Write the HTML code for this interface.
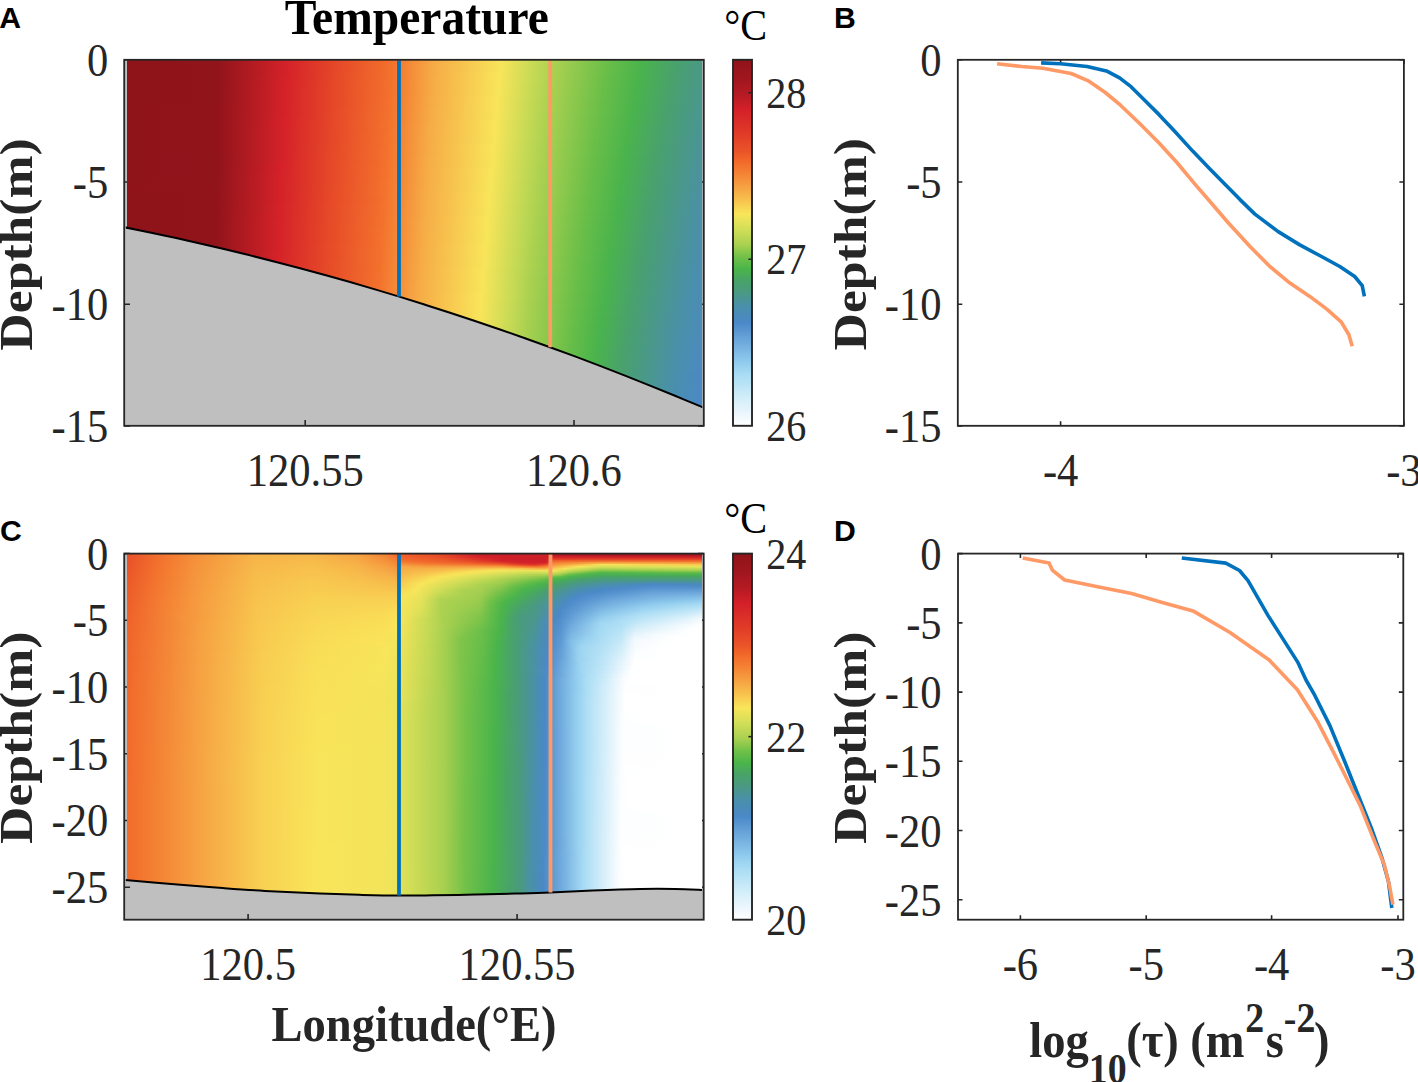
<!DOCTYPE html>
<html><head><meta charset="utf-8"><title>Temperature</title>
<style>html,body{margin:0;padding:0;background:#fff;}body{width:1418px;height:1082px;overflow:hidden;}svg{display:block;}</style>
</head><body>
<svg width="1418" height="1082" viewBox="0 0 1418 1082">
<defs><clipPath id="clipA"><path d="M124.20,227.22 C128.50,228.10 141.53,230.72 150.00,232.49 C158.47,234.26 166.67,236.02 175.00,237.84 C183.33,239.66 191.67,241.53 200.00,243.43 C208.33,245.34 216.67,247.28 225.00,249.27 C233.33,251.25 241.67,253.28 250.00,255.35 C258.33,257.41 266.67,259.52 275.00,261.67 C283.33,263.81 291.67,266.00 300.00,268.23 C308.33,270.46 316.67,272.73 325.00,275.03 C333.33,277.34 341.67,279.69 350.00,282.08 C358.33,284.47 366.67,286.90 375.00,289.37 C383.33,291.84 391.67,294.35 400.00,296.90 C408.33,299.45 416.67,302.05 425.00,304.68 C433.33,307.31 441.67,309.98 450.00,312.69 C458.33,315.41 466.67,318.16 475.00,320.95 C483.33,323.75 491.67,326.58 500.00,329.46 C508.33,332.33 516.67,335.24 525.00,338.20 C533.33,341.15 541.67,344.15 550.00,347.19 C558.33,350.22 566.67,353.30 575.00,356.41 C583.33,359.53 591.67,362.69 600.00,365.89 C608.33,369.08 616.67,372.32 625.00,375.60 C633.33,378.88 641.67,382.20 650.00,385.56 C658.33,388.91 666.67,392.31 675.00,395.75 C683.33,399.19 695.20,404.19 700.00,406.19 C704.80,408.20 703.17,407.53 703.80,407.80 L703.8,59.8 L124.2,59.8 Z"/></clipPath>
<clipPath id="clipAR"><rect x="127.0" y="59.8" width="575.3" height="400"/></clipPath>
<linearGradient id="g1" gradientUnits="userSpaceOnUse" x1="127.00" x2="702.30" y1="0" y2="0"><stop offset="0.0000" stop-color="#8f141a"/><stop offset="0.1564" stop-color="#90141a"/><stop offset="0.2781" stop-color="#d52229"/><stop offset="0.3685" stop-color="#e64a28"/><stop offset="0.4589" stop-color="#f3702c"/><stop offset="0.5354" stop-color="#f6ac46"/><stop offset="0.6501" stop-color="#f8e55a"/><stop offset="0.7161" stop-color="#bfd854"/><stop offset="0.7440" stop-color="#aad150"/><stop offset="0.8378" stop-color="#68be48"/><stop offset="0.8934" stop-color="#4ab44b"/><stop offset="0.9560" stop-color="#49a16d"/><stop offset="1.0000" stop-color="#4a9985"/></linearGradient>
<linearGradient id="g2" gradientUnits="userSpaceOnUse" x1="127.00" x2="702.30" y1="0" y2="0"><stop offset="0.0000" stop-color="#8f141a"/><stop offset="0.1564" stop-color="#90141a"/><stop offset="0.2781" stop-color="#d52229"/><stop offset="0.3685" stop-color="#e64a28"/><stop offset="0.4589" stop-color="#f3712d"/><stop offset="0.5319" stop-color="#f6ab46"/><stop offset="0.6501" stop-color="#f7e55a"/><stop offset="0.7161" stop-color="#bed754"/><stop offset="0.7405" stop-color="#abd151"/><stop offset="0.8378" stop-color="#67be48"/><stop offset="0.8934" stop-color="#4ab44c"/><stop offset="0.9560" stop-color="#49a06e"/><stop offset="1.0000" stop-color="#4a9986"/></linearGradient>
<linearGradient id="g3" gradientUnits="userSpaceOnUse" x1="127.00" x2="702.30" y1="0" y2="0"><stop offset="0.0000" stop-color="#8f141a"/><stop offset="0.1564" stop-color="#90141a"/><stop offset="0.2781" stop-color="#d52229"/><stop offset="0.3685" stop-color="#e64a28"/><stop offset="0.4589" stop-color="#f3712d"/><stop offset="0.5319" stop-color="#f6ab46"/><stop offset="0.6501" stop-color="#f7e55a"/><stop offset="0.7161" stop-color="#bdd754"/><stop offset="0.7405" stop-color="#abd151"/><stop offset="0.8343" stop-color="#69be48"/><stop offset="0.8934" stop-color="#4ab34d"/><stop offset="0.9525" stop-color="#49a16d"/><stop offset="1.0000" stop-color="#4a9887"/></linearGradient>
<linearGradient id="g4" gradientUnits="userSpaceOnUse" x1="127.00" x2="702.30" y1="0" y2="0"><stop offset="0.0000" stop-color="#8f141a"/><stop offset="0.1564" stop-color="#90141a"/><stop offset="0.2781" stop-color="#d52229"/><stop offset="0.3685" stop-color="#e64b28"/><stop offset="0.4589" stop-color="#f3712d"/><stop offset="0.5319" stop-color="#f6ab46"/><stop offset="0.6466" stop-color="#f9e55a"/><stop offset="0.7127" stop-color="#c0d854"/><stop offset="0.7405" stop-color="#aad150"/><stop offset="0.8343" stop-color="#68be48"/><stop offset="0.8900" stop-color="#4ab44c"/><stop offset="0.9525" stop-color="#49a16e"/><stop offset="1.0000" stop-color="#4a9888"/></linearGradient>
<linearGradient id="g5" gradientUnits="userSpaceOnUse" x1="127.00" x2="702.30" y1="0" y2="0"><stop offset="0.0000" stop-color="#8f141a"/><stop offset="0.1564" stop-color="#90141a"/><stop offset="0.2781" stop-color="#d52329"/><stop offset="0.3685" stop-color="#e64b28"/><stop offset="0.4589" stop-color="#f3712d"/><stop offset="0.5319" stop-color="#f6ac46"/><stop offset="0.6466" stop-color="#f9e55a"/><stop offset="0.7127" stop-color="#bfd854"/><stop offset="0.7405" stop-color="#aad150"/><stop offset="0.8309" stop-color="#69be48"/><stop offset="0.8900" stop-color="#4ab44c"/><stop offset="0.9525" stop-color="#49a06e"/><stop offset="1.0000" stop-color="#4a9889"/></linearGradient>
<linearGradient id="g6" gradientUnits="userSpaceOnUse" x1="127.00" x2="702.30" y1="0" y2="0"><stop offset="0.0000" stop-color="#8f141a"/><stop offset="0.1564" stop-color="#90141a"/><stop offset="0.2746" stop-color="#d52129"/><stop offset="0.3685" stop-color="#e74b28"/><stop offset="0.4589" stop-color="#f3722d"/><stop offset="0.5319" stop-color="#f6ac46"/><stop offset="0.6466" stop-color="#f8e55a"/><stop offset="0.7127" stop-color="#bfd854"/><stop offset="0.7370" stop-color="#abd151"/><stop offset="0.8309" stop-color="#69be48"/><stop offset="0.8865" stop-color="#4ab44b"/><stop offset="0.9491" stop-color="#49a16d"/><stop offset="1.0000" stop-color="#4a988a"/></linearGradient>
<linearGradient id="g7" gradientUnits="userSpaceOnUse" x1="127.00" x2="702.30" y1="0" y2="0"><stop offset="0.0000" stop-color="#8f141a"/><stop offset="0.1564" stop-color="#90141a"/><stop offset="0.2746" stop-color="#d52229"/><stop offset="0.3685" stop-color="#e74b28"/><stop offset="0.4589" stop-color="#f3722d"/><stop offset="0.5319" stop-color="#f6ac46"/><stop offset="0.6466" stop-color="#f8e55a"/><stop offset="0.7127" stop-color="#bed754"/><stop offset="0.7370" stop-color="#abd151"/><stop offset="0.8309" stop-color="#68be48"/><stop offset="0.8865" stop-color="#4ab44c"/><stop offset="0.9491" stop-color="#49a06e"/><stop offset="1.0000" stop-color="#4a978b"/></linearGradient>
<linearGradient id="g8" gradientUnits="userSpaceOnUse" x1="127.00" x2="702.30" y1="0" y2="0"><stop offset="0.0000" stop-color="#8f141a"/><stop offset="0.1564" stop-color="#90141a"/><stop offset="0.2746" stop-color="#d52229"/><stop offset="0.3650" stop-color="#e64a28"/><stop offset="0.4589" stop-color="#f3722d"/><stop offset="0.5319" stop-color="#f6ac46"/><stop offset="0.6466" stop-color="#f7e55a"/><stop offset="0.7127" stop-color="#bdd754"/><stop offset="0.7370" stop-color="#aad150"/><stop offset="0.8274" stop-color="#69be48"/><stop offset="0.8865" stop-color="#4ab34c"/><stop offset="0.9456" stop-color="#49a16d"/><stop offset="1.0000" stop-color="#4a978c"/></linearGradient>
<linearGradient id="g9" gradientUnits="userSpaceOnUse" x1="127.00" x2="702.30" y1="0" y2="0"><stop offset="0.0000" stop-color="#8f141a"/><stop offset="0.1564" stop-color="#90141a"/><stop offset="0.2746" stop-color="#d52229"/><stop offset="0.3650" stop-color="#e64a28"/><stop offset="0.4554" stop-color="#f2702c"/><stop offset="0.5319" stop-color="#f6ac46"/><stop offset="0.6466" stop-color="#f7e55a"/><stop offset="0.7092" stop-color="#c0d854"/><stop offset="0.7370" stop-color="#aad150"/><stop offset="0.8274" stop-color="#69be48"/><stop offset="0.8830" stop-color="#4ab44b"/><stop offset="0.9456" stop-color="#49a16e"/><stop offset="1.0000" stop-color="#4a978d"/></linearGradient>
<linearGradient id="g10" gradientUnits="userSpaceOnUse" x1="127.00" x2="702.30" y1="0" y2="0"><stop offset="0.0000" stop-color="#8f141a"/><stop offset="0.1564" stop-color="#90141a"/><stop offset="0.2746" stop-color="#d52229"/><stop offset="0.3650" stop-color="#e64a28"/><stop offset="0.4554" stop-color="#f3702c"/><stop offset="0.5284" stop-color="#f6ab46"/><stop offset="0.6431" stop-color="#f9e55a"/><stop offset="0.7092" stop-color="#bfd854"/><stop offset="0.7335" stop-color="#abd151"/><stop offset="0.8274" stop-color="#68be48"/><stop offset="0.8830" stop-color="#4ab44c"/><stop offset="0.9421" stop-color="#49a16d"/><stop offset="1.0000" stop-color="#4a978e"/></linearGradient>
<linearGradient id="g11" gradientUnits="userSpaceOnUse" x1="127.00" x2="702.30" y1="0" y2="0"><stop offset="0.0000" stop-color="#8f141a"/><stop offset="0.1564" stop-color="#90141a"/><stop offset="0.2746" stop-color="#d52229"/><stop offset="0.3650" stop-color="#e64a28"/><stop offset="0.4554" stop-color="#f3712d"/><stop offset="0.5284" stop-color="#f6ab46"/><stop offset="0.6431" stop-color="#f8e55a"/><stop offset="0.7092" stop-color="#bed754"/><stop offset="0.7335" stop-color="#abd151"/><stop offset="0.8239" stop-color="#69be48"/><stop offset="0.8830" stop-color="#4ab34d"/><stop offset="0.9421" stop-color="#49a16d"/><stop offset="1.0000" stop-color="#4a968f"/></linearGradient>
<linearGradient id="g12" gradientUnits="userSpaceOnUse" x1="127.00" x2="702.30" y1="0" y2="0"><stop offset="0.0000" stop-color="#8f141a"/><stop offset="0.1564" stop-color="#91141a"/><stop offset="0.2746" stop-color="#d52229"/><stop offset="0.3650" stop-color="#e64a28"/><stop offset="0.4554" stop-color="#f3712d"/><stop offset="0.5284" stop-color="#f6ab46"/><stop offset="0.6431" stop-color="#f8e55a"/><stop offset="0.7092" stop-color="#bed754"/><stop offset="0.7335" stop-color="#abd150"/><stop offset="0.8239" stop-color="#69be48"/><stop offset="0.8795" stop-color="#4ab44b"/><stop offset="0.9421" stop-color="#49a06e"/><stop offset="1.0000" stop-color="#4a9690"/></linearGradient>
<linearGradient id="g13" gradientUnits="userSpaceOnUse" x1="127.00" x2="702.30" y1="0" y2="0"><stop offset="0.0000" stop-color="#8f141a"/><stop offset="0.1564" stop-color="#91141a"/><stop offset="0.2746" stop-color="#d52229"/><stop offset="0.3650" stop-color="#e64b28"/><stop offset="0.4554" stop-color="#f3712d"/><stop offset="0.5284" stop-color="#f6ac46"/><stop offset="0.6431" stop-color="#f8e55a"/><stop offset="0.7092" stop-color="#bdd754"/><stop offset="0.7335" stop-color="#aad150"/><stop offset="0.8239" stop-color="#68be48"/><stop offset="0.8795" stop-color="#4ab44c"/><stop offset="0.9386" stop-color="#49a16d"/><stop offset="1.0000" stop-color="#4a9691"/></linearGradient>
<linearGradient id="g14" gradientUnits="userSpaceOnUse" x1="127.00" x2="702.30" y1="0" y2="0"><stop offset="0.0000" stop-color="#8f141a"/><stop offset="0.1564" stop-color="#91141a"/><stop offset="0.2746" stop-color="#d52229"/><stop offset="0.3650" stop-color="#e64b28"/><stop offset="0.4554" stop-color="#f3722d"/><stop offset="0.5284" stop-color="#f6ac46"/><stop offset="0.6431" stop-color="#f7e55a"/><stop offset="0.7057" stop-color="#bfd854"/><stop offset="0.7301" stop-color="#abd151"/><stop offset="0.8239" stop-color="#68be48"/><stop offset="0.8795" stop-color="#4ab34d"/><stop offset="0.9386" stop-color="#49a06e"/><stop offset="1.0000" stop-color="#4a9692"/></linearGradient>
<linearGradient id="g15" gradientUnits="userSpaceOnUse" x1="127.00" x2="702.30" y1="0" y2="0"><stop offset="0.0000" stop-color="#8f141a"/><stop offset="0.1564" stop-color="#91141a"/><stop offset="0.2746" stop-color="#d52329"/><stop offset="0.3650" stop-color="#e74b28"/><stop offset="0.4554" stop-color="#f3722d"/><stop offset="0.5284" stop-color="#f6ac46"/><stop offset="0.6431" stop-color="#f7e55a"/><stop offset="0.7057" stop-color="#bfd854"/><stop offset="0.7301" stop-color="#abd151"/><stop offset="0.8204" stop-color="#69be48"/><stop offset="0.8761" stop-color="#4ab44c"/><stop offset="0.9352" stop-color="#49a16d"/><stop offset="1.0000" stop-color="#4a9593"/></linearGradient>
<linearGradient id="g16" gradientUnits="userSpaceOnUse" x1="127.00" x2="702.30" y1="0" y2="0"><stop offset="0.0000" stop-color="#8f141a"/><stop offset="0.1564" stop-color="#91141a"/><stop offset="0.2712" stop-color="#d52129"/><stop offset="0.3650" stop-color="#e74b28"/><stop offset="0.4554" stop-color="#f3722d"/><stop offset="0.5284" stop-color="#f6ac46"/><stop offset="0.6397" stop-color="#f9e55a"/><stop offset="0.7022" stop-color="#c1d854"/><stop offset="0.7301" stop-color="#abd150"/><stop offset="0.8204" stop-color="#68be48"/><stop offset="0.8761" stop-color="#4ab44c"/><stop offset="0.9352" stop-color="#49a16d"/><stop offset="1.0000" stop-color="#4a9594"/></linearGradient>
<linearGradient id="g17" gradientUnits="userSpaceOnUse" x1="127.00" x2="702.30" y1="0" y2="0"><stop offset="0.0000" stop-color="#8f141a"/><stop offset="0.1564" stop-color="#91141a"/><stop offset="0.2712" stop-color="#d52129"/><stop offset="0.3650" stop-color="#e74b28"/><stop offset="0.4554" stop-color="#f3732d"/><stop offset="0.5249" stop-color="#f6ab46"/><stop offset="0.6397" stop-color="#f8e55a"/><stop offset="0.7057" stop-color="#bdd754"/><stop offset="0.7301" stop-color="#aad150"/><stop offset="0.8204" stop-color="#68be48"/><stop offset="0.8761" stop-color="#4ab34d"/><stop offset="0.9352" stop-color="#49a06e"/><stop offset="1.0000" stop-color="#4a9595"/></linearGradient>
<linearGradient id="g18" gradientUnits="userSpaceOnUse" x1="127.00" x2="702.30" y1="0" y2="0"><stop offset="0.0000" stop-color="#8f141a"/><stop offset="0.1564" stop-color="#91141a"/><stop offset="0.2712" stop-color="#d52229"/><stop offset="0.3616" stop-color="#e64a28"/><stop offset="0.4519" stop-color="#f3702c"/><stop offset="0.5249" stop-color="#f6ab46"/><stop offset="0.6397" stop-color="#f8e55a"/><stop offset="0.7022" stop-color="#c0d854"/><stop offset="0.7266" stop-color="#acd151"/><stop offset="0.8170" stop-color="#69be48"/><stop offset="0.8726" stop-color="#4ab44c"/><stop offset="0.9317" stop-color="#49a16d"/><stop offset="1.0000" stop-color="#4a9596"/></linearGradient>
<linearGradient id="g19" gradientUnits="userSpaceOnUse" x1="127.00" x2="702.30" y1="0" y2="0"><stop offset="0.0000" stop-color="#8f141a"/><stop offset="0.1564" stop-color="#91141a"/><stop offset="0.2712" stop-color="#d52229"/><stop offset="0.3616" stop-color="#e64a28"/><stop offset="0.4519" stop-color="#f3712d"/><stop offset="0.5249" stop-color="#f6ab46"/><stop offset="0.6397" stop-color="#f8e55a"/><stop offset="0.7022" stop-color="#bfd854"/><stop offset="0.7266" stop-color="#abd151"/><stop offset="0.8170" stop-color="#69be48"/><stop offset="0.8726" stop-color="#4ab34c"/><stop offset="0.9317" stop-color="#49a16e"/><stop offset="1.0000" stop-color="#4a9497"/></linearGradient>
<linearGradient id="g20" gradientUnits="userSpaceOnUse" x1="127.00" x2="702.30" y1="0" y2="0"><stop offset="0.0000" stop-color="#8f141a"/><stop offset="0.1564" stop-color="#91141a"/><stop offset="0.2712" stop-color="#d52229"/><stop offset="0.3616" stop-color="#e64a28"/><stop offset="0.4519" stop-color="#f3712d"/><stop offset="0.5249" stop-color="#f6ac46"/><stop offset="0.6397" stop-color="#f7e55a"/><stop offset="0.7022" stop-color="#bfd854"/><stop offset="0.7266" stop-color="#abd151"/><stop offset="0.8170" stop-color="#68be48"/><stop offset="0.8691" stop-color="#4ab44b"/><stop offset="0.9282" stop-color="#49a16d"/><stop offset="1.0000" stop-color="#4a9498"/></linearGradient>
<linearGradient id="g21" gradientUnits="userSpaceOnUse" x1="127.00" x2="702.30" y1="0" y2="0"><stop offset="0.0000" stop-color="#8f141a"/><stop offset="0.1564" stop-color="#91141a"/><stop offset="0.2712" stop-color="#d52229"/><stop offset="0.3616" stop-color="#e64a28"/><stop offset="0.4519" stop-color="#f3712d"/><stop offset="0.5249" stop-color="#f6ac46"/><stop offset="0.6397" stop-color="#f7e55a"/><stop offset="0.7022" stop-color="#bed754"/><stop offset="0.7266" stop-color="#aad150"/><stop offset="0.8135" stop-color="#69be48"/><stop offset="0.8691" stop-color="#4ab44c"/><stop offset="0.9282" stop-color="#49a16d"/><stop offset="0.9977" stop-color="#4a9497"/><stop offset="1.0000" stop-color="#4a9499"/></linearGradient>
<linearGradient id="g22" gradientUnits="userSpaceOnUse" x1="127.00" x2="702.30" y1="0" y2="0"><stop offset="0.0000" stop-color="#8f141a"/><stop offset="0.1564" stop-color="#91141a"/><stop offset="0.2712" stop-color="#d52229"/><stop offset="0.3616" stop-color="#e64b28"/><stop offset="0.4519" stop-color="#f3712d"/><stop offset="0.5249" stop-color="#f6ac46"/><stop offset="0.6362" stop-color="#f9e55a"/><stop offset="0.6988" stop-color="#c1d854"/><stop offset="0.7266" stop-color="#aad150"/><stop offset="0.8135" stop-color="#69be48"/><stop offset="0.8691" stop-color="#4ab34c"/><stop offset="0.9282" stop-color="#49a06e"/><stop offset="0.9977" stop-color="#4a9498"/><stop offset="1.0000" stop-color="#4a949a"/></linearGradient>
<linearGradient id="g23" gradientUnits="userSpaceOnUse" x1="127.00" x2="702.30" y1="0" y2="0"><stop offset="0.0000" stop-color="#8f141a"/><stop offset="0.1564" stop-color="#91141a"/><stop offset="0.2712" stop-color="#d52229"/><stop offset="0.3616" stop-color="#e64b28"/><stop offset="0.4519" stop-color="#f3722d"/><stop offset="0.5249" stop-color="#f6ac46"/><stop offset="0.6362" stop-color="#f9e55a"/><stop offset="0.6988" stop-color="#c0d854"/><stop offset="0.7231" stop-color="#abd151"/><stop offset="0.8135" stop-color="#68be48"/><stop offset="0.8656" stop-color="#4ab44b"/><stop offset="0.9247" stop-color="#49a16d"/><stop offset="0.9943" stop-color="#4a9497"/><stop offset="1.0000" stop-color="#4a939b"/></linearGradient>
<linearGradient id="g24" gradientUnits="userSpaceOnUse" x1="127.00" x2="702.30" y1="0" y2="0"><stop offset="0.0000" stop-color="#8f141a"/><stop offset="0.1564" stop-color="#91141b"/><stop offset="0.2712" stop-color="#d52229"/><stop offset="0.3616" stop-color="#e74b28"/><stop offset="0.4519" stop-color="#f3722d"/><stop offset="0.5249" stop-color="#f6ac46"/><stop offset="0.6362" stop-color="#f8e55a"/><stop offset="0.6988" stop-color="#bfd854"/><stop offset="0.7231" stop-color="#abd151"/><stop offset="0.8135" stop-color="#68be48"/><stop offset="0.8656" stop-color="#4ab44c"/><stop offset="0.9247" stop-color="#49a16e"/><stop offset="0.9908" stop-color="#4a9595"/><stop offset="1.0000" stop-color="#4a939c"/></linearGradient>
<linearGradient id="g25" gradientUnits="userSpaceOnUse" x1="127.00" x2="702.30" y1="0" y2="0"><stop offset="0.0000" stop-color="#8f141a"/><stop offset="0.1564" stop-color="#91141b"/><stop offset="0.2712" stop-color="#d52229"/><stop offset="0.3616" stop-color="#e74b28"/><stop offset="0.4519" stop-color="#f3722d"/><stop offset="0.5215" stop-color="#f6ab46"/><stop offset="0.6362" stop-color="#f8e55a"/><stop offset="0.6988" stop-color="#bfd854"/><stop offset="0.7231" stop-color="#abd150"/><stop offset="0.8100" stop-color="#69be48"/><stop offset="0.8656" stop-color="#4ab34c"/><stop offset="0.9247" stop-color="#49a06e"/><stop offset="0.9943" stop-color="#4a9499"/><stop offset="1.0000" stop-color="#4a939d"/></linearGradient>
<linearGradient id="g26" gradientUnits="userSpaceOnUse" x1="127.00" x2="702.30" y1="0" y2="0"><stop offset="0.0000" stop-color="#8f141a"/><stop offset="0.1564" stop-color="#91141b"/><stop offset="0.2712" stop-color="#d52329"/><stop offset="0.3616" stop-color="#e74b28"/><stop offset="0.4485" stop-color="#f2702c"/><stop offset="0.5215" stop-color="#f6ab46"/><stop offset="0.6362" stop-color="#f7e55a"/><stop offset="0.6953" stop-color="#c1d854"/><stop offset="0.7231" stop-color="#aad150"/><stop offset="0.8100" stop-color="#69be48"/><stop offset="0.8622" stop-color="#4ab44b"/><stop offset="0.9213" stop-color="#49a16d"/><stop offset="0.9873" stop-color="#4a9595"/><stop offset="1.0000" stop-color="#4a939e"/></linearGradient>
<linearGradient id="g27" gradientUnits="userSpaceOnUse" x1="127.00" x2="702.30" y1="0" y2="0"><stop offset="0.0000" stop-color="#8f141a"/><stop offset="0.1564" stop-color="#91141b"/><stop offset="0.2677" stop-color="#d52129"/><stop offset="0.3616" stop-color="#e74c28"/><stop offset="0.4485" stop-color="#f3702c"/><stop offset="0.5215" stop-color="#f6ab46"/><stop offset="0.6362" stop-color="#f7e55a"/><stop offset="0.6953" stop-color="#c1d854"/><stop offset="0.7196" stop-color="#acd151"/><stop offset="0.8100" stop-color="#68be48"/><stop offset="0.8622" stop-color="#4ab44c"/><stop offset="0.9213" stop-color="#49a06e"/><stop offset="0.9908" stop-color="#4a9498"/><stop offset="1.0000" stop-color="#4a929f"/></linearGradient>
<linearGradient id="g28" gradientUnits="userSpaceOnUse" x1="127.00" x2="702.30" y1="0" y2="0"><stop offset="0.0000" stop-color="#8f141a"/><stop offset="0.1564" stop-color="#91141b"/><stop offset="0.2677" stop-color="#d52129"/><stop offset="0.3616" stop-color="#e74c28"/><stop offset="0.4485" stop-color="#f3712d"/><stop offset="0.5215" stop-color="#f6ac46"/><stop offset="0.6327" stop-color="#f9e55a"/><stop offset="0.6953" stop-color="#c0d854"/><stop offset="0.7196" stop-color="#abd151"/><stop offset="0.8065" stop-color="#69be48"/><stop offset="0.8622" stop-color="#4ab34c"/><stop offset="0.9178" stop-color="#49a16d"/><stop offset="0.9873" stop-color="#4a9497"/><stop offset="1.0000" stop-color="#4a92a0"/></linearGradient>
<linearGradient id="g29" gradientUnits="userSpaceOnUse" x1="127.00" x2="702.30" y1="0" y2="0"><stop offset="0.0000" stop-color="#8f141a"/><stop offset="0.1564" stop-color="#91141b"/><stop offset="0.2677" stop-color="#d52229"/><stop offset="0.3581" stop-color="#e64a28"/><stop offset="0.4485" stop-color="#f3712d"/><stop offset="0.5215" stop-color="#f6ac46"/><stop offset="0.6327" stop-color="#f9e55a"/><stop offset="0.6953" stop-color="#bfd854"/><stop offset="0.7196" stop-color="#abd151"/><stop offset="0.8065" stop-color="#69be48"/><stop offset="0.8587" stop-color="#4ab44b"/><stop offset="0.9178" stop-color="#49a16d"/><stop offset="0.9838" stop-color="#4a9596"/><stop offset="1.0000" stop-color="#4a92a1"/></linearGradient>
<linearGradient id="g30" gradientUnits="userSpaceOnUse" x1="127.00" x2="702.30" y1="0" y2="0"><stop offset="0.0000" stop-color="#8f141a"/><stop offset="0.1564" stop-color="#91141b"/><stop offset="0.2677" stop-color="#d52229"/><stop offset="0.3581" stop-color="#e64a28"/><stop offset="0.4485" stop-color="#f3712d"/><stop offset="0.5215" stop-color="#f6ac46"/><stop offset="0.6327" stop-color="#f8e55a"/><stop offset="0.6953" stop-color="#bfd854"/><stop offset="0.7196" stop-color="#abd150"/><stop offset="0.8065" stop-color="#68be48"/><stop offset="0.8587" stop-color="#4ab44c"/><stop offset="0.9178" stop-color="#49a06e"/><stop offset="0.9873" stop-color="#4a9499"/><stop offset="1.0000" stop-color="#4a92a2"/></linearGradient>
<linearGradient id="g31" gradientUnits="userSpaceOnUse" x1="127.00" x2="702.30" y1="0" y2="0"><stop offset="0.0000" stop-color="#8f141a"/><stop offset="0.1564" stop-color="#92141b"/><stop offset="0.2677" stop-color="#d52229"/><stop offset="0.3581" stop-color="#e64a28"/><stop offset="0.4485" stop-color="#f3722d"/><stop offset="0.5215" stop-color="#f6ac46"/><stop offset="0.6327" stop-color="#f8e55a"/><stop offset="0.6918" stop-color="#c1d854"/><stop offset="0.7196" stop-color="#aad150"/><stop offset="0.8031" stop-color="#6abe48"/><stop offset="0.8587" stop-color="#4ab34c"/><stop offset="0.9143" stop-color="#49a16d"/><stop offset="0.9804" stop-color="#4a9595"/><stop offset="1.0000" stop-color="#4a91a3"/></linearGradient>
<linearGradient id="g32" gradientUnits="userSpaceOnUse" x1="127.00" x2="702.30" y1="0" y2="0"><stop offset="0.0000" stop-color="#8f141a"/><stop offset="0.1564" stop-color="#92141b"/><stop offset="0.2677" stop-color="#d52229"/><stop offset="0.3581" stop-color="#e64b28"/><stop offset="0.4485" stop-color="#f3722d"/><stop offset="0.5215" stop-color="#f6ad46"/><stop offset="0.6327" stop-color="#f7e55a"/><stop offset="0.6918" stop-color="#c1d854"/><stop offset="0.7161" stop-color="#abd151"/><stop offset="0.8031" stop-color="#69be48"/><stop offset="0.8587" stop-color="#4ab34d"/><stop offset="0.9143" stop-color="#49a16e"/><stop offset="0.9804" stop-color="#4a9496"/><stop offset="1.0000" stop-color="#4a91a4"/></linearGradient>
<linearGradient id="g33" gradientUnits="userSpaceOnUse" x1="127.00" x2="702.30" y1="0" y2="0"><stop offset="0.0000" stop-color="#8f141a"/><stop offset="0.1564" stop-color="#92141b"/><stop offset="0.2677" stop-color="#d52229"/><stop offset="0.3581" stop-color="#e64b28"/><stop offset="0.4485" stop-color="#f3722d"/><stop offset="0.5180" stop-color="#f6ab46"/><stop offset="0.6327" stop-color="#f7e55a"/><stop offset="0.6918" stop-color="#c0d854"/><stop offset="0.7161" stop-color="#abd151"/><stop offset="0.8031" stop-color="#69be48"/><stop offset="0.8552" stop-color="#4ab44c"/><stop offset="0.9108" stop-color="#49a16c"/><stop offset="0.9804" stop-color="#4a9497"/><stop offset="1.0000" stop-color="#4a91a5"/></linearGradient>
<linearGradient id="g34" gradientUnits="userSpaceOnUse" x1="127.00" x2="702.30" y1="0" y2="0"><stop offset="0.0000" stop-color="#8f141a"/><stop offset="0.1530" stop-color="#90141a"/><stop offset="0.2677" stop-color="#d52229"/><stop offset="0.3581" stop-color="#e74b28"/><stop offset="0.4485" stop-color="#f3732d"/><stop offset="0.5180" stop-color="#f6ab46"/><stop offset="0.6292" stop-color="#f9e55a"/><stop offset="0.6918" stop-color="#bfd854"/><stop offset="0.7161" stop-color="#abd150"/><stop offset="0.8031" stop-color="#68be48"/><stop offset="0.8552" stop-color="#4ab44c"/><stop offset="0.9108" stop-color="#49a16d"/><stop offset="0.9769" stop-color="#4a9596"/><stop offset="1.0000" stop-color="#4a91a6"/></linearGradient>
<linearGradient id="g35" gradientUnits="userSpaceOnUse" x1="127.00" x2="702.30" y1="0" y2="0"><stop offset="0.0000" stop-color="#8f141a"/><stop offset="0.1530" stop-color="#90141a"/><stop offset="0.2677" stop-color="#d52229"/><stop offset="0.3616" stop-color="#e74d28"/><stop offset="0.4450" stop-color="#f2702c"/><stop offset="0.5180" stop-color="#f6ab46"/><stop offset="0.6292" stop-color="#f9e55a"/><stop offset="0.6918" stop-color="#bfd854"/><stop offset="0.7161" stop-color="#aad150"/><stop offset="0.7996" stop-color="#69be48"/><stop offset="0.8552" stop-color="#4ab34d"/><stop offset="0.9108" stop-color="#49a06e"/><stop offset="0.9804" stop-color="#4a9499"/><stop offset="1.0000" stop-color="#4a90a7"/></linearGradient>
<linearGradient id="g36" gradientUnits="userSpaceOnUse" x1="127.00" x2="702.30" y1="0" y2="0"><stop offset="0.0000" stop-color="#8f141a"/><stop offset="0.1530" stop-color="#90141a"/><stop offset="0.2677" stop-color="#d52229"/><stop offset="0.3581" stop-color="#e74b28"/><stop offset="0.4450" stop-color="#f3702c"/><stop offset="0.5180" stop-color="#f6ac46"/><stop offset="0.6292" stop-color="#f8e55a"/><stop offset="0.6883" stop-color="#c2d955"/><stop offset="0.7161" stop-color="#aad150"/><stop offset="0.7996" stop-color="#69be48"/><stop offset="0.8517" stop-color="#4ab44b"/><stop offset="0.9074" stop-color="#49a16d"/><stop offset="0.9734" stop-color="#4a9595"/><stop offset="1.0000" stop-color="#4a90a8"/></linearGradient>
<linearGradient id="g37" gradientUnits="userSpaceOnUse" x1="127.00" x2="702.30" y1="0" y2="0"><stop offset="0.0000" stop-color="#8f141a"/><stop offset="0.1530" stop-color="#90141a"/><stop offset="0.2677" stop-color="#d52329"/><stop offset="0.3581" stop-color="#e74c28"/><stop offset="0.4450" stop-color="#f3712d"/><stop offset="0.5180" stop-color="#f6ac46"/><stop offset="0.6292" stop-color="#f8e55a"/><stop offset="0.6883" stop-color="#c1d854"/><stop offset="0.7127" stop-color="#abd151"/><stop offset="0.7996" stop-color="#68be48"/><stop offset="0.8517" stop-color="#4ab44c"/><stop offset="0.9074" stop-color="#49a16d"/><stop offset="0.9734" stop-color="#4a9496"/><stop offset="1.0000" stop-color="#4a90a8"/></linearGradient>
<linearGradient id="g38" gradientUnits="userSpaceOnUse" x1="127.00" x2="702.30" y1="0" y2="0"><stop offset="0.0000" stop-color="#8f141a"/><stop offset="0.1530" stop-color="#90141a"/><stop offset="0.2677" stop-color="#d52329"/><stop offset="0.3581" stop-color="#e74c28"/><stop offset="0.4450" stop-color="#f3712d"/><stop offset="0.5180" stop-color="#f6ac46"/><stop offset="0.6292" stop-color="#f7e55a"/><stop offset="0.6883" stop-color="#c0d854"/><stop offset="0.7127" stop-color="#abd151"/><stop offset="0.7996" stop-color="#68be48"/><stop offset="0.8517" stop-color="#4ab34d"/><stop offset="0.9074" stop-color="#49a06e"/><stop offset="0.9769" stop-color="#4a949a"/><stop offset="1.0000" stop-color="#4a90a9"/></linearGradient>
<linearGradient id="g39" gradientUnits="userSpaceOnUse" x1="127.00" x2="702.30" y1="0" y2="0"><stop offset="0.0000" stop-color="#8f141a"/><stop offset="0.1530" stop-color="#90141a"/><stop offset="0.2642" stop-color="#d52129"/><stop offset="0.3581" stop-color="#e74c28"/><stop offset="0.4450" stop-color="#f3712d"/><stop offset="0.5180" stop-color="#f6ac46"/><stop offset="0.6292" stop-color="#f7e55a"/><stop offset="0.6883" stop-color="#c0d854"/><stop offset="0.7127" stop-color="#abd150"/><stop offset="0.7961" stop-color="#69be48"/><stop offset="0.8483" stop-color="#4ab44b"/><stop offset="0.9039" stop-color="#49a16d"/><stop offset="0.9699" stop-color="#4a9596"/><stop offset="1.0000" stop-color="#4a90aa"/></linearGradient>
<linearGradient id="g40" gradientUnits="userSpaceOnUse" x1="127.00" x2="702.30" y1="0" y2="0"><stop offset="0.0000" stop-color="#8f141a"/><stop offset="0.1530" stop-color="#90141a"/><stop offset="0.2642" stop-color="#d52129"/><stop offset="0.3581" stop-color="#e74c28"/><stop offset="0.4450" stop-color="#f3722d"/><stop offset="0.5180" stop-color="#f6ad46"/><stop offset="0.6258" stop-color="#f9e55a"/><stop offset="0.6849" stop-color="#c2d955"/><stop offset="0.7092" stop-color="#acd151"/><stop offset="0.7787" stop-color="#75c249"/><stop offset="0.8483" stop-color="#4ab44c"/><stop offset="0.9039" stop-color="#49a16d"/><stop offset="0.9699" stop-color="#4a9497"/><stop offset="1.0000" stop-color="#4a8faa"/></linearGradient>
<linearGradient id="g41" gradientUnits="userSpaceOnUse" x1="127.00" x2="702.30" y1="0" y2="0"><stop offset="0.0000" stop-color="#8f141a"/><stop offset="0.1530" stop-color="#90141a"/><stop offset="0.2642" stop-color="#d52229"/><stop offset="0.3546" stop-color="#e64b28"/><stop offset="0.4450" stop-color="#f3722d"/><stop offset="0.5145" stop-color="#f6ab46"/><stop offset="0.6258" stop-color="#f9e55a"/><stop offset="0.6849" stop-color="#c2d955"/><stop offset="0.7092" stop-color="#acd151"/><stop offset="0.7961" stop-color="#68be48"/><stop offset="0.8483" stop-color="#4ab34d"/><stop offset="0.9039" stop-color="#49a06e"/><stop offset="0.9699" stop-color="#4a9498"/><stop offset="1.0000" stop-color="#4a8fab"/></linearGradient>
<linearGradient id="g42" gradientUnits="userSpaceOnUse" x1="127.00" x2="702.30" y1="0" y2="0"><stop offset="0.0000" stop-color="#8f141a"/><stop offset="0.1530" stop-color="#90141a"/><stop offset="0.2642" stop-color="#d52229"/><stop offset="0.3581" stop-color="#e74d28"/><stop offset="0.4450" stop-color="#f3722d"/><stop offset="0.5145" stop-color="#f6ab46"/><stop offset="0.6258" stop-color="#f8e55a"/><stop offset="0.6849" stop-color="#c1d854"/><stop offset="0.7092" stop-color="#abd151"/><stop offset="0.7961" stop-color="#68be48"/><stop offset="0.8448" stop-color="#4ab44b"/><stop offset="0.9004" stop-color="#49a16d"/><stop offset="0.9665" stop-color="#4a9496"/><stop offset="1.0000" stop-color="#4a8fab"/></linearGradient>
<linearGradient id="g43" gradientUnits="userSpaceOnUse" x1="127.00" x2="702.30" y1="0" y2="0"><stop offset="0.0000" stop-color="#8f141a"/><stop offset="0.1530" stop-color="#90141a"/><stop offset="0.2642" stop-color="#d52229"/><stop offset="0.3581" stop-color="#e74d28"/><stop offset="0.4450" stop-color="#f3732d"/><stop offset="0.5145" stop-color="#f6ab46"/><stop offset="0.6258" stop-color="#f8e55a"/><stop offset="0.6849" stop-color="#c1d854"/><stop offset="0.7092" stop-color="#abd151"/><stop offset="0.7926" stop-color="#69be48"/><stop offset="0.8448" stop-color="#4ab44c"/><stop offset="0.9004" stop-color="#49a16e"/><stop offset="0.9665" stop-color="#4a9497"/><stop offset="1.0000" stop-color="#4a8fac"/></linearGradient>
<linearGradient id="g44" gradientUnits="userSpaceOnUse" x1="127.00" x2="702.30" y1="0" y2="0"><stop offset="0.0000" stop-color="#8f141a"/><stop offset="0.1530" stop-color="#90141a"/><stop offset="0.2642" stop-color="#d52229"/><stop offset="0.3581" stop-color="#e74d28"/><stop offset="0.4415" stop-color="#f3702c"/><stop offset="0.5145" stop-color="#f6ac46"/><stop offset="0.6258" stop-color="#f7e55a"/><stop offset="0.6849" stop-color="#c0d854"/><stop offset="0.7092" stop-color="#abd150"/><stop offset="0.7926" stop-color="#69be48"/><stop offset="0.8448" stop-color="#4ab34c"/><stop offset="0.9004" stop-color="#49a06e"/><stop offset="0.9665" stop-color="#4a9498"/><stop offset="1.0000" stop-color="#4a8fad"/></linearGradient>
<linearGradient id="g45" gradientUnits="userSpaceOnUse" x1="127.00" x2="702.30" y1="0" y2="0"><stop offset="0.0000" stop-color="#8f141a"/><stop offset="0.1530" stop-color="#90141a"/><stop offset="0.2642" stop-color="#d52229"/><stop offset="0.3581" stop-color="#e74d28"/><stop offset="0.4415" stop-color="#f3712d"/><stop offset="0.5145" stop-color="#f6ac46"/><stop offset="0.6258" stop-color="#f7e55a"/><stop offset="0.6849" stop-color="#bfd854"/><stop offset="0.7057" stop-color="#acd151"/><stop offset="0.7752" stop-color="#74c149"/><stop offset="0.8413" stop-color="#4ab44b"/><stop offset="0.8969" stop-color="#49a16d"/><stop offset="0.9630" stop-color="#4a9496"/><stop offset="1.0000" stop-color="#4a8fad"/></linearGradient>
<linearGradient id="g46" gradientUnits="userSpaceOnUse" x1="127.00" x2="702.30" y1="0" y2="0"><stop offset="0.0000" stop-color="#8f141a"/><stop offset="0.1530" stop-color="#90141a"/><stop offset="0.2642" stop-color="#d52229"/><stop offset="0.3581" stop-color="#e74d28"/><stop offset="0.4415" stop-color="#f3712d"/><stop offset="0.5145" stop-color="#f6ac46"/><stop offset="0.6258" stop-color="#f7e55a"/><stop offset="0.6849" stop-color="#bfd854"/><stop offset="0.7092" stop-color="#aad150"/><stop offset="0.7892" stop-color="#6abe48"/><stop offset="0.8413" stop-color="#4ab44c"/><stop offset="0.8969" stop-color="#49a16e"/><stop offset="0.9630" stop-color="#4a9497"/><stop offset="1.0000" stop-color="#4a8fae"/></linearGradient>
<linearGradient id="g47" gradientUnits="userSpaceOnUse" x1="127.00" x2="702.30" y1="0" y2="0"><stop offset="0.0000" stop-color="#8f141a"/><stop offset="0.1530" stop-color="#90141a"/><stop offset="0.2642" stop-color="#d52229"/><stop offset="0.3581" stop-color="#e84e28"/><stop offset="0.4415" stop-color="#f3712d"/><stop offset="0.5145" stop-color="#f6ac46"/><stop offset="0.6223" stop-color="#f9e55a"/><stop offset="0.6814" stop-color="#c2d955"/><stop offset="0.7057" stop-color="#abd151"/><stop offset="0.7892" stop-color="#69be48"/><stop offset="0.8413" stop-color="#4ab44c"/><stop offset="0.8969" stop-color="#49a06e"/><stop offset="0.9630" stop-color="#4a9498"/><stop offset="1.0000" stop-color="#4a8eaf"/></linearGradient>
<linearGradient id="g48" gradientUnits="userSpaceOnUse" x1="127.00" x2="702.30" y1="0" y2="0"><stop offset="0.0000" stop-color="#8f141a"/><stop offset="0.1530" stop-color="#90141a"/><stop offset="0.2642" stop-color="#d52229"/><stop offset="0.3581" stop-color="#e84e28"/><stop offset="0.4415" stop-color="#f3722d"/><stop offset="0.5145" stop-color="#f6ad46"/><stop offset="0.6223" stop-color="#f9e55a"/><stop offset="0.6814" stop-color="#c1d854"/><stop offset="0.7057" stop-color="#abd151"/><stop offset="0.7892" stop-color="#69be48"/><stop offset="0.8413" stop-color="#4ab34d"/><stop offset="0.8934" stop-color="#49a16d"/><stop offset="0.9595" stop-color="#4a9497"/><stop offset="0.9977" stop-color="#4a8eae"/><stop offset="1.0000" stop-color="#4a8eaf"/></linearGradient>
<linearGradient id="g49" gradientUnits="userSpaceOnUse" x1="127.00" x2="702.30" y1="0" y2="0"><stop offset="0.0000" stop-color="#8f141a"/><stop offset="0.1530" stop-color="#90141a"/><stop offset="0.2642" stop-color="#d52329"/><stop offset="0.3546" stop-color="#e74c28"/><stop offset="0.4415" stop-color="#f3722d"/><stop offset="0.5110" stop-color="#f6ab46"/><stop offset="0.6223" stop-color="#f8e55a"/><stop offset="0.6814" stop-color="#c0d854"/><stop offset="0.7057" stop-color="#abd150"/><stop offset="0.7892" stop-color="#68be48"/><stop offset="0.8378" stop-color="#4ab44b"/><stop offset="0.8934" stop-color="#49a16e"/><stop offset="0.9595" stop-color="#4a9498"/><stop offset="1.0000" stop-color="#4a8eb0"/></linearGradient>
<linearGradient id="g50" gradientUnits="userSpaceOnUse" x1="127.00" x2="702.30" y1="0" y2="0"><stop offset="0.0000" stop-color="#8f141a"/><stop offset="0.1530" stop-color="#90141a"/><stop offset="0.2642" stop-color="#d52329"/><stop offset="0.3546" stop-color="#e74c28"/><stop offset="0.4415" stop-color="#f3722d"/><stop offset="0.5110" stop-color="#f6ab46"/><stop offset="0.6223" stop-color="#f8e55a"/><stop offset="0.6779" stop-color="#c3d955"/><stop offset="0.7022" stop-color="#acd151"/><stop offset="0.7648" stop-color="#79c349"/><stop offset="0.8378" stop-color="#4ab44c"/><stop offset="0.8934" stop-color="#49a06e"/><stop offset="0.9560" stop-color="#4a9496"/><stop offset="0.9943" stop-color="#4a8fae"/><stop offset="1.0000" stop-color="#4a8eb0"/></linearGradient>
<linearGradient id="g51" gradientUnits="userSpaceOnUse" x1="127.00" x2="702.30" y1="0" y2="0"><stop offset="0.0000" stop-color="#8f141a"/><stop offset="0.1530" stop-color="#90141a"/><stop offset="0.2607" stop-color="#d52129"/><stop offset="0.3546" stop-color="#e74d28"/><stop offset="0.4415" stop-color="#f3722d"/><stop offset="0.5110" stop-color="#f6ab46"/><stop offset="0.6223" stop-color="#f7e55a"/><stop offset="0.6779" stop-color="#c3d955"/><stop offset="0.7022" stop-color="#acd151"/><stop offset="0.7857" stop-color="#69be48"/><stop offset="0.8378" stop-color="#4ab34d"/><stop offset="0.8900" stop-color="#49a16d"/><stop offset="0.9560" stop-color="#4a9497"/><stop offset="0.9943" stop-color="#4a8eae"/><stop offset="1.0000" stop-color="#4a8eb1"/></linearGradient>
<linearGradient id="g52" gradientUnits="userSpaceOnUse" x1="127.00" x2="702.30" y1="0" y2="0"><stop offset="0.0000" stop-color="#8f141a"/><stop offset="0.1530" stop-color="#90141a"/><stop offset="0.2607" stop-color="#d52129"/><stop offset="0.3546" stop-color="#e74d28"/><stop offset="0.4380" stop-color="#f2702c"/><stop offset="0.5110" stop-color="#f6ac46"/><stop offset="0.6223" stop-color="#f7e55a"/><stop offset="0.6814" stop-color="#bfd854"/><stop offset="0.7057" stop-color="#aad150"/><stop offset="0.7857" stop-color="#69be48"/><stop offset="0.8343" stop-color="#4ab44b"/><stop offset="0.8900" stop-color="#49a06e"/><stop offset="0.9560" stop-color="#4a9498"/><stop offset="0.9943" stop-color="#4a8eaf"/><stop offset="1.0000" stop-color="#4a8eb2"/></linearGradient>
<linearGradient id="g53" gradientUnits="userSpaceOnUse" x1="127.00" x2="702.30" y1="0" y2="0"><stop offset="0.0000" stop-color="#8f141a"/><stop offset="0.1530" stop-color="#90141a"/><stop offset="0.2607" stop-color="#d52229"/><stop offset="0.3546" stop-color="#e74d28"/><stop offset="0.4380" stop-color="#f3702c"/><stop offset="0.5110" stop-color="#f6ac46"/><stop offset="0.6188" stop-color="#f9e55a"/><stop offset="0.6779" stop-color="#c1d855"/><stop offset="0.7022" stop-color="#abd151"/><stop offset="0.7857" stop-color="#68be48"/><stop offset="0.8343" stop-color="#4ab44c"/><stop offset="0.8900" stop-color="#49a06e"/><stop offset="0.9560" stop-color="#4a9499"/><stop offset="0.9908" stop-color="#4a8eae"/><stop offset="1.0000" stop-color="#4a8db2"/></linearGradient>
<linearGradient id="g54" gradientUnits="userSpaceOnUse" x1="127.00" x2="702.30" y1="0" y2="0"><stop offset="0.0000" stop-color="#8f141a"/><stop offset="0.1530" stop-color="#90141a"/><stop offset="0.2607" stop-color="#d52229"/><stop offset="0.3546" stop-color="#e74d28"/><stop offset="0.4380" stop-color="#f3712d"/><stop offset="0.5110" stop-color="#f6ac46"/><stop offset="0.6188" stop-color="#f9e55a"/><stop offset="0.6779" stop-color="#c1d854"/><stop offset="0.7022" stop-color="#abd151"/><stop offset="0.7857" stop-color="#68be48"/><stop offset="0.8343" stop-color="#4ab44c"/><stop offset="0.8865" stop-color="#49a16d"/><stop offset="0.9560" stop-color="#4a939a"/><stop offset="0.9943" stop-color="#4a8eb0"/><stop offset="1.0000" stop-color="#4a8db3"/></linearGradient>
<linearGradient id="g55" gradientUnits="userSpaceOnUse" x1="127.00" x2="702.30" y1="0" y2="0"><stop offset="0.0000" stop-color="#8f141a"/><stop offset="0.1530" stop-color="#90141a"/><stop offset="0.2607" stop-color="#d52229"/><stop offset="0.3581" stop-color="#e84f28"/><stop offset="0.4380" stop-color="#f3712d"/><stop offset="0.5110" stop-color="#f6ac46"/><stop offset="0.6188" stop-color="#f8e55a"/><stop offset="0.6744" stop-color="#c4d955"/><stop offset="0.6988" stop-color="#acd151"/><stop offset="0.7509" stop-color="#82c54b"/><stop offset="0.7892" stop-color="#65bd49"/><stop offset="0.8343" stop-color="#4ab34d"/><stop offset="0.8865" stop-color="#49a16e"/><stop offset="0.9525" stop-color="#4a9498"/><stop offset="0.9873" stop-color="#4a8fae"/><stop offset="1.0000" stop-color="#4a8db3"/></linearGradient>
<linearGradient id="g56" gradientUnits="userSpaceOnUse" x1="127.00" x2="702.30" y1="0" y2="0"><stop offset="0.0000" stop-color="#8f141a"/><stop offset="0.1530" stop-color="#91141a"/><stop offset="0.2607" stop-color="#d52229"/><stop offset="0.3581" stop-color="#e84f28"/><stop offset="0.4380" stop-color="#f3712d"/><stop offset="0.5110" stop-color="#f6ad46"/><stop offset="0.6188" stop-color="#f8e55a"/><stop offset="0.6744" stop-color="#c3d955"/><stop offset="0.6988" stop-color="#acd151"/><stop offset="0.7822" stop-color="#69be48"/><stop offset="0.8309" stop-color="#4ab44b"/><stop offset="0.8830" stop-color="#49a16c"/><stop offset="0.9491" stop-color="#4a9497"/><stop offset="0.9873" stop-color="#4a8eae"/><stop offset="1.0000" stop-color="#4a8db4"/></linearGradient>
<linearGradient id="g57" gradientUnits="userSpaceOnUse" x1="127.00" x2="702.30" y1="0" y2="0"><stop offset="0.0000" stop-color="#8f141a"/><stop offset="0.1530" stop-color="#91141a"/><stop offset="0.2607" stop-color="#d52229"/><stop offset="0.3546" stop-color="#e84e28"/><stop offset="0.4380" stop-color="#f3722d"/><stop offset="0.5076" stop-color="#f6ab46"/><stop offset="0.6188" stop-color="#f7e55a"/><stop offset="0.6744" stop-color="#c3d955"/><stop offset="0.6988" stop-color="#acd151"/><stop offset="0.7822" stop-color="#68be48"/><stop offset="0.8309" stop-color="#4ab44c"/><stop offset="0.8865" stop-color="#49a06f"/><stop offset="0.9560" stop-color="#4a939d"/><stop offset="0.9977" stop-color="#4a8db4"/><stop offset="1.0000" stop-color="#4a8db5"/></linearGradient>
<linearGradient id="g58" gradientUnits="userSpaceOnUse" x1="127.00" x2="702.30" y1="0" y2="0"><stop offset="0.0000" stop-color="#8f141a"/><stop offset="0.1530" stop-color="#91141a"/><stop offset="0.2607" stop-color="#d52229"/><stop offset="0.3546" stop-color="#e84e28"/><stop offset="0.4380" stop-color="#f3722d"/><stop offset="0.5076" stop-color="#f6ab46"/><stop offset="0.6188" stop-color="#f7e55a"/><stop offset="0.6744" stop-color="#c2d955"/><stop offset="0.6988" stop-color="#abd151"/><stop offset="0.7822" stop-color="#68be48"/><stop offset="0.8309" stop-color="#4ab34d"/><stop offset="0.8830" stop-color="#49a16e"/><stop offset="0.9491" stop-color="#4a9499"/><stop offset="0.9838" stop-color="#4a8eae"/><stop offset="1.0000" stop-color="#4a8db5"/></linearGradient>
<linearGradient id="g59" gradientUnits="userSpaceOnUse" x1="127.00" x2="702.30" y1="0" y2="0"><stop offset="0.0000" stop-color="#8f141a"/><stop offset="0.1530" stop-color="#91141a"/><stop offset="0.2607" stop-color="#d52229"/><stop offset="0.3546" stop-color="#e84e28"/><stop offset="0.4380" stop-color="#f3722d"/><stop offset="0.5076" stop-color="#f6ab46"/><stop offset="0.6153" stop-color="#f9e55a"/><stop offset="0.6710" stop-color="#c5da55"/><stop offset="0.6988" stop-color="#abd151"/><stop offset="0.7787" stop-color="#69be48"/><stop offset="0.8274" stop-color="#4ab44b"/><stop offset="0.8795" stop-color="#49a16c"/><stop offset="0.9491" stop-color="#4a949a"/><stop offset="0.9873" stop-color="#4a8eb0"/><stop offset="1.0000" stop-color="#4a8db6"/></linearGradient>
<linearGradient id="g60" gradientUnits="userSpaceOnUse" x1="127.00" x2="702.30" y1="0" y2="0"><stop offset="0.0000" stop-color="#8f141a"/><stop offset="0.1530" stop-color="#91141a"/><stop offset="0.2607" stop-color="#d52229"/><stop offset="0.3546" stop-color="#e84e28"/><stop offset="0.4380" stop-color="#f3732d"/><stop offset="0.5076" stop-color="#f6ac46"/><stop offset="0.6153" stop-color="#f9e55a"/><stop offset="0.6710" stop-color="#c5da55"/><stop offset="0.6988" stop-color="#abd150"/><stop offset="0.7787" stop-color="#69be48"/><stop offset="0.8274" stop-color="#4ab44c"/><stop offset="0.8795" stop-color="#49a16d"/><stop offset="0.9525" stop-color="#4a939d"/><stop offset="0.9943" stop-color="#4a8db4"/><stop offset="1.0000" stop-color="#4a8cb7"/></linearGradient>
<linearGradient id="g61" gradientUnits="userSpaceOnUse" x1="127.00" x2="702.30" y1="0" y2="0"><stop offset="0.0000" stop-color="#8f141a"/><stop offset="0.1530" stop-color="#91141a"/><stop offset="0.2607" stop-color="#d52329"/><stop offset="0.3546" stop-color="#e84e28"/><stop offset="0.4380" stop-color="#f3732e"/><stop offset="0.5076" stop-color="#f6ac46"/><stop offset="0.6153" stop-color="#f9e55a"/><stop offset="0.6710" stop-color="#c4d955"/><stop offset="0.6953" stop-color="#acd151"/><stop offset="0.7579" stop-color="#78c249"/><stop offset="0.8274" stop-color="#4ab44c"/><stop offset="0.8795" stop-color="#49a16e"/><stop offset="0.9491" stop-color="#4a939c"/><stop offset="0.9838" stop-color="#4a8eb0"/><stop offset="1.0000" stop-color="#4a8cb7"/></linearGradient>
<linearGradient id="g62" gradientUnits="userSpaceOnUse" x1="127.00" x2="702.30" y1="0" y2="0"><stop offset="0.0000" stop-color="#8f141a"/><stop offset="0.1530" stop-color="#91141a"/><stop offset="0.2607" stop-color="#d52329"/><stop offset="0.3546" stop-color="#e84f28"/><stop offset="0.4346" stop-color="#f3702c"/><stop offset="0.5076" stop-color="#f6ac46"/><stop offset="0.6153" stop-color="#f8e55a"/><stop offset="0.6710" stop-color="#c3d955"/><stop offset="0.6953" stop-color="#acd151"/><stop offset="0.7787" stop-color="#68be48"/><stop offset="0.8274" stop-color="#4ab34d"/><stop offset="0.8795" stop-color="#49a06e"/><stop offset="0.9491" stop-color="#4a939d"/><stop offset="0.9873" stop-color="#4a8db2"/><stop offset="1.0000" stop-color="#4a8cb8"/></linearGradient>
<linearGradient id="g63" gradientUnits="userSpaceOnUse" x1="127.00" x2="702.30" y1="0" y2="0"><stop offset="0.0000" stop-color="#8f141a"/><stop offset="0.1530" stop-color="#91141a"/><stop offset="0.2573" stop-color="#d52129"/><stop offset="0.3546" stop-color="#e84f28"/><stop offset="0.4346" stop-color="#f3712d"/><stop offset="0.5076" stop-color="#f6ac46"/><stop offset="0.6153" stop-color="#f8e55a"/><stop offset="0.6710" stop-color="#c3d955"/><stop offset="0.6953" stop-color="#acd151"/><stop offset="0.7752" stop-color="#69be48"/><stop offset="0.8239" stop-color="#4ab44b"/><stop offset="0.8761" stop-color="#49a16d"/><stop offset="0.9491" stop-color="#4a939d"/><stop offset="0.9873" stop-color="#4a8db3"/><stop offset="1.0000" stop-color="#4a8cb8"/></linearGradient>
<linearGradient id="g64" gradientUnits="userSpaceOnUse" x1="127.00" x2="702.30" y1="0" y2="0"><stop offset="0.0000" stop-color="#8f141a"/><stop offset="0.1530" stop-color="#91141a"/><stop offset="0.2573" stop-color="#d52129"/><stop offset="0.3546" stop-color="#e84f28"/><stop offset="0.4346" stop-color="#f3712d"/><stop offset="0.5076" stop-color="#f6ad46"/><stop offset="0.6153" stop-color="#f7e55a"/><stop offset="0.6710" stop-color="#c2d955"/><stop offset="0.6953" stop-color="#abd151"/><stop offset="0.7752" stop-color="#69be48"/><stop offset="0.8239" stop-color="#4ab44c"/><stop offset="0.8761" stop-color="#49a16d"/><stop offset="0.9456" stop-color="#4a939c"/><stop offset="0.9804" stop-color="#4a8eb0"/><stop offset="1.0000" stop-color="#4a8cb9"/></linearGradient>
<linearGradient id="g65" gradientUnits="userSpaceOnUse" x1="127.00" x2="702.30" y1="0" y2="0"><stop offset="0.0000" stop-color="#8f141a"/><stop offset="0.1530" stop-color="#91141a"/><stop offset="0.2573" stop-color="#d52129"/><stop offset="0.3546" stop-color="#e84f28"/><stop offset="0.4346" stop-color="#f3712d"/><stop offset="0.5076" stop-color="#f6ad46"/><stop offset="0.6153" stop-color="#f7e55a"/><stop offset="0.6710" stop-color="#c2d955"/><stop offset="0.6953" stop-color="#abd151"/><stop offset="0.7752" stop-color="#68be48"/><stop offset="0.8239" stop-color="#4ab34c"/><stop offset="0.8761" stop-color="#49a06e"/><stop offset="0.9491" stop-color="#4a929f"/><stop offset="1.0000" stop-color="#4a8cba"/></linearGradient>
<linearGradient id="g66" gradientUnits="userSpaceOnUse" x1="127.00" x2="702.30" y1="0" y2="0"><stop offset="0.0000" stop-color="#8f141a"/><stop offset="0.1530" stop-color="#91141a"/><stop offset="0.2573" stop-color="#d52229"/><stop offset="0.3546" stop-color="#e84f28"/><stop offset="0.4346" stop-color="#f3722d"/><stop offset="0.5041" stop-color="#f6ab46"/><stop offset="0.6119" stop-color="#f9e55a"/><stop offset="0.6675" stop-color="#c5da55"/><stop offset="0.6918" stop-color="#acd151"/><stop offset="0.7440" stop-color="#81c54a"/><stop offset="0.7822" stop-color="#63bd49"/><stop offset="0.8239" stop-color="#4ab34d"/><stop offset="0.8726" stop-color="#49a16d"/><stop offset="0.9491" stop-color="#4a92a0"/><stop offset="1.0000" stop-color="#4a8bba"/></linearGradient>
<linearGradient id="g67" gradientUnits="userSpaceOnUse" x1="127.00" x2="702.30" y1="0" y2="0"><stop offset="0.0000" stop-color="#8f141a"/><stop offset="0.1530" stop-color="#91141a"/><stop offset="0.2573" stop-color="#d52229"/><stop offset="0.3546" stop-color="#e85028"/><stop offset="0.4346" stop-color="#f3722d"/><stop offset="0.5041" stop-color="#f6ab46"/><stop offset="0.6119" stop-color="#f9e55a"/><stop offset="0.6675" stop-color="#c4d955"/><stop offset="0.6918" stop-color="#acd151"/><stop offset="0.7752" stop-color="#67be48"/><stop offset="0.8204" stop-color="#4ab44b"/><stop offset="0.8726" stop-color="#49a16d"/><stop offset="0.9456" stop-color="#4a929f"/><stop offset="0.9908" stop-color="#4a8cb7"/><stop offset="1.0000" stop-color="#4a8bbb"/></linearGradient>
<linearGradient id="g68" gradientUnits="userSpaceOnUse" x1="127.00" x2="702.30" y1="0" y2="0"><stop offset="0.0000" stop-color="#8f141a"/><stop offset="0.1530" stop-color="#91141a"/><stop offset="0.2573" stop-color="#d52229"/><stop offset="0.3546" stop-color="#e85028"/><stop offset="0.4346" stop-color="#f3722d"/><stop offset="0.5041" stop-color="#f6ac46"/><stop offset="0.6119" stop-color="#f8e55a"/><stop offset="0.6675" stop-color="#c4d955"/><stop offset="0.6918" stop-color="#acd151"/><stop offset="0.7718" stop-color="#69be48"/><stop offset="0.8204" stop-color="#4ab44c"/><stop offset="0.8726" stop-color="#49a06e"/><stop offset="0.9491" stop-color="#4a91a2"/><stop offset="1.0000" stop-color="#4a8bbb"/></linearGradient>
<linearGradient id="g69" gradientUnits="userSpaceOnUse" x1="127.00" x2="702.30" y1="0" y2="0"><stop offset="0.0000" stop-color="#8f141a"/><stop offset="0.1530" stop-color="#91141a"/><stop offset="0.2573" stop-color="#d52229"/><stop offset="0.3546" stop-color="#e85028"/><stop offset="0.4346" stop-color="#f3732d"/><stop offset="0.5041" stop-color="#f6ac46"/><stop offset="0.6119" stop-color="#f8e55a"/><stop offset="0.6675" stop-color="#c3d955"/><stop offset="0.6918" stop-color="#abd151"/><stop offset="0.7718" stop-color="#68be48"/><stop offset="0.8204" stop-color="#4ab34d"/><stop offset="0.8691" stop-color="#49a16c"/><stop offset="0.9491" stop-color="#4a91a3"/><stop offset="1.0000" stop-color="#4a8bbc"/></linearGradient>
<linearGradient id="g70" gradientUnits="userSpaceOnUse" x1="127.00" x2="702.30" y1="0" y2="0"><stop offset="0.0000" stop-color="#8f141a"/><stop offset="0.1530" stop-color="#91141b"/><stop offset="0.2573" stop-color="#d52229"/><stop offset="0.3546" stop-color="#e95028"/><stop offset="0.4346" stop-color="#f3732e"/><stop offset="0.5041" stop-color="#f6ac46"/><stop offset="0.6119" stop-color="#f8e55a"/><stop offset="0.6675" stop-color="#c2d955"/><stop offset="0.6918" stop-color="#abd151"/><stop offset="0.7718" stop-color="#68be48"/><stop offset="0.8170" stop-color="#4ab44b"/><stop offset="0.8691" stop-color="#49a16d"/><stop offset="0.9456" stop-color="#4a92a1"/><stop offset="1.0000" stop-color="#4a8bbd"/></linearGradient>
<linearGradient id="g71" gradientUnits="userSpaceOnUse" x1="127.00" x2="702.30" y1="0" y2="0"><stop offset="0.0000" stop-color="#8f141a"/><stop offset="0.1530" stop-color="#91141b"/><stop offset="0.2573" stop-color="#d52229"/><stop offset="0.3546" stop-color="#e95028"/><stop offset="0.4311" stop-color="#f3702c"/><stop offset="0.5041" stop-color="#f6ac46"/><stop offset="0.6119" stop-color="#f7e55a"/><stop offset="0.6675" stop-color="#c2d955"/><stop offset="0.6918" stop-color="#abd150"/><stop offset="0.7718" stop-color="#67be48"/><stop offset="0.8170" stop-color="#4ab44b"/><stop offset="0.8691" stop-color="#49a16e"/><stop offset="0.9630" stop-color="#4a8fac"/><stop offset="1.0000" stop-color="#4a8bbd"/></linearGradient>
<linearGradient id="g72" gradientUnits="userSpaceOnUse" x1="127.00" x2="702.30" y1="0" y2="0"><stop offset="0.0000" stop-color="#8f141a"/><stop offset="0.1530" stop-color="#91141b"/><stop offset="0.2573" stop-color="#d52229"/><stop offset="0.3546" stop-color="#e95128"/><stop offset="0.4311" stop-color="#f3712d"/><stop offset="0.5041" stop-color="#f6ad46"/><stop offset="0.6119" stop-color="#f7e55a"/><stop offset="0.6675" stop-color="#c1d854"/><stop offset="0.6918" stop-color="#aad150"/><stop offset="0.7683" stop-color="#69be48"/><stop offset="0.8170" stop-color="#4ab44c"/><stop offset="0.8691" stop-color="#49a06e"/><stop offset="0.9630" stop-color="#4a8fad"/><stop offset="1.0000" stop-color="#4a8bbe"/></linearGradient>
<linearGradient id="g73" gradientUnits="userSpaceOnUse" x1="127.00" x2="702.30" y1="0" y2="0"><stop offset="0.0000" stop-color="#8f141a"/><stop offset="0.1530" stop-color="#91141b"/><stop offset="0.2573" stop-color="#d52229"/><stop offset="0.3546" stop-color="#e95128"/><stop offset="0.4311" stop-color="#f3712d"/><stop offset="0.5041" stop-color="#f6ad46"/><stop offset="0.6084" stop-color="#f9e55a"/><stop offset="0.6640" stop-color="#c4d955"/><stop offset="0.6883" stop-color="#acd151"/><stop offset="0.7683" stop-color="#69be48"/><stop offset="0.8170" stop-color="#4ab34d"/><stop offset="0.8656" stop-color="#49a16d"/><stop offset="0.9456" stop-color="#4a91a4"/><stop offset="1.0000" stop-color="#4a8abf"/></linearGradient>
<linearGradient id="g74" gradientUnits="userSpaceOnUse" x1="127.00" x2="702.30" y1="0" y2="0"><stop offset="0.0000" stop-color="#8f141a"/><stop offset="0.1530" stop-color="#91141b"/><stop offset="0.2573" stop-color="#d52329"/><stop offset="0.4033" stop-color="#f06529"/><stop offset="0.4346" stop-color="#f3742e"/><stop offset="0.5006" stop-color="#f6ab46"/><stop offset="0.6084" stop-color="#f9e55a"/><stop offset="0.6640" stop-color="#c4d955"/><stop offset="0.6883" stop-color="#acd151"/><stop offset="0.7683" stop-color="#68be48"/><stop offset="0.8135" stop-color="#4ab44b"/><stop offset="0.8656" stop-color="#49a16d"/><stop offset="0.9595" stop-color="#4a8fad"/><stop offset="1.0000" stop-color="#4a8abf"/></linearGradient>
<linearGradient id="g75" gradientUnits="userSpaceOnUse" x1="127.00" x2="702.30" y1="0" y2="0"><stop offset="0.0000" stop-color="#8f141a"/><stop offset="0.1530" stop-color="#91141b"/><stop offset="0.2573" stop-color="#d52329"/><stop offset="0.3998" stop-color="#f06429"/><stop offset="0.4346" stop-color="#f3742e"/><stop offset="0.5006" stop-color="#f6ab46"/><stop offset="0.6084" stop-color="#f8e55a"/><stop offset="0.6640" stop-color="#c3d955"/><stop offset="0.6883" stop-color="#abd151"/><stop offset="0.7683" stop-color="#68be48"/><stop offset="0.8135" stop-color="#4ab44c"/><stop offset="0.8656" stop-color="#49a06e"/><stop offset="0.9595" stop-color="#4a8fad"/><stop offset="1.0000" stop-color="#4a8ac0"/></linearGradient>
<linearGradient id="g76" gradientUnits="userSpaceOnUse" x1="127.00" x2="702.30" y1="0" y2="0"><stop offset="0.0000" stop-color="#8f141a"/><stop offset="0.1530" stop-color="#91141b"/><stop offset="0.2538" stop-color="#d52129"/><stop offset="0.3998" stop-color="#f06429"/><stop offset="0.4346" stop-color="#f3752e"/><stop offset="0.5006" stop-color="#f6ac46"/><stop offset="0.6084" stop-color="#f8e55a"/><stop offset="0.6640" stop-color="#c3d955"/><stop offset="0.6883" stop-color="#abd151"/><stop offset="0.7648" stop-color="#69be48"/><stop offset="0.8135" stop-color="#4ab44c"/><stop offset="0.8622" stop-color="#49a16d"/><stop offset="0.9560" stop-color="#4a8fac"/><stop offset="1.0000" stop-color="#4a8ac0"/></linearGradient>
<linearGradient id="g77" gradientUnits="userSpaceOnUse" x1="127.00" x2="702.30" y1="0" y2="0"><stop offset="0.0000" stop-color="#8f141a"/><stop offset="0.1530" stop-color="#91141b"/><stop offset="0.2538" stop-color="#d52129"/><stop offset="0.3998" stop-color="#f06429"/><stop offset="0.4346" stop-color="#f3752f"/><stop offset="0.5006" stop-color="#f6ac46"/><stop offset="0.6084" stop-color="#f7e55a"/><stop offset="0.6640" stop-color="#c2d955"/><stop offset="0.6883" stop-color="#abd150"/><stop offset="0.7648" stop-color="#69be48"/><stop offset="0.8135" stop-color="#4ab34d"/><stop offset="0.8622" stop-color="#49a16d"/><stop offset="0.9560" stop-color="#4a8fad"/><stop offset="1.0000" stop-color="#4a8ac1"/></linearGradient>
<linearGradient id="g78" gradientUnits="userSpaceOnUse" x1="127.00" x2="702.30" y1="0" y2="0"><stop offset="0.0000" stop-color="#8f141a"/><stop offset="0.1530" stop-color="#92141b"/><stop offset="0.2538" stop-color="#d52129"/><stop offset="0.3998" stop-color="#f06429"/><stop offset="0.4346" stop-color="#f3752f"/><stop offset="0.5006" stop-color="#f6ac46"/><stop offset="0.6084" stop-color="#f7e55a"/><stop offset="0.6640" stop-color="#c2d955"/><stop offset="0.6883" stop-color="#aad150"/><stop offset="0.7648" stop-color="#68be48"/><stop offset="0.8100" stop-color="#4ab44b"/><stop offset="0.8622" stop-color="#49a06e"/><stop offset="0.9560" stop-color="#4a8fad"/><stop offset="1.0000" stop-color="#4a8ac2"/></linearGradient>
<linearGradient id="g79" gradientUnits="userSpaceOnUse" x1="127.00" x2="702.30" y1="0" y2="0"><stop offset="0.0000" stop-color="#8f141a"/><stop offset="0.1530" stop-color="#92141b"/><stop offset="0.2538" stop-color="#d52129"/><stop offset="0.3546" stop-color="#e95228"/><stop offset="0.4311" stop-color="#f3732e"/><stop offset="0.5006" stop-color="#f6ac46"/><stop offset="0.6084" stop-color="#f7e55a"/><stop offset="0.6640" stop-color="#c1d854"/><stop offset="0.6849" stop-color="#acd151"/><stop offset="0.7648" stop-color="#68be48"/><stop offset="0.8100" stop-color="#4ab44c"/><stop offset="0.8622" stop-color="#49a06e"/><stop offset="0.9525" stop-color="#4a8fac"/><stop offset="1.0000" stop-color="#4a89c2"/></linearGradient>
<linearGradient id="g80" gradientUnits="userSpaceOnUse" x1="127.00" x2="702.30" y1="0" y2="0"><stop offset="0.0000" stop-color="#8f141a"/><stop offset="0.1495" stop-color="#8f141a"/><stop offset="0.2538" stop-color="#d52229"/><stop offset="0.3546" stop-color="#e95228"/><stop offset="0.4276" stop-color="#f3702c"/><stop offset="0.5006" stop-color="#f6ac46"/><stop offset="0.6049" stop-color="#f9e55a"/><stop offset="0.6605" stop-color="#c4d955"/><stop offset="0.6849" stop-color="#acd151"/><stop offset="0.7648" stop-color="#67be48"/><stop offset="0.8100" stop-color="#4ab44c"/><stop offset="0.8587" stop-color="#49a16d"/><stop offset="0.9525" stop-color="#4a8fad"/><stop offset="1.0000" stop-color="#4a89c3"/></linearGradient>
<linearGradient id="g81" gradientUnits="userSpaceOnUse" x1="127.00" x2="702.30" y1="0" y2="0"><stop offset="0.0000" stop-color="#8f141a"/><stop offset="0.1495" stop-color="#8f141a"/><stop offset="0.2538" stop-color="#d52229"/><stop offset="0.3963" stop-color="#ef6329"/><stop offset="0.4311" stop-color="#f3742e"/><stop offset="0.5006" stop-color="#f6ad46"/><stop offset="0.6049" stop-color="#f9e55a"/><stop offset="0.6605" stop-color="#c4d955"/><stop offset="0.6849" stop-color="#abd151"/><stop offset="0.7613" stop-color="#69be48"/><stop offset="0.8100" stop-color="#4ab34d"/><stop offset="0.8587" stop-color="#49a16e"/><stop offset="0.9525" stop-color="#4a8fad"/><stop offset="1.0000" stop-color="#4a89c3"/></linearGradient>
<linearGradient id="g82" gradientUnits="userSpaceOnUse" x1="127.00" x2="702.30" y1="0" y2="0"><stop offset="0.0000" stop-color="#8f141a"/><stop offset="0.1495" stop-color="#8f141a"/><stop offset="0.2538" stop-color="#d52229"/><stop offset="0.3963" stop-color="#ef6429"/><stop offset="0.4311" stop-color="#f3742e"/><stop offset="0.5006" stop-color="#f6ad47"/><stop offset="0.6049" stop-color="#f8e55a"/><stop offset="0.6605" stop-color="#c3d955"/><stop offset="0.6849" stop-color="#abd151"/><stop offset="0.7613" stop-color="#69be48"/><stop offset="0.8065" stop-color="#4ab44b"/><stop offset="0.8587" stop-color="#49a06e"/><stop offset="0.9491" stop-color="#4a8fac"/><stop offset="1.0000" stop-color="#4a89c4"/></linearGradient>
<linearGradient id="g83" gradientUnits="userSpaceOnUse" x1="127.00" x2="702.30" y1="0" y2="0"><stop offset="0.0000" stop-color="#8f141a"/><stop offset="0.1495" stop-color="#8f141a"/><stop offset="0.2538" stop-color="#d52229"/><stop offset="0.3963" stop-color="#ef6429"/><stop offset="0.4311" stop-color="#f3742e"/><stop offset="0.4971" stop-color="#f6ab46"/><stop offset="0.6049" stop-color="#f8e55a"/><stop offset="0.6605" stop-color="#c3d955"/><stop offset="0.6849" stop-color="#abd150"/><stop offset="0.7613" stop-color="#68be48"/><stop offset="0.8065" stop-color="#4ab44c"/><stop offset="0.8552" stop-color="#49a16d"/><stop offset="0.9491" stop-color="#4a8fad"/><stop offset="1.0000" stop-color="#4a89c5"/></linearGradient>
<linearGradient id="g84" gradientUnits="userSpaceOnUse" x1="127.00" x2="702.30" y1="0" y2="0"><stop offset="0.0000" stop-color="#8f141a"/><stop offset="0.1495" stop-color="#8f141a"/><stop offset="0.2538" stop-color="#d52229"/><stop offset="0.3963" stop-color="#f06429"/><stop offset="0.4311" stop-color="#f3752e"/><stop offset="0.4971" stop-color="#f6ab46"/><stop offset="0.6049" stop-color="#f7e55a"/><stop offset="0.6605" stop-color="#c2d955"/><stop offset="0.6849" stop-color="#aad150"/><stop offset="0.7613" stop-color="#68be48"/><stop offset="0.8065" stop-color="#4ab44c"/><stop offset="0.8552" stop-color="#49a16d"/><stop offset="0.9491" stop-color="#4a8fae"/><stop offset="1.0000" stop-color="#4a89c5"/></linearGradient>
<linearGradient id="g85" gradientUnits="userSpaceOnUse" x1="127.00" x2="702.30" y1="0" y2="0"><stop offset="0.0000" stop-color="#8f141a"/><stop offset="0.1495" stop-color="#8f141a"/><stop offset="0.2538" stop-color="#d52229"/><stop offset="0.3963" stop-color="#f06429"/><stop offset="0.4311" stop-color="#f3752e"/><stop offset="0.4971" stop-color="#f6ac46"/><stop offset="0.6049" stop-color="#f7e55a"/><stop offset="0.6605" stop-color="#c1d855"/><stop offset="0.6814" stop-color="#acd151"/><stop offset="0.7613" stop-color="#67be48"/><stop offset="0.8065" stop-color="#4ab34d"/><stop offset="0.8552" stop-color="#49a16e"/><stop offset="0.9456" stop-color="#4a8fad"/><stop offset="1.0000" stop-color="#4a89c6"/></linearGradient>
<linearGradient id="g86" gradientUnits="userSpaceOnUse" x1="127.00" x2="702.30" y1="0" y2="0"><stop offset="0.0000" stop-color="#8f141a"/><stop offset="0.1495" stop-color="#90141a"/><stop offset="0.2538" stop-color="#d52229"/><stop offset="0.3928" stop-color="#ef6329"/><stop offset="0.4311" stop-color="#f3752f"/><stop offset="0.4971" stop-color="#f6ac46"/><stop offset="0.6014" stop-color="#f9e55a"/><stop offset="0.6570" stop-color="#c5da55"/><stop offset="0.6814" stop-color="#acd151"/><stop offset="0.7579" stop-color="#69be48"/><stop offset="0.8031" stop-color="#4ab44b"/><stop offset="0.8552" stop-color="#49a06e"/><stop offset="0.9456" stop-color="#4a8fad"/><stop offset="1.0000" stop-color="#4a88c7"/></linearGradient>
<linearGradient id="g87" gradientUnits="userSpaceOnUse" x1="127.00" x2="702.30" y1="0" y2="0"><stop offset="0.0000" stop-color="#8f141a"/><stop offset="0.1495" stop-color="#90141a"/><stop offset="0.2538" stop-color="#d52229"/><stop offset="0.3928" stop-color="#ef6329"/><stop offset="0.4311" stop-color="#f3752f"/><stop offset="0.4971" stop-color="#f6ac46"/><stop offset="0.6014" stop-color="#f9e55a"/><stop offset="0.6570" stop-color="#c4d955"/><stop offset="0.6814" stop-color="#abd151"/><stop offset="0.7579" stop-color="#68be48"/><stop offset="0.8031" stop-color="#4ab44b"/><stop offset="0.8517" stop-color="#49a16d"/><stop offset="0.9421" stop-color="#4a8fac"/><stop offset="1.0000" stop-color="#4a88c7"/></linearGradient>
<linearGradient id="g88" gradientUnits="userSpaceOnUse" x1="127.00" x2="702.30" y1="0" y2="0"><stop offset="0.0000" stop-color="#8f141a"/><stop offset="0.1495" stop-color="#90141a"/><stop offset="0.2538" stop-color="#d52329"/><stop offset="0.3928" stop-color="#ef6329"/><stop offset="0.4276" stop-color="#f3732e"/><stop offset="0.4971" stop-color="#f6ac46"/><stop offset="0.6014" stop-color="#f9e55a"/><stop offset="0.6570" stop-color="#c4d955"/><stop offset="0.6814" stop-color="#abd151"/><stop offset="0.7579" stop-color="#68be48"/><stop offset="0.8031" stop-color="#4ab44c"/><stop offset="0.8517" stop-color="#49a16d"/><stop offset="0.9421" stop-color="#4a8fac"/><stop offset="1.0000" stop-color="#4a88c8"/></linearGradient>
<clipPath id="clipAL"><rect x="125.8" y="0" width="576.5" height="500"/></clipPath>
<linearGradient id="cbg" x1="0" y1="0" x2="0" y2="1"><stop offset="0.0000" stop-color="#8f141a"/><stop offset="0.0500" stop-color="#a0161e"/><stop offset="0.1000" stop-color="#b81b24"/><stop offset="0.1350" stop-color="#d42029"/><stop offset="0.2000" stop-color="#e03a28"/><stop offset="0.2500" stop-color="#ea5428"/><stop offset="0.2800" stop-color="#f26b2a"/><stop offset="0.3200" stop-color="#f58a38"/><stop offset="0.3550" stop-color="#f6a845"/><stop offset="0.3900" stop-color="#f8c84f"/><stop offset="0.4210" stop-color="#f9e55a"/><stop offset="0.4600" stop-color="#d5df58"/><stop offset="0.5060" stop-color="#a8d050"/><stop offset="0.5400" stop-color="#6fc048"/><stop offset="0.5720" stop-color="#4ab54a"/><stop offset="0.6000" stop-color="#48a464"/><stop offset="0.6330" stop-color="#4a9a80"/><stop offset="0.6700" stop-color="#4a90a8"/><stop offset="0.7180" stop-color="#4a88c8"/><stop offset="0.7700" stop-color="#6ea8dc"/><stop offset="0.8200" stop-color="#8cc8ec"/><stop offset="0.8590" stop-color="#a8dcf4"/><stop offset="0.9300" stop-color="#d6effa"/><stop offset="0.9700" stop-color="#eef7fd"/><stop offset="1.0000" stop-color="#ffffff"/></linearGradient>
<clipPath id="clipC"><path d="M124.20,880.00 C133.57,880.80 163.98,883.45 180.40,884.80 C196.82,886.15 208.60,887.08 222.70,888.10 C236.80,889.12 248.78,890.00 265.00,890.90 C281.22,891.80 303.78,892.83 320.00,893.50 C336.22,894.17 349.13,894.55 362.30,894.90 C375.47,895.25 387.25,895.53 399.00,895.60 C410.75,895.67 420.12,895.47 432.80,895.30 C445.48,895.13 461.40,894.88 475.10,894.60 C488.80,894.32 502.53,893.95 515.00,893.60 C527.47,893.25 536.98,893.02 549.90,892.50 C562.82,891.98 577.38,891.08 592.50,890.50 C607.62,889.92 626.85,889.25 640.60,889.00 C654.35,888.75 664.48,888.82 675.00,889.00 C685.52,889.18 698.92,889.92 703.70,890.10 L703.7,553.6 L124.2,553.6 Z"/></clipPath>
<clipPath id="clipCR"><rect x="127.0" y="553.6" width="575.0" height="400"/></clipPath>
<linearGradient id="g89" gradientUnits="userSpaceOnUse" x1="127.00" x2="702.00" y1="0" y2="0"><stop offset="0.0000" stop-color="#e84f28"/><stop offset="0.0626" stop-color="#f3732e"/><stop offset="0.1148" stop-color="#f58e3a"/><stop offset="0.2191" stop-color="#f7b449"/><stop offset="0.3200" stop-color="#f7b74a"/><stop offset="0.4000" stop-color="#f6a343"/><stop offset="0.4487" stop-color="#f48335"/><stop offset="0.4696" stop-color="#f1682a"/><stop offset="0.4730" stop-color="#f26a2a"/><stop offset="0.4765" stop-color="#ed5d29"/><stop offset="0.5322" stop-color="#e74c28"/><stop offset="0.5496" stop-color="#e44428"/><stop offset="0.6052" stop-color="#d42029"/><stop offset="0.6157" stop-color="#ca1e27"/><stop offset="0.7026" stop-color="#ce1f28"/><stop offset="0.7270" stop-color="#d22029"/><stop offset="0.7304" stop-color="#ce1f28"/><stop offset="0.7409" stop-color="#b31a23"/><stop offset="0.8000" stop-color="#a81820"/><stop offset="0.9565" stop-color="#a4171f"/><stop offset="1.0000" stop-color="#9d161d"/></linearGradient>
<linearGradient id="g90" gradientUnits="userSpaceOnUse" x1="127.00" x2="702.00" y1="0" y2="0"><stop offset="0.0000" stop-color="#e85028"/><stop offset="0.0626" stop-color="#f3742e"/><stop offset="0.1183" stop-color="#f5903b"/><stop offset="0.2191" stop-color="#f7b449"/><stop offset="0.3200" stop-color="#f7b94a"/><stop offset="0.4000" stop-color="#f6a644"/><stop offset="0.4522" stop-color="#f48435"/><stop offset="0.4696" stop-color="#f2702c"/><stop offset="0.4730" stop-color="#f3722d"/><stop offset="0.4765" stop-color="#ef6229"/><stop offset="0.5391" stop-color="#e95028"/><stop offset="0.6122" stop-color="#d32029"/><stop offset="0.6609" stop-color="#cd1f28"/><stop offset="0.7235" stop-color="#cd1f28"/><stop offset="0.8417" stop-color="#c71e27"/><stop offset="1.0000" stop-color="#c41d26"/></linearGradient>
<linearGradient id="g91" gradientUnits="userSpaceOnUse" x1="127.00" x2="702.00" y1="0" y2="0"><stop offset="0.0000" stop-color="#e95128"/><stop offset="0.0591" stop-color="#f3732d"/><stop offset="0.1183" stop-color="#f5913b"/><stop offset="0.2191" stop-color="#f7b549"/><stop offset="0.3200" stop-color="#f7ba4b"/><stop offset="0.4000" stop-color="#f6a945"/><stop offset="0.4487" stop-color="#f58e3a"/><stop offset="0.4696" stop-color="#f37730"/><stop offset="0.4730" stop-color="#f37a31"/><stop offset="0.4765" stop-color="#f1672a"/><stop offset="0.5496" stop-color="#ea5328"/><stop offset="0.5843" stop-color="#e23f28"/><stop offset="0.6191" stop-color="#d82829"/><stop offset="0.6574" stop-color="#d01f28"/><stop offset="0.6991" stop-color="#cc1f28"/><stop offset="0.7270" stop-color="#c91e27"/><stop offset="0.7304" stop-color="#d01f28"/><stop offset="0.7409" stop-color="#de3528"/><stop offset="1.0000" stop-color="#de3628"/></linearGradient>
<linearGradient id="g92" gradientUnits="userSpaceOnUse" x1="127.00" x2="702.00" y1="0" y2="0"><stop offset="0.0000" stop-color="#e95128"/><stop offset="0.0591" stop-color="#f3732e"/><stop offset="0.1183" stop-color="#f5913b"/><stop offset="0.2226" stop-color="#f7b64a"/><stop offset="0.3235" stop-color="#f7bb4b"/><stop offset="0.4000" stop-color="#f6ac46"/><stop offset="0.4522" stop-color="#f58f3a"/><stop offset="0.4696" stop-color="#f47e33"/><stop offset="0.4730" stop-color="#f48134"/><stop offset="0.4765" stop-color="#f3702c"/><stop offset="0.5565" stop-color="#ec5a29"/><stop offset="0.6052" stop-color="#e24028"/><stop offset="0.6504" stop-color="#d32029"/><stop offset="0.7270" stop-color="#cd1f28"/><stop offset="0.7304" stop-color="#d62429"/><stop offset="0.7374" stop-color="#e44528"/><stop offset="0.7409" stop-color="#ec5b29"/><stop offset="0.8035" stop-color="#ee6029"/><stop offset="1.0000" stop-color="#ee6029"/></linearGradient>
<linearGradient id="g93" gradientUnits="userSpaceOnUse" x1="127.00" x2="702.00" y1="0" y2="0"><stop offset="0.0000" stop-color="#e95228"/><stop offset="0.0591" stop-color="#f3742e"/><stop offset="0.1183" stop-color="#f5923b"/><stop offset="0.2226" stop-color="#f7b74a"/><stop offset="0.3235" stop-color="#f7bd4b"/><stop offset="0.4000" stop-color="#f6ae47"/><stop offset="0.4522" stop-color="#f5953d"/><stop offset="0.4696" stop-color="#f48536"/><stop offset="0.4730" stop-color="#f58737"/><stop offset="0.4835" stop-color="#f47f33"/><stop offset="0.5217" stop-color="#f26e2c"/><stop offset="0.5878" stop-color="#ed5c29"/><stop offset="0.6330" stop-color="#e44428"/><stop offset="0.6852" stop-color="#d32029"/><stop offset="0.7270" stop-color="#d32029"/><stop offset="0.7304" stop-color="#d82929"/><stop offset="0.7339" stop-color="#e13d28"/><stop offset="0.7374" stop-color="#eb5628"/><stop offset="0.7409" stop-color="#f47b31"/><stop offset="0.8104" stop-color="#f5963d"/><stop offset="0.8313" stop-color="#f69c40"/><stop offset="1.0000" stop-color="#f5923b"/></linearGradient>
<linearGradient id="g94" gradientUnits="userSpaceOnUse" x1="127.00" x2="702.00" y1="0" y2="0"><stop offset="0.0000" stop-color="#e95328"/><stop offset="0.0557" stop-color="#f3732d"/><stop offset="0.1183" stop-color="#f5923c"/><stop offset="0.2226" stop-color="#f7b84a"/><stop offset="0.3235" stop-color="#f7be4c"/><stop offset="0.4000" stop-color="#f7b148"/><stop offset="0.4522" stop-color="#f69a3f"/><stop offset="0.4696" stop-color="#f58b38"/><stop offset="0.4765" stop-color="#f5953d"/><stop offset="0.5217" stop-color="#f48435"/><stop offset="0.6191" stop-color="#f2702c"/><stop offset="0.6504" stop-color="#ef6329"/><stop offset="0.6713" stop-color="#e64a28"/><stop offset="0.6957" stop-color="#df3728"/><stop offset="0.7096" stop-color="#dc3128"/><stop offset="0.7270" stop-color="#e54628"/><stop offset="0.7304" stop-color="#e95028"/><stop offset="0.7339" stop-color="#f06529"/><stop offset="0.7409" stop-color="#f5933c"/><stop offset="0.7652" stop-color="#f6a644"/><stop offset="0.7965" stop-color="#f8c24d"/><stop offset="0.8243" stop-color="#f9e159"/><stop offset="0.9043" stop-color="#f8d353"/><stop offset="1.0000" stop-color="#f8c84f"/></linearGradient>
<linearGradient id="g95" gradientUnits="userSpaceOnUse" x1="127.00" x2="702.00" y1="0" y2="0"><stop offset="0.0000" stop-color="#ea5328"/><stop offset="0.0591" stop-color="#f3752f"/><stop offset="0.1183" stop-color="#f5933c"/><stop offset="0.2226" stop-color="#f7b94a"/><stop offset="0.3235" stop-color="#f7bf4c"/><stop offset="0.4000" stop-color="#f7b449"/><stop offset="0.4522" stop-color="#f69f41"/><stop offset="0.4696" stop-color="#f5913b"/><stop offset="0.4730" stop-color="#f5943c"/><stop offset="0.4765" stop-color="#f6a845"/><stop offset="0.5217" stop-color="#f69d40"/><stop offset="0.6470" stop-color="#f69c40"/><stop offset="0.6922" stop-color="#f37830"/><stop offset="0.7096" stop-color="#f26e2b"/><stop offset="0.7270" stop-color="#f47f33"/><stop offset="0.7304" stop-color="#f58636"/><stop offset="0.7409" stop-color="#f6ad47"/><stop offset="0.7583" stop-color="#f8c04d"/><stop offset="0.7861" stop-color="#f9e55a"/><stop offset="0.8243" stop-color="#d9e058"/><stop offset="1.0000" stop-color="#e8e259"/></linearGradient>
<linearGradient id="g96" gradientUnits="userSpaceOnUse" x1="127.00" x2="702.00" y1="0" y2="0"><stop offset="0.0000" stop-color="#ea5428"/><stop offset="0.0557" stop-color="#f3742e"/><stop offset="0.1183" stop-color="#f5933c"/><stop offset="0.2226" stop-color="#f7b94a"/><stop offset="0.3235" stop-color="#f8c14d"/><stop offset="0.4000" stop-color="#f7b649"/><stop offset="0.4522" stop-color="#f6a343"/><stop offset="0.4696" stop-color="#f5973e"/><stop offset="0.4730" stop-color="#f69a3f"/><stop offset="0.4765" stop-color="#f6ac46"/><stop offset="0.5565" stop-color="#f7b248"/><stop offset="0.6539" stop-color="#f8c84f"/><stop offset="0.6887" stop-color="#f7be4c"/><stop offset="0.7130" stop-color="#f6ad47"/><stop offset="0.7270" stop-color="#f6ac46"/><stop offset="0.7339" stop-color="#f7b84a"/><stop offset="0.7409" stop-color="#f8c94f"/><stop offset="0.7617" stop-color="#f6e55a"/><stop offset="0.7757" stop-color="#e2e159"/><stop offset="0.8243" stop-color="#b6d553"/><stop offset="1.0000" stop-color="#c6da55"/></linearGradient>
<linearGradient id="g97" gradientUnits="userSpaceOnUse" x1="127.00" x2="702.00" y1="0" y2="0"><stop offset="0.0000" stop-color="#ea5428"/><stop offset="0.0557" stop-color="#f3752e"/><stop offset="0.1183" stop-color="#f5943c"/><stop offset="0.2226" stop-color="#f7ba4b"/><stop offset="0.3235" stop-color="#f8c24d"/><stop offset="0.4000" stop-color="#f7b84a"/><stop offset="0.4522" stop-color="#f6a745"/><stop offset="0.4696" stop-color="#f69c40"/><stop offset="0.4730" stop-color="#f6a041"/><stop offset="0.4765" stop-color="#f7b048"/><stop offset="0.5426" stop-color="#f7bc4b"/><stop offset="0.5983" stop-color="#f8d654"/><stop offset="0.6330" stop-color="#f9e55a"/><stop offset="0.6922" stop-color="#ebe359"/><stop offset="0.7304" stop-color="#f0e45a"/><stop offset="0.7409" stop-color="#f9e55a"/><stop offset="0.7722" stop-color="#c3d955"/><stop offset="0.8035" stop-color="#a2ce4f"/><stop offset="0.8209" stop-color="#86c74b"/><stop offset="0.8383" stop-color="#86c64b"/><stop offset="0.9530" stop-color="#9acc4e"/><stop offset="1.0000" stop-color="#9fcd4f"/></linearGradient>
<linearGradient id="g98" gradientUnits="userSpaceOnUse" x1="127.00" x2="702.00" y1="0" y2="0"><stop offset="0.0000" stop-color="#ea5528"/><stop offset="0.0557" stop-color="#f3752f"/><stop offset="0.1183" stop-color="#f5943d"/><stop offset="0.2226" stop-color="#f7bb4b"/><stop offset="0.3235" stop-color="#f8c34d"/><stop offset="0.4035" stop-color="#f7b94a"/><stop offset="0.4522" stop-color="#f6ab46"/><stop offset="0.4696" stop-color="#f6a242"/><stop offset="0.4730" stop-color="#f6a544"/><stop offset="0.4765" stop-color="#f7b449"/><stop offset="0.5287" stop-color="#f8c34d"/><stop offset="0.5948" stop-color="#f9e55a"/><stop offset="0.6922" stop-color="#d2de58"/><stop offset="0.7304" stop-color="#cfdd57"/><stop offset="0.7409" stop-color="#d5df58"/><stop offset="0.7583" stop-color="#bbd653"/><stop offset="0.7757" stop-color="#95cb4d"/><stop offset="0.8035" stop-color="#69be48"/><stop offset="0.8243" stop-color="#53b849"/><stop offset="0.9739" stop-color="#65bd49"/><stop offset="1.0000" stop-color="#66bd48"/></linearGradient>
<linearGradient id="g99" gradientUnits="userSpaceOnUse" x1="127.00" x2="702.00" y1="0" y2="0"><stop offset="0.0000" stop-color="#eb5628"/><stop offset="0.0557" stop-color="#f3762f"/><stop offset="0.1183" stop-color="#f5953d"/><stop offset="0.2226" stop-color="#f7bb4b"/><stop offset="0.3235" stop-color="#f8c44e"/><stop offset="0.4035" stop-color="#f7bb4b"/><stop offset="0.4522" stop-color="#f6af47"/><stop offset="0.4696" stop-color="#f6a644"/><stop offset="0.4730" stop-color="#f6aa46"/><stop offset="0.4765" stop-color="#f7b94a"/><stop offset="0.5217" stop-color="#f8ca50"/><stop offset="0.5704" stop-color="#f8e55a"/><stop offset="0.6574" stop-color="#cddc57"/><stop offset="0.6887" stop-color="#b9d653"/><stop offset="0.7304" stop-color="#add251"/><stop offset="0.7409" stop-color="#b0d351"/><stop offset="0.7513" stop-color="#a3cf4f"/><stop offset="0.7687" stop-color="#6abf48"/><stop offset="0.7896" stop-color="#51b74a"/><stop offset="0.8104" stop-color="#4ab24e"/><stop offset="0.8313" stop-color="#49af54"/><stop offset="1.0000" stop-color="#4ab34d"/></linearGradient>
<linearGradient id="g100" gradientUnits="userSpaceOnUse" x1="127.00" x2="702.00" y1="0" y2="0"><stop offset="0.0000" stop-color="#eb5728"/><stop offset="0.0522" stop-color="#f3742e"/><stop offset="0.1183" stop-color="#f5953d"/><stop offset="0.2226" stop-color="#f7bc4b"/><stop offset="0.3235" stop-color="#f8c54e"/><stop offset="0.4035" stop-color="#f7bd4c"/><stop offset="0.4557" stop-color="#f7b148"/><stop offset="0.4696" stop-color="#f6ab46"/><stop offset="0.4730" stop-color="#f6af47"/><stop offset="0.4765" stop-color="#f7bd4b"/><stop offset="0.5183" stop-color="#f8d152"/><stop offset="0.5461" stop-color="#f9e55a"/><stop offset="0.6261" stop-color="#d1de57"/><stop offset="0.6922" stop-color="#a6cf50"/><stop offset="0.7235" stop-color="#93ca4d"/><stop offset="0.7304" stop-color="#8bc84c"/><stop offset="0.7409" stop-color="#74c149"/><stop offset="0.7548" stop-color="#66bd48"/><stop offset="0.7687" stop-color="#4cb64a"/><stop offset="0.8243" stop-color="#48a465"/><stop offset="1.0000" stop-color="#48a661"/></linearGradient>
<linearGradient id="g101" gradientUnits="userSpaceOnUse" x1="127.00" x2="702.00" y1="0" y2="0"><stop offset="0.0000" stop-color="#eb5828"/><stop offset="0.0557" stop-color="#f3772f"/><stop offset="0.1217" stop-color="#f5973e"/><stop offset="0.2226" stop-color="#f7bd4b"/><stop offset="0.3235" stop-color="#f8c64f"/><stop offset="0.4035" stop-color="#f7bf4c"/><stop offset="0.4557" stop-color="#f7b549"/><stop offset="0.4696" stop-color="#f6b047"/><stop offset="0.4730" stop-color="#f7b349"/><stop offset="0.4765" stop-color="#f8c14d"/><stop offset="0.5322" stop-color="#f9e259"/><stop offset="0.5670" stop-color="#e8e259"/><stop offset="0.6296" stop-color="#c0d854"/><stop offset="0.6817" stop-color="#9acc4e"/><stop offset="0.7165" stop-color="#7dc44a"/><stop offset="0.7304" stop-color="#6bbf48"/><stop offset="0.7409" stop-color="#4fb74a"/><stop offset="0.7548" stop-color="#4ab54a"/><stop offset="0.7861" stop-color="#48a464"/><stop offset="0.8278" stop-color="#499e75"/><stop offset="1.0000" stop-color="#499f73"/></linearGradient>
<linearGradient id="g102" gradientUnits="userSpaceOnUse" x1="127.00" x2="702.00" y1="0" y2="0"><stop offset="0.0000" stop-color="#eb5828"/><stop offset="0.0557" stop-color="#f37730"/><stop offset="0.1217" stop-color="#f5973e"/><stop offset="0.2226" stop-color="#f7bd4c"/><stop offset="0.3235" stop-color="#f8c84f"/><stop offset="0.4070" stop-color="#f8c04d"/><stop offset="0.4557" stop-color="#f7b84a"/><stop offset="0.4696" stop-color="#f7b449"/><stop offset="0.4730" stop-color="#f7b84a"/><stop offset="0.4765" stop-color="#f8c54e"/><stop offset="0.5287" stop-color="#f7e55a"/><stop offset="0.6052" stop-color="#c6da55"/><stop offset="0.6574" stop-color="#a2ce4f"/><stop offset="0.7200" stop-color="#62bc49"/><stop offset="0.7304" stop-color="#56b949"/><stop offset="0.7374" stop-color="#4ab44b"/><stop offset="0.7443" stop-color="#49b052"/><stop offset="0.7583" stop-color="#49aa5b"/><stop offset="0.7826" stop-color="#499f71"/><stop offset="0.8278" stop-color="#4a9985"/><stop offset="0.9461" stop-color="#4a978b"/><stop offset="1.0000" stop-color="#4a9889"/></linearGradient>
<linearGradient id="g103" gradientUnits="userSpaceOnUse" x1="127.00" x2="702.00" y1="0" y2="0"><stop offset="0.0000" stop-color="#ec5928"/><stop offset="0.0522" stop-color="#f3762f"/><stop offset="0.1217" stop-color="#f5983e"/><stop offset="0.2226" stop-color="#f7be4c"/><stop offset="0.3235" stop-color="#f8c94f"/><stop offset="0.4070" stop-color="#f8c24d"/><stop offset="0.4557" stop-color="#f7bb4b"/><stop offset="0.4696" stop-color="#f7b84a"/><stop offset="0.4730" stop-color="#f7bc4b"/><stop offset="0.4765" stop-color="#f8c94f"/><stop offset="0.5148" stop-color="#f9e55a"/><stop offset="0.5913" stop-color="#c6da55"/><stop offset="0.6226" stop-color="#b0d351"/><stop offset="0.6470" stop-color="#a3cf4f"/><stop offset="0.6957" stop-color="#68be48"/><stop offset="0.7304" stop-color="#4ab44b"/><stop offset="0.7409" stop-color="#49aa5b"/><stop offset="0.7583" stop-color="#48a368"/><stop offset="0.7826" stop-color="#4a9a7f"/><stop offset="0.8278" stop-color="#4a9498"/><stop offset="0.9148" stop-color="#4a8eae"/><stop offset="1.0000" stop-color="#4a90a8"/></linearGradient>
<linearGradient id="g104" gradientUnits="userSpaceOnUse" x1="127.00" x2="702.00" y1="0" y2="0"><stop offset="0.0000" stop-color="#ec5a28"/><stop offset="0.0522" stop-color="#f3772f"/><stop offset="0.1217" stop-color="#f5983e"/><stop offset="0.2226" stop-color="#f7be4c"/><stop offset="0.3235" stop-color="#f8ca50"/><stop offset="0.4070" stop-color="#f8c44e"/><stop offset="0.4591" stop-color="#f7bd4c"/><stop offset="0.4696" stop-color="#f7bb4b"/><stop offset="0.4730" stop-color="#f7bf4c"/><stop offset="0.4765" stop-color="#f8cd51"/><stop offset="0.5113" stop-color="#f7e55a"/><stop offset="0.5878" stop-color="#c1d854"/><stop offset="0.6226" stop-color="#a9d050"/><stop offset="0.6504" stop-color="#96cb4d"/><stop offset="0.6817" stop-color="#69be48"/><stop offset="0.7165" stop-color="#4ab54a"/><stop offset="0.7304" stop-color="#49ae54"/><stop offset="0.7409" stop-color="#48a366"/><stop offset="0.7583" stop-color="#499f73"/><stop offset="0.7826" stop-color="#4a978e"/><stop offset="0.8278" stop-color="#4a90a9"/><stop offset="0.8835" stop-color="#4a8bbb"/><stop offset="0.9148" stop-color="#4a88c6"/><stop offset="1.0000" stop-color="#4a8bbc"/></linearGradient>
<linearGradient id="g105" gradientUnits="userSpaceOnUse" x1="127.00" x2="702.00" y1="0" y2="0"><stop offset="0.0000" stop-color="#ec5a29"/><stop offset="0.0557" stop-color="#f37930"/><stop offset="0.1217" stop-color="#f5983e"/><stop offset="0.2226" stop-color="#f7bf4c"/><stop offset="0.3235" stop-color="#f8ca50"/><stop offset="0.4104" stop-color="#f8c54e"/><stop offset="0.4591" stop-color="#f8c04d"/><stop offset="0.4696" stop-color="#f7bf4c"/><stop offset="0.4730" stop-color="#f8c34d"/><stop offset="0.4765" stop-color="#f8d153"/><stop offset="0.5078" stop-color="#f7e55a"/><stop offset="0.5913" stop-color="#b8d553"/><stop offset="0.6296" stop-color="#a0ce4f"/><stop offset="0.6504" stop-color="#8cc84c"/><stop offset="0.6713" stop-color="#6abf48"/><stop offset="0.6957" stop-color="#52b74a"/><stop offset="0.7096" stop-color="#4ab34c"/><stop offset="0.7304" stop-color="#49a85d"/><stop offset="0.7409" stop-color="#49a06f"/><stop offset="0.7617" stop-color="#4a9982"/><stop offset="0.7861" stop-color="#4a929f"/><stop offset="0.8209" stop-color="#4a8eb2"/><stop offset="0.8835" stop-color="#4c8ac9"/><stop offset="0.9322" stop-color="#508ecc"/><stop offset="1.0000" stop-color="#4e8bca"/></linearGradient>
<linearGradient id="g106" gradientUnits="userSpaceOnUse" x1="127.00" x2="702.00" y1="0" y2="0"><stop offset="0.0000" stop-color="#ec5b29"/><stop offset="0.0522" stop-color="#f37730"/><stop offset="0.1217" stop-color="#f5993e"/><stop offset="0.2261" stop-color="#f8c04d"/><stop offset="0.3270" stop-color="#f8cb50"/><stop offset="0.4104" stop-color="#f8c74f"/><stop offset="0.4626" stop-color="#f8c24d"/><stop offset="0.4696" stop-color="#f8c24d"/><stop offset="0.4730" stop-color="#f8c64e"/><stop offset="0.4765" stop-color="#f8d654"/><stop offset="0.5043" stop-color="#f7e55a"/><stop offset="0.5704" stop-color="#bdd754"/><stop offset="0.5913" stop-color="#b1d352"/><stop offset="0.6191" stop-color="#a5cf50"/><stop offset="0.6504" stop-color="#83c64b"/><stop offset="0.6678" stop-color="#66bd48"/><stop offset="0.6887" stop-color="#4eb64a"/><stop offset="0.7096" stop-color="#49af53"/><stop offset="0.7304" stop-color="#48a366"/><stop offset="0.7409" stop-color="#4a9c79"/><stop offset="0.7583" stop-color="#4a988a"/><stop offset="0.7861" stop-color="#4a8fab"/><stop offset="0.8522" stop-color="#4a88c8"/><stop offset="0.9183" stop-color="#5895d0"/><stop offset="1.0000" stop-color="#5894d0"/></linearGradient>
<linearGradient id="g107" gradientUnits="userSpaceOnUse" x1="127.00" x2="702.00" y1="0" y2="0"><stop offset="0.0000" stop-color="#ed5b29"/><stop offset="0.0522" stop-color="#f37830"/><stop offset="0.1217" stop-color="#f6993f"/><stop offset="0.2261" stop-color="#f8c14d"/><stop offset="0.3270" stop-color="#f8cc51"/><stop offset="0.4104" stop-color="#f8c84f"/><stop offset="0.4696" stop-color="#f8c54e"/><stop offset="0.4730" stop-color="#f8c94f"/><stop offset="0.4765" stop-color="#f9da56"/><stop offset="0.5009" stop-color="#f7e55a"/><stop offset="0.5287" stop-color="#dee159"/><stop offset="0.5809" stop-color="#add251"/><stop offset="0.6157" stop-color="#a6cf50"/><stop offset="0.6504" stop-color="#7ac34a"/><stop offset="0.6748" stop-color="#57b949"/><stop offset="0.6887" stop-color="#4ab44c"/><stop offset="0.7200" stop-color="#48a563"/><stop offset="0.7339" stop-color="#499e75"/><stop offset="0.7409" stop-color="#4a9a82"/><stop offset="0.7583" stop-color="#4a9593"/><stop offset="0.7757" stop-color="#4a8fab"/><stop offset="0.8243" stop-color="#4a88c8"/><stop offset="0.9183" stop-color="#609cd4"/><stop offset="1.0000" stop-color="#629ed6"/></linearGradient>
<linearGradient id="g108" gradientUnits="userSpaceOnUse" x1="127.00" x2="702.00" y1="0" y2="0"><stop offset="0.0000" stop-color="#ed5c29"/><stop offset="0.0522" stop-color="#f37830"/><stop offset="0.1252" stop-color="#f69b3f"/><stop offset="0.2261" stop-color="#f8c14d"/><stop offset="0.3270" stop-color="#f8cd51"/><stop offset="0.4139" stop-color="#f8c950"/><stop offset="0.4696" stop-color="#f8c84f"/><stop offset="0.4730" stop-color="#f8cc51"/><stop offset="0.4765" stop-color="#f9de57"/><stop offset="0.4974" stop-color="#f6e55a"/><stop offset="0.5148" stop-color="#eae359"/><stop offset="0.5530" stop-color="#c1d854"/><stop offset="0.5843" stop-color="#acd151"/><stop offset="0.6157" stop-color="#a3ce4f"/><stop offset="0.6643" stop-color="#5fbb49"/><stop offset="0.6817" stop-color="#4ab44b"/><stop offset="0.7200" stop-color="#48a26a"/><stop offset="0.7374" stop-color="#4a9a80"/><stop offset="0.7617" stop-color="#4a91a3"/><stop offset="0.7896" stop-color="#4a8abe"/><stop offset="0.8139" stop-color="#4b89c9"/><stop offset="0.9148" stop-color="#68a2d8"/><stop offset="1.0000" stop-color="#6da7db"/></linearGradient>
<linearGradient id="g109" gradientUnits="userSpaceOnUse" x1="127.00" x2="702.00" y1="0" y2="0"><stop offset="0.0000" stop-color="#ed5c29"/><stop offset="0.0557" stop-color="#f47b31"/><stop offset="0.1252" stop-color="#f69b3f"/><stop offset="0.2261" stop-color="#f8c14d"/><stop offset="0.3270" stop-color="#f8ce51"/><stop offset="0.4174" stop-color="#f8cb50"/><stop offset="0.4696" stop-color="#f8cb50"/><stop offset="0.4730" stop-color="#f8cf52"/><stop offset="0.4765" stop-color="#f9e259"/><stop offset="0.5043" stop-color="#f0e45a"/><stop offset="0.5183" stop-color="#e3e159"/><stop offset="0.5461" stop-color="#c0d854"/><stop offset="0.5843" stop-color="#aad150"/><stop offset="0.6157" stop-color="#9fce4f"/><stop offset="0.6539" stop-color="#66bd48"/><stop offset="0.6783" stop-color="#4ab44c"/><stop offset="0.7200" stop-color="#499f71"/><stop offset="0.7548" stop-color="#4a92a0"/><stop offset="0.7757" stop-color="#4a8bba"/><stop offset="0.7930" stop-color="#4a88c8"/><stop offset="0.9113" stop-color="#6fa9dc"/><stop offset="1.0000" stop-color="#76b0e0"/></linearGradient>
<linearGradient id="g110" gradientUnits="userSpaceOnUse" x1="127.00" x2="702.00" y1="0" y2="0"><stop offset="0.0000" stop-color="#ed5d29"/><stop offset="0.0522" stop-color="#f37930"/><stop offset="0.1252" stop-color="#f69b3f"/><stop offset="0.2261" stop-color="#f8c24d"/><stop offset="0.3270" stop-color="#f8cf52"/><stop offset="0.4696" stop-color="#f8cd51"/><stop offset="0.4730" stop-color="#f8d153"/><stop offset="0.4765" stop-color="#f9e55a"/><stop offset="0.5113" stop-color="#eae259"/><stop offset="0.5461" stop-color="#b9d653"/><stop offset="0.6157" stop-color="#9ccd4e"/><stop offset="0.6470" stop-color="#68be48"/><stop offset="0.6713" stop-color="#4bb54a"/><stop offset="0.7130" stop-color="#49a06f"/><stop offset="0.7478" stop-color="#4a939d"/><stop offset="0.7757" stop-color="#4a8ac0"/><stop offset="0.7930" stop-color="#4f8ccb"/><stop offset="0.9043" stop-color="#74aedf"/><stop offset="1.0000" stop-color="#7fbae5"/></linearGradient>
<linearGradient id="g111" gradientUnits="userSpaceOnUse" x1="127.00" x2="702.00" y1="0" y2="0"><stop offset="0.0000" stop-color="#ed5d29"/><stop offset="0.0522" stop-color="#f37a31"/><stop offset="0.1252" stop-color="#f69c40"/><stop offset="0.2261" stop-color="#f8c24d"/><stop offset="0.3270" stop-color="#f8d052"/><stop offset="0.4452" stop-color="#f8cf52"/><stop offset="0.4696" stop-color="#f8d052"/><stop offset="0.4730" stop-color="#f8d454"/><stop offset="0.4765" stop-color="#f8e55a"/><stop offset="0.5113" stop-color="#e7e259"/><stop offset="0.5461" stop-color="#b3d452"/><stop offset="0.6122" stop-color="#9dcd4e"/><stop offset="0.6435" stop-color="#67be48"/><stop offset="0.6678" stop-color="#4ab44b"/><stop offset="0.7061" stop-color="#49a06e"/><stop offset="0.7339" stop-color="#4a978e"/><stop offset="0.7687" stop-color="#4a8ac1"/><stop offset="0.7826" stop-color="#4d8aca"/><stop offset="0.8591" stop-color="#6da7dc"/><stop offset="0.9287" stop-color="#7eb9e4"/><stop offset="1.0000" stop-color="#88c4ea"/></linearGradient>
<linearGradient id="g112" gradientUnits="userSpaceOnUse" x1="127.00" x2="702.00" y1="0" y2="0"><stop offset="0.0000" stop-color="#ed5e29"/><stop offset="0.0557" stop-color="#f47c32"/><stop offset="0.1252" stop-color="#f69c40"/><stop offset="0.2261" stop-color="#f8c34d"/><stop offset="0.3270" stop-color="#f8d052"/><stop offset="0.4452" stop-color="#f8d152"/><stop offset="0.4696" stop-color="#f8d253"/><stop offset="0.4730" stop-color="#f8d654"/><stop offset="0.4765" stop-color="#f8e55a"/><stop offset="0.5113" stop-color="#e5e259"/><stop offset="0.5461" stop-color="#aed251"/><stop offset="0.5948" stop-color="#a1ce4f"/><stop offset="0.6157" stop-color="#96cb4d"/><stop offset="0.6365" stop-color="#6bbf48"/><stop offset="0.6609" stop-color="#4bb54a"/><stop offset="0.7026" stop-color="#49a070"/><stop offset="0.7304" stop-color="#4a978e"/><stop offset="0.7617" stop-color="#4a8bbd"/><stop offset="0.7722" stop-color="#4c8ac9"/><stop offset="0.8487" stop-color="#70aadd"/><stop offset="0.9217" stop-color="#84bfe7"/><stop offset="1.0000" stop-color="#92ccee"/></linearGradient>
<linearGradient id="g113" gradientUnits="userSpaceOnUse" x1="127.00" x2="702.00" y1="0" y2="0"><stop offset="0.0000" stop-color="#ee5e29"/><stop offset="0.0591" stop-color="#f47e32"/><stop offset="0.1287" stop-color="#f69d40"/><stop offset="0.2261" stop-color="#f8c34d"/><stop offset="0.3270" stop-color="#f8d152"/><stop offset="0.4452" stop-color="#f8d253"/><stop offset="0.4696" stop-color="#f8d454"/><stop offset="0.4730" stop-color="#f9d855"/><stop offset="0.4765" stop-color="#f7e55a"/><stop offset="0.5113" stop-color="#e3e159"/><stop offset="0.5461" stop-color="#aed251"/><stop offset="0.5948" stop-color="#9fcd4f"/><stop offset="0.6122" stop-color="#97cb4e"/><stop offset="0.6261" stop-color="#7bc34a"/><stop offset="0.6470" stop-color="#56b949"/><stop offset="0.6574" stop-color="#4ab54b"/><stop offset="0.6991" stop-color="#499f72"/><stop offset="0.7339" stop-color="#4a9498"/><stop offset="0.7617" stop-color="#4a8ac1"/><stop offset="0.7722" stop-color="#4f8ccb"/><stop offset="0.8383" stop-color="#71acde"/><stop offset="0.9183" stop-color="#8ac6eb"/><stop offset="1.0000" stop-color="#9dd4f1"/></linearGradient>
<linearGradient id="g114" gradientUnits="userSpaceOnUse" x1="127.00" x2="702.00" y1="0" y2="0"><stop offset="0.0000" stop-color="#ee5f29"/><stop offset="0.0626" stop-color="#f48033"/><stop offset="0.1287" stop-color="#f69e41"/><stop offset="0.2261" stop-color="#f8c34e"/><stop offset="0.3270" stop-color="#f8d253"/><stop offset="0.4452" stop-color="#f8d454"/><stop offset="0.4696" stop-color="#f8d654"/><stop offset="0.4730" stop-color="#f9da56"/><stop offset="0.4765" stop-color="#f7e55a"/><stop offset="0.5113" stop-color="#e2e159"/><stop offset="0.5461" stop-color="#add251"/><stop offset="0.5983" stop-color="#9bcc4e"/><stop offset="0.6157" stop-color="#90c94d"/><stop offset="0.6330" stop-color="#6bbf48"/><stop offset="0.6539" stop-color="#4cb64a"/><stop offset="0.6922" stop-color="#49a06f"/><stop offset="0.7304" stop-color="#4a9498"/><stop offset="0.7583" stop-color="#4a8ac1"/><stop offset="0.7652" stop-color="#4b89c8"/><stop offset="0.8278" stop-color="#73adde"/><stop offset="0.9078" stop-color="#8fcaed"/><stop offset="1.0000" stop-color="#a8dcf4"/></linearGradient>
<linearGradient id="g115" gradientUnits="userSpaceOnUse" x1="127.00" x2="702.00" y1="0" y2="0"><stop offset="0.0000" stop-color="#ee5f29"/><stop offset="0.0591" stop-color="#f47e33"/><stop offset="0.1287" stop-color="#f69e41"/><stop offset="0.2261" stop-color="#f8c44e"/><stop offset="0.3270" stop-color="#f8d253"/><stop offset="0.4452" stop-color="#f8d554"/><stop offset="0.4696" stop-color="#f9d855"/><stop offset="0.4765" stop-color="#f6e55a"/><stop offset="0.5113" stop-color="#e0e159"/><stop offset="0.5461" stop-color="#add251"/><stop offset="0.6017" stop-color="#97cb4e"/><stop offset="0.6157" stop-color="#8dc84c"/><stop offset="0.6330" stop-color="#69be48"/><stop offset="0.6539" stop-color="#4ab54a"/><stop offset="0.6852" stop-color="#49a16c"/><stop offset="0.7200" stop-color="#4a968f"/><stop offset="0.7583" stop-color="#4a89c6"/><stop offset="0.8174" stop-color="#72acde"/><stop offset="0.8974" stop-color="#93cdee"/><stop offset="0.9948" stop-color="#b1e0f5"/><stop offset="1.0000" stop-color="#b3e1f5"/></linearGradient>
<linearGradient id="g116" gradientUnits="userSpaceOnUse" x1="127.00" x2="702.00" y1="0" y2="0"><stop offset="0.0000" stop-color="#ee6029"/><stop offset="0.0591" stop-color="#f47f33"/><stop offset="0.1287" stop-color="#f69e41"/><stop offset="0.2261" stop-color="#f8c44e"/><stop offset="0.3270" stop-color="#f8d353"/><stop offset="0.4452" stop-color="#f9d755"/><stop offset="0.4696" stop-color="#f9da56"/><stop offset="0.4765" stop-color="#f6e45a"/><stop offset="0.5113" stop-color="#dee058"/><stop offset="0.5461" stop-color="#add251"/><stop offset="0.6052" stop-color="#92ca4d"/><stop offset="0.6157" stop-color="#8ac84c"/><stop offset="0.6330" stop-color="#68be48"/><stop offset="0.6539" stop-color="#4ab44b"/><stop offset="0.6817" stop-color="#49a16d"/><stop offset="0.7130" stop-color="#4a9889"/><stop offset="0.7443" stop-color="#4a8db6"/><stop offset="0.7548" stop-color="#4a88c7"/><stop offset="0.8313" stop-color="#7eb9e5"/><stop offset="0.8974" stop-color="#9ad2f0"/><stop offset="0.9843" stop-color="#b7e2f6"/><stop offset="1.0000" stop-color="#bee5f7"/></linearGradient>
<linearGradient id="g117" gradientUnits="userSpaceOnUse" x1="127.00" x2="702.00" y1="0" y2="0"><stop offset="0.0000" stop-color="#ee6029"/><stop offset="0.0626" stop-color="#f48134"/><stop offset="0.1322" stop-color="#f6a041"/><stop offset="0.2261" stop-color="#f8c54e"/><stop offset="0.3270" stop-color="#f8d453"/><stop offset="0.4452" stop-color="#f9d855"/><stop offset="0.4696" stop-color="#f9db56"/><stop offset="0.4765" stop-color="#f6e45a"/><stop offset="0.5113" stop-color="#dce058"/><stop offset="0.5461" stop-color="#add251"/><stop offset="0.6122" stop-color="#8cc84c"/><stop offset="0.6365" stop-color="#62bc49"/><stop offset="0.6539" stop-color="#4ab44c"/><stop offset="0.6783" stop-color="#49a16c"/><stop offset="0.7130" stop-color="#4a978b"/><stop offset="0.7478" stop-color="#4a8abf"/><stop offset="0.7583" stop-color="#4f8ccb"/><stop offset="0.8313" stop-color="#83bee7"/><stop offset="0.9078" stop-color="#a5daf3"/><stop offset="0.9774" stop-color="#bee5f7"/><stop offset="1.0000" stop-color="#caeaf8"/></linearGradient>
<linearGradient id="g118" gradientUnits="userSpaceOnUse" x1="127.00" x2="702.00" y1="0" y2="0"><stop offset="0.0000" stop-color="#ee6129"/><stop offset="0.0730" stop-color="#f58636"/><stop offset="0.1461" stop-color="#f6a544"/><stop offset="0.2261" stop-color="#f8c54e"/><stop offset="0.3270" stop-color="#f8d454"/><stop offset="0.4452" stop-color="#f9d955"/><stop offset="0.4696" stop-color="#f9dd57"/><stop offset="0.4765" stop-color="#f5e45a"/><stop offset="0.5148" stop-color="#d6df58"/><stop offset="0.5461" stop-color="#add251"/><stop offset="0.6122" stop-color="#89c74c"/><stop offset="0.6330" stop-color="#65bd49"/><stop offset="0.6504" stop-color="#4cb64a"/><stop offset="0.6783" stop-color="#49a070"/><stop offset="0.6957" stop-color="#4a9b7e"/><stop offset="0.7096" stop-color="#4a9888"/><stop offset="0.7339" stop-color="#4a8fae"/><stop offset="0.7513" stop-color="#4a88c7"/><stop offset="0.8243" stop-color="#85c0e8"/><stop offset="0.8974" stop-color="#a9dcf4"/><stop offset="0.9739" stop-color="#c5e8f8"/><stop offset="1.0000" stop-color="#d5eefa"/></linearGradient>
<linearGradient id="g119" gradientUnits="userSpaceOnUse" x1="127.00" x2="702.00" y1="0" y2="0"><stop offset="0.0000" stop-color="#ee6129"/><stop offset="0.0835" stop-color="#f58b39"/><stop offset="0.2261" stop-color="#f8c54e"/><stop offset="0.3270" stop-color="#f8d554"/><stop offset="0.4452" stop-color="#f9da56"/><stop offset="0.4696" stop-color="#f9de57"/><stop offset="0.4800" stop-color="#f3e45a"/><stop offset="0.5148" stop-color="#d4df58"/><stop offset="0.5461" stop-color="#add251"/><stop offset="0.6157" stop-color="#82c54b"/><stop offset="0.6330" stop-color="#64bd49"/><stop offset="0.6504" stop-color="#4bb54a"/><stop offset="0.6748" stop-color="#49a06e"/><stop offset="0.6887" stop-color="#4a9b7d"/><stop offset="0.7096" stop-color="#4a9889"/><stop offset="0.7304" stop-color="#4a8fad"/><stop offset="0.7513" stop-color="#4a88c8"/><stop offset="0.7791" stop-color="#65a0d7"/><stop offset="0.8313" stop-color="#8dc9ec"/><stop offset="0.8904" stop-color="#acdef5"/><stop offset="0.9704" stop-color="#ccebf9"/><stop offset="1.0000" stop-color="#dff2fb"/></linearGradient>
<linearGradient id="g120" gradientUnits="userSpaceOnUse" x1="127.00" x2="702.00" y1="0" y2="0"><stop offset="0.0000" stop-color="#ef6129"/><stop offset="0.0904" stop-color="#f58f3a"/><stop offset="0.2261" stop-color="#f8c54e"/><stop offset="0.3270" stop-color="#f8d554"/><stop offset="0.4452" stop-color="#f9db56"/><stop offset="0.4696" stop-color="#f9e058"/><stop offset="0.4730" stop-color="#f9e45a"/><stop offset="0.5183" stop-color="#cedd57"/><stop offset="0.5461" stop-color="#add251"/><stop offset="0.6157" stop-color="#7fc44a"/><stop offset="0.6330" stop-color="#63bc49"/><stop offset="0.6504" stop-color="#4ab54a"/><stop offset="0.6713" stop-color="#49a16b"/><stop offset="0.6852" stop-color="#4a9b7e"/><stop offset="0.7096" stop-color="#4a978b"/><stop offset="0.7270" stop-color="#4a8fac"/><stop offset="0.7513" stop-color="#4c89c9"/><stop offset="0.7791" stop-color="#68a3d9"/><stop offset="0.8278" stop-color="#91cced"/><stop offset="0.8835" stop-color="#b0dff5"/><stop offset="0.9704" stop-color="#d6effa"/><stop offset="1.0000" stop-color="#e9f5fc"/></linearGradient>
<linearGradient id="g121" gradientUnits="userSpaceOnUse" x1="127.00" x2="702.00" y1="0" y2="0"><stop offset="0.0000" stop-color="#ef6229"/><stop offset="0.0904" stop-color="#f58f3a"/><stop offset="0.2261" stop-color="#f8c64e"/><stop offset="0.3270" stop-color="#f8d654"/><stop offset="0.4452" stop-color="#f9dc57"/><stop offset="0.4696" stop-color="#f9e158"/><stop offset="0.4730" stop-color="#f9e55a"/><stop offset="0.5252" stop-color="#c4d955"/><stop offset="0.5461" stop-color="#add251"/><stop offset="0.6157" stop-color="#7cc44a"/><stop offset="0.6330" stop-color="#61bc49"/><stop offset="0.6504" stop-color="#4ab54a"/><stop offset="0.6713" stop-color="#49a16b"/><stop offset="0.6852" stop-color="#4a9b7e"/><stop offset="0.7096" stop-color="#4a978d"/><stop offset="0.7270" stop-color="#4a8eae"/><stop offset="0.7478" stop-color="#4a88c7"/><stop offset="0.7791" stop-color="#6ba5da"/><stop offset="0.8243" stop-color="#95ceee"/><stop offset="0.8939" stop-color="#bae4f6"/><stop offset="0.9704" stop-color="#def2fb"/><stop offset="1.0000" stop-color="#f3f9fe"/></linearGradient>
<linearGradient id="g122" gradientUnits="userSpaceOnUse" x1="127.00" x2="702.00" y1="0" y2="0"><stop offset="0.0000" stop-color="#ef6229"/><stop offset="0.1009" stop-color="#f5953d"/><stop offset="0.2296" stop-color="#f8c74f"/><stop offset="0.3270" stop-color="#f9d755"/><stop offset="0.4452" stop-color="#f9dd57"/><stop offset="0.4696" stop-color="#f9e259"/><stop offset="0.4800" stop-color="#f1e45a"/><stop offset="0.5287" stop-color="#bfd854"/><stop offset="0.5496" stop-color="#abd151"/><stop offset="0.6157" stop-color="#79c349"/><stop offset="0.6470" stop-color="#4eb64a"/><stop offset="0.6539" stop-color="#49b151"/><stop offset="0.6748" stop-color="#499f71"/><stop offset="0.6887" stop-color="#4a9a80"/><stop offset="0.7096" stop-color="#4a968f"/><stop offset="0.7235" stop-color="#4a8fac"/><stop offset="0.7443" stop-color="#4a88c7"/><stop offset="0.7583" stop-color="#5793cf"/><stop offset="0.7791" stop-color="#6ea8dc"/><stop offset="0.8243" stop-color="#9ad2f0"/><stop offset="0.8661" stop-color="#afdff5"/><stop offset="0.8939" stop-color="#c0e6f7"/><stop offset="0.9809" stop-color="#ebf6fd"/><stop offset="1.0000" stop-color="#f7fbfe"/></linearGradient>
<linearGradient id="g123" gradientUnits="userSpaceOnUse" x1="127.00" x2="702.00" y1="0" y2="0"><stop offset="0.0000" stop-color="#ef6229"/><stop offset="0.1217" stop-color="#f69d40"/><stop offset="0.2296" stop-color="#f8c74f"/><stop offset="0.3270" stop-color="#f9d755"/><stop offset="0.4452" stop-color="#f9de57"/><stop offset="0.4730" stop-color="#f7e55a"/><stop offset="0.5252" stop-color="#c3d955"/><stop offset="0.5496" stop-color="#abd151"/><stop offset="0.6052" stop-color="#80c54a"/><stop offset="0.6157" stop-color="#77c249"/><stop offset="0.6504" stop-color="#4ab44c"/><stop offset="0.6713" stop-color="#49a16c"/><stop offset="0.6852" stop-color="#4a9b7e"/><stop offset="0.7096" stop-color="#4a9690"/><stop offset="0.7235" stop-color="#4a8eaf"/><stop offset="0.7409" stop-color="#4a88c7"/><stop offset="0.7548" stop-color="#5390cd"/><stop offset="0.7757" stop-color="#6ea8dc"/><stop offset="0.8070" stop-color="#8bc7ec"/><stop offset="0.8243" stop-color="#a0d6f2"/><stop offset="0.8626" stop-color="#afdff5"/><stop offset="0.8904" stop-color="#c5e8f8"/><stop offset="1.0000" stop-color="#fafcfe"/></linearGradient>
<linearGradient id="g124" gradientUnits="userSpaceOnUse" x1="127.00" x2="702.00" y1="0" y2="0"><stop offset="0.0000" stop-color="#ef6329"/><stop offset="0.1217" stop-color="#f69d40"/><stop offset="0.2296" stop-color="#f8c84f"/><stop offset="0.3270" stop-color="#f9d855"/><stop offset="0.4452" stop-color="#f9de58"/><stop offset="0.4696" stop-color="#f9e45a"/><stop offset="0.5217" stop-color="#c7da55"/><stop offset="0.5496" stop-color="#abd151"/><stop offset="0.5983" stop-color="#82c54b"/><stop offset="0.6157" stop-color="#74c149"/><stop offset="0.6504" stop-color="#4ab44c"/><stop offset="0.6713" stop-color="#49a16c"/><stop offset="0.6887" stop-color="#4a9a81"/><stop offset="0.7096" stop-color="#4a9592"/><stop offset="0.7200" stop-color="#4a8fab"/><stop offset="0.7409" stop-color="#4b89c8"/><stop offset="0.7548" stop-color="#5491ce"/><stop offset="0.7722" stop-color="#6ea8dc"/><stop offset="0.8035" stop-color="#8bc6eb"/><stop offset="0.8243" stop-color="#a3d8f3"/><stop offset="0.8591" stop-color="#afdff5"/><stop offset="0.8870" stop-color="#caeaf8"/><stop offset="0.9809" stop-color="#f6fbfe"/><stop offset="1.0000" stop-color="#fdfeff"/></linearGradient>
<linearGradient id="g125" gradientUnits="userSpaceOnUse" x1="127.00" x2="702.00" y1="0" y2="0"><stop offset="0.0000" stop-color="#ef6329"/><stop offset="0.1217" stop-color="#f69d40"/><stop offset="0.2296" stop-color="#f8c84f"/><stop offset="0.3270" stop-color="#f9d855"/><stop offset="0.4452" stop-color="#f9df58"/><stop offset="0.4696" stop-color="#f9e55a"/><stop offset="0.5252" stop-color="#c3d955"/><stop offset="0.5496" stop-color="#abd150"/><stop offset="0.5948" stop-color="#82c54b"/><stop offset="0.6157" stop-color="#71c148"/><stop offset="0.6504" stop-color="#4ab34d"/><stop offset="0.6713" stop-color="#49a16c"/><stop offset="0.6887" stop-color="#4a9a81"/><stop offset="0.7096" stop-color="#4a9594"/><stop offset="0.7200" stop-color="#4a8fad"/><stop offset="0.7374" stop-color="#4a89c6"/><stop offset="0.7548" stop-color="#5692ce"/><stop offset="0.7722" stop-color="#71abde"/><stop offset="0.8104" stop-color="#95ceef"/><stop offset="0.8243" stop-color="#a4d9f3"/><stop offset="0.8591" stop-color="#b2e0f5"/><stop offset="0.8870" stop-color="#d0ecf9"/><stop offset="0.9739" stop-color="#f8fcfe"/><stop offset="1.0000" stop-color="#ffffff"/></linearGradient>
<linearGradient id="g126" gradientUnits="userSpaceOnUse" x1="127.00" x2="702.00" y1="0" y2="0"><stop offset="0.0000" stop-color="#ef6329"/><stop offset="0.1217" stop-color="#f69e41"/><stop offset="0.2296" stop-color="#f8c84f"/><stop offset="0.3270" stop-color="#f9d855"/><stop offset="0.4452" stop-color="#f9e058"/><stop offset="0.4696" stop-color="#f8e55a"/><stop offset="0.5252" stop-color="#c3d955"/><stop offset="0.5913" stop-color="#82c54b"/><stop offset="0.6191" stop-color="#6abf48"/><stop offset="0.6470" stop-color="#4bb54a"/><stop offset="0.6713" stop-color="#49a16c"/><stop offset="0.6922" stop-color="#4a9985"/><stop offset="0.7096" stop-color="#4a9595"/><stop offset="0.7200" stop-color="#4a8eae"/><stop offset="0.7374" stop-color="#4a88c6"/><stop offset="0.7548" stop-color="#5793cf"/><stop offset="0.7722" stop-color="#73aedf"/><stop offset="0.8139" stop-color="#9bd3f0"/><stop offset="0.8313" stop-color="#a8dcf4"/><stop offset="0.8591" stop-color="#b5e1f6"/><stop offset="0.8870" stop-color="#d6effa"/><stop offset="0.9809" stop-color="#fdfeff"/><stop offset="1.0000" stop-color="#ffffff"/></linearGradient>
<linearGradient id="g127" gradientUnits="userSpaceOnUse" x1="127.00" x2="702.00" y1="0" y2="0"><stop offset="0.0000" stop-color="#ef6329"/><stop offset="0.1252" stop-color="#f69f41"/><stop offset="0.2296" stop-color="#f8c84f"/><stop offset="0.3270" stop-color="#f9d955"/><stop offset="0.4452" stop-color="#f9e158"/><stop offset="0.4696" stop-color="#f7e55a"/><stop offset="0.5252" stop-color="#c3d955"/><stop offset="0.5704" stop-color="#93ca4d"/><stop offset="0.6017" stop-color="#78c349"/><stop offset="0.6330" stop-color="#5aba49"/><stop offset="0.6470" stop-color="#4ab54a"/><stop offset="0.6713" stop-color="#49a16d"/><stop offset="0.6991" stop-color="#4a978d"/><stop offset="0.7096" stop-color="#4a9497"/><stop offset="0.7200" stop-color="#4a8eaf"/><stop offset="0.7374" stop-color="#4a88c7"/><stop offset="0.7548" stop-color="#5895d0"/><stop offset="0.7722" stop-color="#76b0e0"/><stop offset="0.8243" stop-color="#a7dbf4"/><stop offset="0.8591" stop-color="#b8e3f6"/><stop offset="0.8835" stop-color="#daf0fa"/><stop offset="0.9774" stop-color="#ffffff"/><stop offset="1.0000" stop-color="#ffffff"/></linearGradient>
<linearGradient id="g128" gradientUnits="userSpaceOnUse" x1="127.00" x2="702.00" y1="0" y2="0"><stop offset="0.0000" stop-color="#ef6429"/><stop offset="0.1252" stop-color="#f69f41"/><stop offset="0.2296" stop-color="#f8c94f"/><stop offset="0.3270" stop-color="#f9d956"/><stop offset="0.4452" stop-color="#f9e159"/><stop offset="0.4696" stop-color="#f6e55a"/><stop offset="0.5252" stop-color="#c2d955"/><stop offset="0.5670" stop-color="#96cb4e"/><stop offset="0.5878" stop-color="#81c54b"/><stop offset="0.6226" stop-color="#65bd49"/><stop offset="0.6470" stop-color="#4ab54a"/><stop offset="0.6713" stop-color="#49a16d"/><stop offset="0.7096" stop-color="#4a9499"/><stop offset="0.7200" stop-color="#4a8eb0"/><stop offset="0.7374" stop-color="#4a88c8"/><stop offset="0.7548" stop-color="#5996d0"/><stop offset="0.7722" stop-color="#78b3e2"/><stop offset="0.8209" stop-color="#a5daf3"/><stop offset="0.8591" stop-color="#bbe4f6"/><stop offset="0.8835" stop-color="#dff2fb"/><stop offset="0.9322" stop-color="#f4fafe"/><stop offset="0.9809" stop-color="#ffffff"/><stop offset="1.0000" stop-color="#ffffff"/></linearGradient>
<linearGradient id="g129" gradientUnits="userSpaceOnUse" x1="127.00" x2="702.00" y1="0" y2="0"><stop offset="0.0000" stop-color="#f06429"/><stop offset="0.1252" stop-color="#f69f41"/><stop offset="0.2296" stop-color="#f8c94f"/><stop offset="0.3270" stop-color="#f9da56"/><stop offset="0.4452" stop-color="#f9e259"/><stop offset="0.4696" stop-color="#f6e45a"/><stop offset="0.5252" stop-color="#c2d955"/><stop offset="0.5635" stop-color="#99cc4e"/><stop offset="0.5843" stop-color="#82c54b"/><stop offset="0.6191" stop-color="#68be48"/><stop offset="0.6470" stop-color="#4ab44b"/><stop offset="0.6713" stop-color="#49a16d"/><stop offset="0.7096" stop-color="#4a939b"/><stop offset="0.7200" stop-color="#4a8eb0"/><stop offset="0.7374" stop-color="#4a88c8"/><stop offset="0.7548" stop-color="#5a97d1"/><stop offset="0.7722" stop-color="#7bb6e3"/><stop offset="0.8104" stop-color="#9dd4f1"/><stop offset="0.8348" stop-color="#afdff5"/><stop offset="0.8591" stop-color="#bee5f7"/><stop offset="0.8835" stop-color="#e5f4fc"/><stop offset="0.9217" stop-color="#f5fbfe"/><stop offset="0.9739" stop-color="#ffffff"/><stop offset="1.0000" stop-color="#ffffff"/></linearGradient>
<linearGradient id="g130" gradientUnits="userSpaceOnUse" x1="127.00" x2="702.00" y1="0" y2="0"><stop offset="0.0000" stop-color="#f06429"/><stop offset="0.1252" stop-color="#f6a041"/><stop offset="0.2296" stop-color="#f8c94f"/><stop offset="0.3270" stop-color="#f9da56"/><stop offset="0.4452" stop-color="#f9e259"/><stop offset="0.4696" stop-color="#f5e45a"/><stop offset="0.5252" stop-color="#c2d955"/><stop offset="0.5600" stop-color="#9dcd4e"/><stop offset="0.5809" stop-color="#82c54b"/><stop offset="0.6191" stop-color="#68be48"/><stop offset="0.6470" stop-color="#4ab44c"/><stop offset="0.6713" stop-color="#49a16d"/><stop offset="0.7096" stop-color="#4a939c"/><stop offset="0.7235" stop-color="#4a8cb6"/><stop offset="0.7374" stop-color="#4b89c9"/><stop offset="0.7548" stop-color="#5c98d2"/><stop offset="0.7722" stop-color="#7db8e4"/><stop offset="0.8000" stop-color="#96cfef"/><stop offset="0.8278" stop-color="#acdef5"/><stop offset="0.8591" stop-color="#c0e6f7"/><stop offset="0.8835" stop-color="#ebf6fd"/><stop offset="0.9496" stop-color="#ffffff"/><stop offset="1.0000" stop-color="#ffffff"/></linearGradient>
<linearGradient id="g131" gradientUnits="userSpaceOnUse" x1="127.00" x2="702.00" y1="0" y2="0"><stop offset="0.0000" stop-color="#f06429"/><stop offset="0.1252" stop-color="#f6a041"/><stop offset="0.2296" stop-color="#f8c94f"/><stop offset="0.3270" stop-color="#f9db56"/><stop offset="0.4452" stop-color="#f9e359"/><stop offset="0.4696" stop-color="#f4e45a"/><stop offset="0.5252" stop-color="#c2d955"/><stop offset="0.5600" stop-color="#9ccd4e"/><stop offset="0.5809" stop-color="#80c54a"/><stop offset="0.6191" stop-color="#67be48"/><stop offset="0.6470" stop-color="#4ab44c"/><stop offset="0.6713" stop-color="#49a16d"/><stop offset="0.7096" stop-color="#4a929e"/><stop offset="0.7235" stop-color="#4a8cb7"/><stop offset="0.7374" stop-color="#4c89c9"/><stop offset="0.7548" stop-color="#5d99d2"/><stop offset="0.7722" stop-color="#80bbe6"/><stop offset="0.7965" stop-color="#96cfef"/><stop offset="0.8313" stop-color="#b0dff5"/><stop offset="0.8591" stop-color="#c3e7f8"/><stop offset="0.8835" stop-color="#f0f8fd"/><stop offset="0.9530" stop-color="#ffffff"/><stop offset="1.0000" stop-color="#ffffff"/></linearGradient>
<linearGradient id="g132" gradientUnits="userSpaceOnUse" x1="127.00" x2="702.00" y1="0" y2="0"><stop offset="0.0000" stop-color="#f06529"/><stop offset="0.1252" stop-color="#f6a041"/><stop offset="0.2296" stop-color="#f8c950"/><stop offset="0.3270" stop-color="#f9db56"/><stop offset="0.4452" stop-color="#f9e359"/><stop offset="0.4696" stop-color="#f4e45a"/><stop offset="0.5252" stop-color="#c2d955"/><stop offset="0.5565" stop-color="#a0ce4f"/><stop offset="0.5809" stop-color="#7fc44a"/><stop offset="0.6191" stop-color="#67be48"/><stop offset="0.6435" stop-color="#4ab54a"/><stop offset="0.6713" stop-color="#49a16e"/><stop offset="0.7096" stop-color="#4a92a0"/><stop offset="0.7270" stop-color="#4a8bbd"/><stop offset="0.7374" stop-color="#4c8ac9"/><stop offset="0.7548" stop-color="#5e9ad3"/><stop offset="0.7722" stop-color="#82bde7"/><stop offset="0.7930" stop-color="#97d0ef"/><stop offset="0.8348" stop-color="#b4e1f6"/><stop offset="0.8591" stop-color="#c6e8f8"/><stop offset="0.8835" stop-color="#f4fafe"/><stop offset="0.9496" stop-color="#ffffff"/><stop offset="1.0000" stop-color="#ffffff"/></linearGradient>
<linearGradient id="g133" gradientUnits="userSpaceOnUse" x1="127.00" x2="702.00" y1="0" y2="0"><stop offset="0.0000" stop-color="#f06529"/><stop offset="0.1252" stop-color="#f6a042"/><stop offset="0.2296" stop-color="#f8ca50"/><stop offset="0.3270" stop-color="#f9db56"/><stop offset="0.4452" stop-color="#f9e45a"/><stop offset="0.4696" stop-color="#f3e45a"/><stop offset="0.5252" stop-color="#c2d955"/><stop offset="0.5565" stop-color="#a0ce4f"/><stop offset="0.5809" stop-color="#7fc44a"/><stop offset="0.6191" stop-color="#66bd48"/><stop offset="0.6435" stop-color="#4ab54a"/><stop offset="0.6713" stop-color="#49a06e"/><stop offset="0.7096" stop-color="#4a92a2"/><stop offset="0.7339" stop-color="#4a88c7"/><stop offset="0.7548" stop-color="#5f9bd4"/><stop offset="0.7722" stop-color="#82bee7"/><stop offset="0.7896" stop-color="#97d0ef"/><stop offset="0.8417" stop-color="#bae4f6"/><stop offset="0.8591" stop-color="#c9e9f8"/><stop offset="0.8835" stop-color="#f5fafe"/><stop offset="0.9426" stop-color="#ffffff"/><stop offset="1.0000" stop-color="#ffffff"/></linearGradient>
<linearGradient id="g134" gradientUnits="userSpaceOnUse" x1="127.00" x2="702.00" y1="0" y2="0"><stop offset="0.0000" stop-color="#f06529"/><stop offset="0.1252" stop-color="#f6a042"/><stop offset="0.2296" stop-color="#f8ca50"/><stop offset="0.3270" stop-color="#f9dc56"/><stop offset="0.4452" stop-color="#f9e45a"/><stop offset="0.4696" stop-color="#f3e45a"/><stop offset="0.5252" stop-color="#c1d855"/><stop offset="0.5565" stop-color="#a0ce4f"/><stop offset="0.5809" stop-color="#7fc44a"/><stop offset="0.6191" stop-color="#66bd49"/><stop offset="0.6435" stop-color="#4ab44b"/><stop offset="0.6713" stop-color="#49a06e"/><stop offset="0.7096" stop-color="#4a91a3"/><stop offset="0.7339" stop-color="#4a88c7"/><stop offset="0.7548" stop-color="#609bd4"/><stop offset="0.7722" stop-color="#83bee7"/><stop offset="0.7896" stop-color="#9bd3f0"/><stop offset="0.8487" stop-color="#c1e6f7"/><stop offset="0.8591" stop-color="#cbebf9"/><stop offset="0.8835" stop-color="#f6fbfe"/><stop offset="0.9357" stop-color="#ffffff"/><stop offset="1.0000" stop-color="#ffffff"/></linearGradient>
<linearGradient id="g135" gradientUnits="userSpaceOnUse" x1="127.00" x2="702.00" y1="0" y2="0"><stop offset="0.0000" stop-color="#f0652a"/><stop offset="0.1252" stop-color="#f6a042"/><stop offset="0.2296" stop-color="#f8ca50"/><stop offset="0.3270" stop-color="#f9dc57"/><stop offset="0.4591" stop-color="#f7e55a"/><stop offset="0.4870" stop-color="#e5e259"/><stop offset="0.5565" stop-color="#a0ce4f"/><stop offset="0.5809" stop-color="#7fc44a"/><stop offset="0.6191" stop-color="#65bd49"/><stop offset="0.6435" stop-color="#4ab44b"/><stop offset="0.6748" stop-color="#499f73"/><stop offset="0.7339" stop-color="#4a88c8"/><stop offset="0.7548" stop-color="#619cd5"/><stop offset="0.7757" stop-color="#88c4ea"/><stop offset="0.7896" stop-color="#9ed5f1"/><stop offset="0.8348" stop-color="#b9e3f6"/><stop offset="0.8591" stop-color="#ceecf9"/><stop offset="0.8835" stop-color="#f7fbfe"/><stop offset="0.9322" stop-color="#ffffff"/><stop offset="1.0000" stop-color="#ffffff"/></linearGradient>
<linearGradient id="g136" gradientUnits="userSpaceOnUse" x1="127.00" x2="702.00" y1="0" y2="0"><stop offset="0.0000" stop-color="#f0662a"/><stop offset="0.1252" stop-color="#f6a042"/><stop offset="0.2330" stop-color="#f8cb50"/><stop offset="0.3304" stop-color="#f9dc57"/><stop offset="0.4557" stop-color="#f7e55a"/><stop offset="0.4696" stop-color="#f2e45a"/><stop offset="0.5252" stop-color="#c1d854"/><stop offset="0.5565" stop-color="#a0ce4f"/><stop offset="0.5809" stop-color="#7fc44a"/><stop offset="0.6191" stop-color="#65bd49"/><stop offset="0.6435" stop-color="#4ab44c"/><stop offset="0.6748" stop-color="#499f73"/><stop offset="0.7026" stop-color="#4a939c"/><stop offset="0.7339" stop-color="#4a88c8"/><stop offset="0.7548" stop-color="#629dd5"/><stop offset="0.7791" stop-color="#8ec9ed"/><stop offset="0.7896" stop-color="#9fd5f1"/><stop offset="0.8313" stop-color="#b7e2f6"/><stop offset="0.8591" stop-color="#d0edf9"/><stop offset="0.8835" stop-color="#f9fcfe"/><stop offset="0.9287" stop-color="#ffffff"/><stop offset="1.0000" stop-color="#ffffff"/></linearGradient>
<linearGradient id="g137" gradientUnits="userSpaceOnUse" x1="127.00" x2="702.00" y1="0" y2="0"><stop offset="0.0000" stop-color="#f0662a"/><stop offset="0.1252" stop-color="#f6a042"/><stop offset="0.2330" stop-color="#f8cb50"/><stop offset="0.3304" stop-color="#f9dd57"/><stop offset="0.4557" stop-color="#f7e55a"/><stop offset="0.4696" stop-color="#f1e45a"/><stop offset="0.5252" stop-color="#c1d854"/><stop offset="0.5565" stop-color="#a0ce4f"/><stop offset="0.5809" stop-color="#7ec44a"/><stop offset="0.6191" stop-color="#64bd49"/><stop offset="0.6435" stop-color="#4ab34c"/><stop offset="0.6748" stop-color="#499f73"/><stop offset="0.6957" stop-color="#4a9691"/><stop offset="0.7270" stop-color="#4a8ac0"/><stop offset="0.7339" stop-color="#4b89c9"/><stop offset="0.7548" stop-color="#639ed6"/><stop offset="0.7791" stop-color="#8ecaed"/><stop offset="0.7896" stop-color="#9fd6f1"/><stop offset="0.8313" stop-color="#b9e3f6"/><stop offset="0.8591" stop-color="#d3eefa"/><stop offset="0.8835" stop-color="#fafcfe"/><stop offset="0.9252" stop-color="#ffffff"/><stop offset="1.0000" stop-color="#ffffff"/></linearGradient>
<linearGradient id="g138" gradientUnits="userSpaceOnUse" x1="127.00" x2="702.00" y1="0" y2="0"><stop offset="0.0000" stop-color="#f0662a"/><stop offset="0.1252" stop-color="#f6a142"/><stop offset="0.2330" stop-color="#f8cc50"/><stop offset="0.3304" stop-color="#f9dd57"/><stop offset="0.4557" stop-color="#f6e55a"/><stop offset="0.4696" stop-color="#f1e45a"/><stop offset="0.5252" stop-color="#c1d854"/><stop offset="0.5565" stop-color="#a0ce4f"/><stop offset="0.5809" stop-color="#7ec44a"/><stop offset="0.6191" stop-color="#64bd49"/><stop offset="0.6435" stop-color="#4ab34c"/><stop offset="0.6748" stop-color="#499f73"/><stop offset="0.6957" stop-color="#4a9691"/><stop offset="0.7304" stop-color="#4a89c5"/><stop offset="0.7548" stop-color="#649fd6"/><stop offset="0.7826" stop-color="#94ceee"/><stop offset="0.7930" stop-color="#a1d7f2"/><stop offset="0.8313" stop-color="#bae4f6"/><stop offset="0.8591" stop-color="#d5effa"/><stop offset="0.8835" stop-color="#fbfdff"/><stop offset="0.9252" stop-color="#ffffff"/><stop offset="1.0000" stop-color="#ffffff"/></linearGradient>
<linearGradient id="g139" gradientUnits="userSpaceOnUse" x1="127.00" x2="702.00" y1="0" y2="0"><stop offset="0.0000" stop-color="#f0662a"/><stop offset="0.1252" stop-color="#f6a142"/><stop offset="0.2330" stop-color="#f8cc50"/><stop offset="0.3304" stop-color="#f9dd57"/><stop offset="0.4522" stop-color="#f7e55a"/><stop offset="0.4696" stop-color="#f1e45a"/><stop offset="0.5252" stop-color="#c1d854"/><stop offset="0.5565" stop-color="#a0ce4f"/><stop offset="0.5809" stop-color="#7ec44a"/><stop offset="0.6191" stop-color="#64bd49"/><stop offset="0.6400" stop-color="#4bb54a"/><stop offset="0.6748" stop-color="#499f73"/><stop offset="0.6957" stop-color="#4a9691"/><stop offset="0.7304" stop-color="#4a89c5"/><stop offset="0.7548" stop-color="#65a0d7"/><stop offset="0.7826" stop-color="#95ceee"/><stop offset="0.7930" stop-color="#a1d7f2"/><stop offset="0.8313" stop-color="#bce4f7"/><stop offset="0.8626" stop-color="#ddf1fb"/><stop offset="0.8835" stop-color="#fcfeff"/><stop offset="0.9565" stop-color="#ffffff"/><stop offset="1.0000" stop-color="#ffffff"/></linearGradient>
<linearGradient id="g140" gradientUnits="userSpaceOnUse" x1="127.00" x2="702.00" y1="0" y2="0"><stop offset="0.0000" stop-color="#f0662a"/><stop offset="0.1252" stop-color="#f6a142"/><stop offset="0.2330" stop-color="#f8cc50"/><stop offset="0.3304" stop-color="#f9de57"/><stop offset="0.4522" stop-color="#f7e55a"/><stop offset="0.4696" stop-color="#f0e45a"/><stop offset="0.5252" stop-color="#c0d854"/><stop offset="0.5565" stop-color="#a0ce4f"/><stop offset="0.5809" stop-color="#7ec44a"/><stop offset="0.6191" stop-color="#63bc49"/><stop offset="0.6400" stop-color="#4bb54a"/><stop offset="0.6748" stop-color="#499f73"/><stop offset="0.6957" stop-color="#4a9691"/><stop offset="0.7304" stop-color="#4a89c6"/><stop offset="0.7548" stop-color="#65a0d7"/><stop offset="0.7826" stop-color="#95ceee"/><stop offset="0.7930" stop-color="#a2d7f2"/><stop offset="0.8313" stop-color="#bde5f7"/><stop offset="0.8626" stop-color="#dff2fb"/><stop offset="0.8835" stop-color="#fdfeff"/><stop offset="1.0000" stop-color="#ffffff"/></linearGradient>
<linearGradient id="g141" gradientUnits="userSpaceOnUse" x1="127.00" x2="702.00" y1="0" y2="0"><stop offset="0.0000" stop-color="#f0662a"/><stop offset="0.1287" stop-color="#f6a242"/><stop offset="0.2330" stop-color="#f8cc51"/><stop offset="0.3304" stop-color="#f9de57"/><stop offset="0.4522" stop-color="#f6e55a"/><stop offset="0.4696" stop-color="#f0e359"/><stop offset="0.5252" stop-color="#c0d854"/><stop offset="0.5565" stop-color="#a0ce4f"/><stop offset="0.5809" stop-color="#7ec44a"/><stop offset="0.6191" stop-color="#63bc49"/><stop offset="0.6400" stop-color="#4bb54a"/><stop offset="0.6748" stop-color="#499f73"/><stop offset="0.6957" stop-color="#4a9691"/><stop offset="0.7304" stop-color="#4a88c6"/><stop offset="0.7548" stop-color="#66a1d8"/><stop offset="0.7861" stop-color="#9bd3f0"/><stop offset="0.8174" stop-color="#b2e0f5"/><stop offset="0.8626" stop-color="#e1f3fb"/><stop offset="0.8835" stop-color="#feffff"/><stop offset="1.0000" stop-color="#ffffff"/></linearGradient>
<linearGradient id="g142" gradientUnits="userSpaceOnUse" x1="127.00" x2="702.00" y1="0" y2="0"><stop offset="0.0000" stop-color="#f0672a"/><stop offset="0.1287" stop-color="#f6a242"/><stop offset="0.2330" stop-color="#f8cc51"/><stop offset="0.3304" stop-color="#f9de57"/><stop offset="0.4487" stop-color="#f7e55a"/><stop offset="0.4696" stop-color="#f0e359"/><stop offset="0.5252" stop-color="#c0d854"/><stop offset="0.5565" stop-color="#a0ce4f"/><stop offset="0.5809" stop-color="#7ec44a"/><stop offset="0.6191" stop-color="#62bc49"/><stop offset="0.6400" stop-color="#4ab54a"/><stop offset="0.6748" stop-color="#499f73"/><stop offset="0.6957" stop-color="#4a9691"/><stop offset="0.7304" stop-color="#4a88c7"/><stop offset="0.7583" stop-color="#6ea8dc"/><stop offset="0.7861" stop-color="#9bd3f0"/><stop offset="0.8139" stop-color="#b1e0f5"/><stop offset="0.8452" stop-color="#cfecf9"/><stop offset="0.8835" stop-color="#ffffff"/><stop offset="1.0000" stop-color="#ffffff"/></linearGradient>
<linearGradient id="g143" gradientUnits="userSpaceOnUse" x1="127.00" x2="702.00" y1="0" y2="0"><stop offset="0.0000" stop-color="#f1672a"/><stop offset="0.1287" stop-color="#f6a243"/><stop offset="0.2330" stop-color="#f8cc51"/><stop offset="0.3304" stop-color="#f9de58"/><stop offset="0.4487" stop-color="#f6e55a"/><stop offset="0.4696" stop-color="#efe359"/><stop offset="0.5287" stop-color="#bdd754"/><stop offset="0.5565" stop-color="#a0ce4f"/><stop offset="0.5809" stop-color="#7ec44a"/><stop offset="0.6191" stop-color="#62bc49"/><stop offset="0.6400" stop-color="#4ab54a"/><stop offset="0.6748" stop-color="#499f73"/><stop offset="0.6957" stop-color="#4a9691"/><stop offset="0.7304" stop-color="#4a88c8"/><stop offset="0.7478" stop-color="#619cd5"/><stop offset="0.7652" stop-color="#79b4e2"/><stop offset="0.7896" stop-color="#9fd6f2"/><stop offset="0.8278" stop-color="#bee5f7"/><stop offset="0.8835" stop-color="#ffffff"/><stop offset="1.0000" stop-color="#ffffff"/></linearGradient>
<linearGradient id="g144" gradientUnits="userSpaceOnUse" x1="127.00" x2="702.00" y1="0" y2="0"><stop offset="0.0000" stop-color="#f1672a"/><stop offset="0.1287" stop-color="#f6a343"/><stop offset="0.2330" stop-color="#f8cd51"/><stop offset="0.3304" stop-color="#f9df58"/><stop offset="0.4452" stop-color="#f7e55a"/><stop offset="0.4696" stop-color="#efe359"/><stop offset="0.5287" stop-color="#bcd754"/><stop offset="0.5565" stop-color="#a0ce4f"/><stop offset="0.5809" stop-color="#7ec44a"/><stop offset="0.6226" stop-color="#5dbb49"/><stop offset="0.6400" stop-color="#4ab54a"/><stop offset="0.6748" stop-color="#499f73"/><stop offset="0.6957" stop-color="#4a9692"/><stop offset="0.7304" stop-color="#4b89c9"/><stop offset="0.7478" stop-color="#629ed6"/><stop offset="0.7722" stop-color="#84bfe8"/><stop offset="0.7896" stop-color="#9fd6f2"/><stop offset="0.8278" stop-color="#c1e6f7"/><stop offset="0.8800" stop-color="#ffffff"/><stop offset="1.0000" stop-color="#ffffff"/></linearGradient>
<linearGradient id="g145" gradientUnits="userSpaceOnUse" x1="127.00" x2="702.00" y1="0" y2="0"><stop offset="0.0000" stop-color="#f1672a"/><stop offset="0.1287" stop-color="#f6a343"/><stop offset="0.2330" stop-color="#f8cd51"/><stop offset="0.3304" stop-color="#f9df58"/><stop offset="0.4452" stop-color="#f6e55a"/><stop offset="0.4696" stop-color="#eee359"/><stop offset="0.5287" stop-color="#bcd754"/><stop offset="0.5565" stop-color="#a0ce4f"/><stop offset="0.5843" stop-color="#7bc34a"/><stop offset="0.6226" stop-color="#5dbb49"/><stop offset="0.6400" stop-color="#4ab54a"/><stop offset="0.6748" stop-color="#499f73"/><stop offset="0.6922" stop-color="#4a978c"/><stop offset="0.7304" stop-color="#4c8ac9"/><stop offset="0.7478" stop-color="#649fd7"/><stop offset="0.7826" stop-color="#95ceef"/><stop offset="0.7965" stop-color="#a6dbf3"/><stop offset="0.8278" stop-color="#c4e7f8"/><stop offset="0.8765" stop-color="#feffff"/><stop offset="1.0000" stop-color="#ffffff"/></linearGradient>
<linearGradient id="g146" gradientUnits="userSpaceOnUse" x1="127.00" x2="702.00" y1="0" y2="0"><stop offset="0.0000" stop-color="#f1682a"/><stop offset="0.1287" stop-color="#f6a343"/><stop offset="0.2330" stop-color="#f8cd51"/><stop offset="0.3304" stop-color="#f9e058"/><stop offset="0.4417" stop-color="#f6e55a"/><stop offset="0.4696" stop-color="#eee359"/><stop offset="0.5322" stop-color="#b9d653"/><stop offset="0.5565" stop-color="#a0ce4f"/><stop offset="0.5843" stop-color="#7bc34a"/><stop offset="0.6226" stop-color="#5cba49"/><stop offset="0.6400" stop-color="#4ab54b"/><stop offset="0.6748" stop-color="#499f73"/><stop offset="0.6922" stop-color="#4a978c"/><stop offset="0.7270" stop-color="#4a89c5"/><stop offset="0.7513" stop-color="#6aa4da"/><stop offset="0.7826" stop-color="#95ceef"/><stop offset="0.8000" stop-color="#aaddf4"/><stop offset="0.8278" stop-color="#c6e9f8"/><stop offset="0.8626" stop-color="#f4fafe"/><stop offset="0.8765" stop-color="#ffffff"/><stop offset="1.0000" stop-color="#ffffff"/></linearGradient>
<linearGradient id="g147" gradientUnits="userSpaceOnUse" x1="127.00" x2="702.00" y1="0" y2="0"><stop offset="0.0000" stop-color="#f1682a"/><stop offset="0.1287" stop-color="#f6a343"/><stop offset="0.2330" stop-color="#f8cd51"/><stop offset="0.3304" stop-color="#f9e058"/><stop offset="0.4417" stop-color="#f6e55a"/><stop offset="0.4696" stop-color="#ede359"/><stop offset="0.5357" stop-color="#b5d452"/><stop offset="0.5565" stop-color="#a0ce4f"/><stop offset="0.5843" stop-color="#7ac34a"/><stop offset="0.6261" stop-color="#58b949"/><stop offset="0.6400" stop-color="#4ab44b"/><stop offset="0.6748" stop-color="#499f73"/><stop offset="0.6922" stop-color="#4a978c"/><stop offset="0.7270" stop-color="#4a88c6"/><stop offset="0.7478" stop-color="#68a3d9"/><stop offset="0.7791" stop-color="#8fcaed"/><stop offset="0.7965" stop-color="#a7dcf4"/><stop offset="0.8278" stop-color="#c9eaf8"/><stop offset="0.8626" stop-color="#f8fcfe"/><stop offset="0.8765" stop-color="#ffffff"/><stop offset="1.0000" stop-color="#ffffff"/></linearGradient>
<linearGradient id="g148" gradientUnits="userSpaceOnUse" x1="127.00" x2="702.00" y1="0" y2="0"><stop offset="0.0000" stop-color="#f1682a"/><stop offset="0.1287" stop-color="#f6a343"/><stop offset="0.2330" stop-color="#f8cd51"/><stop offset="0.3304" stop-color="#f9e058"/><stop offset="0.4383" stop-color="#f6e55a"/><stop offset="0.4696" stop-color="#ede359"/><stop offset="0.5426" stop-color="#afd251"/><stop offset="0.5600" stop-color="#9bcc4e"/><stop offset="0.5843" stop-color="#7ac34a"/><stop offset="0.6296" stop-color="#53b849"/><stop offset="0.6435" stop-color="#4ab24e"/><stop offset="0.6748" stop-color="#499f73"/><stop offset="0.6922" stop-color="#4a978c"/><stop offset="0.7270" stop-color="#4a88c7"/><stop offset="0.7478" stop-color="#68a3d9"/><stop offset="0.7791" stop-color="#8fcaed"/><stop offset="0.7965" stop-color="#a8dcf4"/><stop offset="0.8278" stop-color="#cbeaf9"/><stop offset="0.8626" stop-color="#f9fcfe"/><stop offset="0.8730" stop-color="#ffffff"/><stop offset="1.0000" stop-color="#ffffff"/></linearGradient>
<linearGradient id="g149" gradientUnits="userSpaceOnUse" x1="127.00" x2="702.00" y1="0" y2="0"><stop offset="0.0000" stop-color="#f1682a"/><stop offset="0.1287" stop-color="#f6a343"/><stop offset="0.2365" stop-color="#f8cf52"/><stop offset="0.3339" stop-color="#f9e158"/><stop offset="0.4417" stop-color="#f6e45a"/><stop offset="0.4696" stop-color="#ede359"/><stop offset="0.5461" stop-color="#acd151"/><stop offset="0.5878" stop-color="#77c249"/><stop offset="0.6330" stop-color="#4fb74a"/><stop offset="0.6435" stop-color="#4ab24e"/><stop offset="0.6748" stop-color="#499f73"/><stop offset="0.6922" stop-color="#4a978c"/><stop offset="0.7270" stop-color="#4a88c7"/><stop offset="0.7478" stop-color="#68a3d9"/><stop offset="0.7791" stop-color="#8fcaed"/><stop offset="0.8000" stop-color="#acdef5"/><stop offset="0.8383" stop-color="#dbf1fb"/><stop offset="0.8661" stop-color="#fdfeff"/><stop offset="1.0000" stop-color="#ffffff"/></linearGradient>
<linearGradient id="g150" gradientUnits="userSpaceOnUse" x1="127.00" x2="702.00" y1="0" y2="0"><stop offset="0.0000" stop-color="#f1692a"/><stop offset="0.1287" stop-color="#f6a343"/><stop offset="0.2365" stop-color="#f8cf52"/><stop offset="0.3339" stop-color="#f9e159"/><stop offset="0.4417" stop-color="#f5e45a"/><stop offset="0.4696" stop-color="#ede359"/><stop offset="0.4835" stop-color="#e0e159"/><stop offset="0.5530" stop-color="#a5cf50"/><stop offset="0.5843" stop-color="#7ac34a"/><stop offset="0.6400" stop-color="#4ab44b"/><stop offset="0.6643" stop-color="#48a367"/><stop offset="0.6887" stop-color="#4a9886"/><stop offset="0.7270" stop-color="#4a88c7"/><stop offset="0.7478" stop-color="#68a3d9"/><stop offset="0.7791" stop-color="#8fcaed"/><stop offset="0.8000" stop-color="#addef5"/><stop offset="0.8661" stop-color="#fefeff"/><stop offset="1.0000" stop-color="#ffffff"/></linearGradient>
<linearGradient id="g151" gradientUnits="userSpaceOnUse" x1="127.00" x2="702.00" y1="0" y2="0"><stop offset="0.0000" stop-color="#f1692a"/><stop offset="0.1287" stop-color="#f6a343"/><stop offset="0.2365" stop-color="#f8cf52"/><stop offset="0.3339" stop-color="#f9e159"/><stop offset="0.4417" stop-color="#f5e45a"/><stop offset="0.4696" stop-color="#ece359"/><stop offset="0.4800" stop-color="#e2e159"/><stop offset="0.5530" stop-color="#a5cf50"/><stop offset="0.5843" stop-color="#7ac349"/><stop offset="0.6400" stop-color="#4ab44c"/><stop offset="0.6609" stop-color="#48a562"/><stop offset="0.6887" stop-color="#4a9886"/><stop offset="0.7270" stop-color="#4a88c7"/><stop offset="0.7478" stop-color="#68a3d9"/><stop offset="0.7826" stop-color="#95cfef"/><stop offset="0.8035" stop-color="#b2e0f5"/><stop offset="0.8661" stop-color="#ffffff"/><stop offset="1.0000" stop-color="#ffffff"/></linearGradient>
<linearGradient id="g152" gradientUnits="userSpaceOnUse" x1="127.00" x2="702.00" y1="0" y2="0"><stop offset="0.0000" stop-color="#f1692a"/><stop offset="0.1322" stop-color="#f6a544"/><stop offset="0.2365" stop-color="#f8cf52"/><stop offset="0.3339" stop-color="#f9e259"/><stop offset="0.4417" stop-color="#f5e45a"/><stop offset="0.4696" stop-color="#ece359"/><stop offset="0.4800" stop-color="#e1e159"/><stop offset="0.5530" stop-color="#a5cf50"/><stop offset="0.5878" stop-color="#76c249"/><stop offset="0.6400" stop-color="#4ab44c"/><stop offset="0.6609" stop-color="#48a562"/><stop offset="0.6887" stop-color="#4a9886"/><stop offset="0.7270" stop-color="#4a88c7"/><stop offset="0.7478" stop-color="#68a3d9"/><stop offset="0.7826" stop-color="#95cfef"/><stop offset="0.8000" stop-color="#afdff5"/><stop offset="0.8661" stop-color="#ffffff"/><stop offset="1.0000" stop-color="#ffffff"/></linearGradient>
<linearGradient id="g153" gradientUnits="userSpaceOnUse" x1="127.00" x2="702.00" y1="0" y2="0"><stop offset="0.0000" stop-color="#f1692a"/><stop offset="0.1322" stop-color="#f6a544"/><stop offset="0.2365" stop-color="#f8cf52"/><stop offset="0.3339" stop-color="#f9e259"/><stop offset="0.4452" stop-color="#f4e45a"/><stop offset="0.4696" stop-color="#ece359"/><stop offset="0.4765" stop-color="#e1e159"/><stop offset="0.5530" stop-color="#a5cf50"/><stop offset="0.5878" stop-color="#75c249"/><stop offset="0.6400" stop-color="#4ab44c"/><stop offset="0.6609" stop-color="#48a562"/><stop offset="0.6887" stop-color="#4a9886"/><stop offset="0.7270" stop-color="#4a88c7"/><stop offset="0.7478" stop-color="#68a3d9"/><stop offset="0.7826" stop-color="#95cfef"/><stop offset="0.8000" stop-color="#afdff5"/><stop offset="0.8661" stop-color="#ffffff"/><stop offset="1.0000" stop-color="#ffffff"/></linearGradient>
<linearGradient id="g154" gradientUnits="userSpaceOnUse" x1="127.00" x2="702.00" y1="0" y2="0"><stop offset="0.0000" stop-color="#f1692a"/><stop offset="0.1322" stop-color="#f6a544"/><stop offset="0.2365" stop-color="#f8d052"/><stop offset="0.3339" stop-color="#f9e259"/><stop offset="0.4452" stop-color="#f4e45a"/><stop offset="0.4696" stop-color="#ece359"/><stop offset="0.4765" stop-color="#e1e159"/><stop offset="0.5530" stop-color="#a5cf50"/><stop offset="0.5878" stop-color="#75c249"/><stop offset="0.6400" stop-color="#4ab44c"/><stop offset="0.6609" stop-color="#48a563"/><stop offset="0.6887" stop-color="#4a9886"/><stop offset="0.7270" stop-color="#4a88c7"/><stop offset="0.7478" stop-color="#68a3d9"/><stop offset="0.7826" stop-color="#95cfef"/><stop offset="0.8000" stop-color="#afdff5"/><stop offset="0.8661" stop-color="#ffffff"/><stop offset="1.0000" stop-color="#ffffff"/></linearGradient>
<linearGradient id="g155" gradientUnits="userSpaceOnUse" x1="127.00" x2="702.00" y1="0" y2="0"><stop offset="0.0000" stop-color="#f1692a"/><stop offset="0.1322" stop-color="#f6a544"/><stop offset="0.2365" stop-color="#f8d052"/><stop offset="0.3339" stop-color="#f9e259"/><stop offset="0.4452" stop-color="#f4e45a"/><stop offset="0.4696" stop-color="#ece359"/><stop offset="0.4765" stop-color="#e0e159"/><stop offset="0.5530" stop-color="#a5cf50"/><stop offset="0.5878" stop-color="#75c249"/><stop offset="0.6400" stop-color="#4ab44c"/><stop offset="0.6609" stop-color="#48a563"/><stop offset="0.6887" stop-color="#4a9886"/><stop offset="0.7270" stop-color="#4a88c7"/><stop offset="0.7478" stop-color="#68a3d9"/><stop offset="0.7826" stop-color="#95cfef"/><stop offset="0.8000" stop-color="#afdff5"/><stop offset="0.8626" stop-color="#fcfdff"/><stop offset="0.8765" stop-color="#ffffff"/><stop offset="1.0000" stop-color="#ffffff"/></linearGradient>
<linearGradient id="g156" gradientUnits="userSpaceOnUse" x1="127.00" x2="702.00" y1="0" y2="0"><stop offset="0.0000" stop-color="#f1692a"/><stop offset="0.1322" stop-color="#f6a544"/><stop offset="0.2365" stop-color="#f8d052"/><stop offset="0.3339" stop-color="#f9e359"/><stop offset="0.4452" stop-color="#f4e45a"/><stop offset="0.4696" stop-color="#ece359"/><stop offset="0.4765" stop-color="#dfe159"/><stop offset="0.5530" stop-color="#a5cf50"/><stop offset="0.5878" stop-color="#75c249"/><stop offset="0.6400" stop-color="#4ab44c"/><stop offset="0.6609" stop-color="#48a563"/><stop offset="0.6887" stop-color="#4a9886"/><stop offset="0.7235" stop-color="#4a8ac2"/><stop offset="0.7270" stop-color="#4a88c7"/><stop offset="0.7478" stop-color="#68a3d9"/><stop offset="0.7826" stop-color="#95cfef"/><stop offset="0.8000" stop-color="#afdff5"/><stop offset="0.8626" stop-color="#fcfeff"/><stop offset="0.8800" stop-color="#ffffff"/><stop offset="1.0000" stop-color="#ffffff"/></linearGradient>
<linearGradient id="g157" gradientUnits="userSpaceOnUse" x1="127.00" x2="702.00" y1="0" y2="0"><stop offset="0.0000" stop-color="#f16a2a"/><stop offset="0.1322" stop-color="#f6a544"/><stop offset="0.2365" stop-color="#f8d052"/><stop offset="0.3339" stop-color="#f9e359"/><stop offset="0.4452" stop-color="#f4e45a"/><stop offset="0.4696" stop-color="#ece359"/><stop offset="0.4730" stop-color="#e8e259"/><stop offset="0.4765" stop-color="#dee159"/><stop offset="0.5530" stop-color="#a5cf50"/><stop offset="0.5878" stop-color="#75c249"/><stop offset="0.6400" stop-color="#4ab34c"/><stop offset="0.6609" stop-color="#48a563"/><stop offset="0.6887" stop-color="#4a9886"/><stop offset="0.7200" stop-color="#4a8bbc"/><stop offset="0.7270" stop-color="#4a88c7"/><stop offset="0.7478" stop-color="#68a3d9"/><stop offset="0.7826" stop-color="#95cfef"/><stop offset="0.8000" stop-color="#afdff5"/><stop offset="0.8626" stop-color="#fcfeff"/><stop offset="0.8870" stop-color="#ffffff"/><stop offset="1.0000" stop-color="#ffffff"/></linearGradient>
<linearGradient id="g158" gradientUnits="userSpaceOnUse" x1="127.00" x2="702.00" y1="0" y2="0"><stop offset="0.0000" stop-color="#f26a2a"/><stop offset="0.1322" stop-color="#f6a544"/><stop offset="0.2365" stop-color="#f8d052"/><stop offset="0.3339" stop-color="#f9e359"/><stop offset="0.4487" stop-color="#f3e45a"/><stop offset="0.4696" stop-color="#ece359"/><stop offset="0.4730" stop-color="#e7e259"/><stop offset="0.4765" stop-color="#dee159"/><stop offset="0.5530" stop-color="#a5cf50"/><stop offset="0.5878" stop-color="#75c249"/><stop offset="0.6400" stop-color="#4ab34c"/><stop offset="0.6643" stop-color="#48a367"/><stop offset="0.6887" stop-color="#4a9886"/><stop offset="0.7165" stop-color="#4a8cb7"/><stop offset="0.7270" stop-color="#4a88c7"/><stop offset="0.7478" stop-color="#68a3d9"/><stop offset="0.7826" stop-color="#95cfef"/><stop offset="0.8000" stop-color="#afdff5"/><stop offset="0.8626" stop-color="#fcfeff"/><stop offset="0.9009" stop-color="#ffffff"/><stop offset="1.0000" stop-color="#ffffff"/></linearGradient>
<linearGradient id="g159" gradientUnits="userSpaceOnUse" x1="127.00" x2="702.00" y1="0" y2="0"><stop offset="0.0000" stop-color="#f26a2a"/><stop offset="0.1322" stop-color="#f6a544"/><stop offset="0.2365" stop-color="#f8d052"/><stop offset="0.3339" stop-color="#f9e359"/><stop offset="0.4487" stop-color="#f3e45a"/><stop offset="0.4696" stop-color="#ebe359"/><stop offset="0.4730" stop-color="#e7e259"/><stop offset="0.4765" stop-color="#dee159"/><stop offset="0.5530" stop-color="#a5cf50"/><stop offset="0.5878" stop-color="#75c249"/><stop offset="0.6365" stop-color="#4ab54a"/><stop offset="0.6574" stop-color="#48a85e"/><stop offset="0.6887" stop-color="#4a9887"/><stop offset="0.7130" stop-color="#4a8eb1"/><stop offset="0.7270" stop-color="#4a88c8"/><stop offset="0.7478" stop-color="#68a2d9"/><stop offset="0.7826" stop-color="#95cfef"/><stop offset="0.8000" stop-color="#afdff5"/><stop offset="0.8626" stop-color="#fcfeff"/><stop offset="0.9843" stop-color="#ffffff"/><stop offset="1.0000" stop-color="#ffffff"/></linearGradient>
<linearGradient id="g160" gradientUnits="userSpaceOnUse" x1="127.00" x2="702.00" y1="0" y2="0"><stop offset="0.0000" stop-color="#f26a2a"/><stop offset="0.1322" stop-color="#f6a544"/><stop offset="0.2365" stop-color="#f8d052"/><stop offset="0.3339" stop-color="#f9e359"/><stop offset="0.4487" stop-color="#f3e45a"/><stop offset="0.4696" stop-color="#ebe359"/><stop offset="0.4765" stop-color="#dee159"/><stop offset="0.5530" stop-color="#a5cf50"/><stop offset="0.5878" stop-color="#75c249"/><stop offset="0.6365" stop-color="#4ab54a"/><stop offset="0.6574" stop-color="#48a85e"/><stop offset="0.6887" stop-color="#4a9887"/><stop offset="0.7130" stop-color="#4a8eb1"/><stop offset="0.7270" stop-color="#4a88c8"/><stop offset="0.7478" stop-color="#68a2d9"/><stop offset="0.7826" stop-color="#95cfef"/><stop offset="0.8000" stop-color="#afdff5"/><stop offset="0.8626" stop-color="#fdfeff"/><stop offset="1.0000" stop-color="#ffffff"/></linearGradient>
<linearGradient id="g161" gradientUnits="userSpaceOnUse" x1="127.00" x2="702.00" y1="0" y2="0"><stop offset="0.0000" stop-color="#f26a2a"/><stop offset="0.1322" stop-color="#f6a544"/><stop offset="0.2365" stop-color="#f8d052"/><stop offset="0.3339" stop-color="#f9e359"/><stop offset="0.4487" stop-color="#f3e45a"/><stop offset="0.4696" stop-color="#ebe359"/><stop offset="0.4765" stop-color="#dee159"/><stop offset="0.5530" stop-color="#a5cf50"/><stop offset="0.5878" stop-color="#75c249"/><stop offset="0.6365" stop-color="#4ab54a"/><stop offset="0.6574" stop-color="#48a85e"/><stop offset="0.6887" stop-color="#4a9887"/><stop offset="0.7130" stop-color="#4a8eb1"/><stop offset="0.7270" stop-color="#4a88c8"/><stop offset="0.7478" stop-color="#68a2d9"/><stop offset="0.7826" stop-color="#95cfef"/><stop offset="0.8000" stop-color="#afdff5"/><stop offset="0.8626" stop-color="#fdfeff"/><stop offset="1.0000" stop-color="#ffffff"/></linearGradient>
<linearGradient id="g162" gradientUnits="userSpaceOnUse" x1="127.00" x2="702.00" y1="0" y2="0"><stop offset="0.0000" stop-color="#f26a2a"/><stop offset="0.1322" stop-color="#f6a544"/><stop offset="0.2365" stop-color="#f8d052"/><stop offset="0.3339" stop-color="#f9e359"/><stop offset="0.4487" stop-color="#f3e45a"/><stop offset="0.4696" stop-color="#ebe359"/><stop offset="0.4765" stop-color="#dee159"/><stop offset="0.5530" stop-color="#a5cf50"/><stop offset="0.5878" stop-color="#75c249"/><stop offset="0.6365" stop-color="#4ab54a"/><stop offset="0.6574" stop-color="#48a85f"/><stop offset="0.6887" stop-color="#4a9887"/><stop offset="0.7096" stop-color="#4a8fac"/><stop offset="0.7270" stop-color="#4a88c8"/><stop offset="0.7478" stop-color="#68a2d9"/><stop offset="0.7826" stop-color="#95cfef"/><stop offset="0.8000" stop-color="#afdff5"/><stop offset="0.8626" stop-color="#fdfeff"/><stop offset="1.0000" stop-color="#ffffff"/></linearGradient>
<linearGradient id="g163" gradientUnits="userSpaceOnUse" x1="127.00" x2="702.00" y1="0" y2="0"><stop offset="0.0000" stop-color="#f26a2a"/><stop offset="0.1322" stop-color="#f6a544"/><stop offset="0.2365" stop-color="#f8d052"/><stop offset="0.3339" stop-color="#f9e459"/><stop offset="0.4487" stop-color="#f3e45a"/><stop offset="0.4696" stop-color="#ebe359"/><stop offset="0.4765" stop-color="#dee159"/><stop offset="0.5530" stop-color="#a5cf50"/><stop offset="0.5878" stop-color="#75c249"/><stop offset="0.6365" stop-color="#4ab54a"/><stop offset="0.6574" stop-color="#48a85f"/><stop offset="0.6887" stop-color="#4a9887"/><stop offset="0.7096" stop-color="#4a8fac"/><stop offset="0.7270" stop-color="#4a88c8"/><stop offset="0.7478" stop-color="#68a2d9"/><stop offset="0.7826" stop-color="#95cfef"/><stop offset="0.8000" stop-color="#afdff5"/><stop offset="0.8626" stop-color="#fdfeff"/><stop offset="1.0000" stop-color="#ffffff"/></linearGradient>
<linearGradient id="g164" gradientUnits="userSpaceOnUse" x1="127.00" x2="702.00" y1="0" y2="0"><stop offset="0.0000" stop-color="#f26a2a"/><stop offset="0.1322" stop-color="#f6a644"/><stop offset="0.2365" stop-color="#f8d052"/><stop offset="0.3339" stop-color="#f9e459"/><stop offset="0.4487" stop-color="#f3e45a"/><stop offset="0.4696" stop-color="#ebe359"/><stop offset="0.4765" stop-color="#dee159"/><stop offset="0.5530" stop-color="#a5cf50"/><stop offset="0.5878" stop-color="#75c249"/><stop offset="0.6365" stop-color="#4ab54a"/><stop offset="0.6574" stop-color="#48a75f"/><stop offset="0.6887" stop-color="#4a9887"/><stop offset="0.7096" stop-color="#4a8fac"/><stop offset="0.7270" stop-color="#4a88c8"/><stop offset="0.7478" stop-color="#68a2d9"/><stop offset="0.7826" stop-color="#95cfef"/><stop offset="0.8000" stop-color="#afdff5"/><stop offset="0.8626" stop-color="#fdfeff"/><stop offset="1.0000" stop-color="#ffffff"/></linearGradient>
<linearGradient id="g165" gradientUnits="userSpaceOnUse" x1="127.00" x2="702.00" y1="0" y2="0"><stop offset="0.0000" stop-color="#f26a2a"/><stop offset="0.1322" stop-color="#f6a644"/><stop offset="0.2365" stop-color="#f8d052"/><stop offset="0.3339" stop-color="#f9e45a"/><stop offset="0.4487" stop-color="#f3e45a"/><stop offset="0.4696" stop-color="#ebe359"/><stop offset="0.4765" stop-color="#dee159"/><stop offset="0.5530" stop-color="#a5cf50"/><stop offset="0.5878" stop-color="#75c249"/><stop offset="0.6365" stop-color="#4ab54a"/><stop offset="0.6574" stop-color="#48a75f"/><stop offset="0.6852" stop-color="#4a9a80"/><stop offset="0.7096" stop-color="#4a8fad"/><stop offset="0.7270" stop-color="#4a88c8"/><stop offset="0.7478" stop-color="#68a2d8"/><stop offset="0.7826" stop-color="#95cfef"/><stop offset="0.8000" stop-color="#afdff5"/><stop offset="0.8626" stop-color="#fdfeff"/><stop offset="1.0000" stop-color="#ffffff"/></linearGradient>
<linearGradient id="g166" gradientUnits="userSpaceOnUse" x1="127.00" x2="702.00" y1="0" y2="0"><stop offset="0.0000" stop-color="#f26a2a"/><stop offset="0.1322" stop-color="#f6a644"/><stop offset="0.2365" stop-color="#f8d152"/><stop offset="0.3339" stop-color="#f9e45a"/><stop offset="0.4487" stop-color="#f3e45a"/><stop offset="0.4696" stop-color="#ebe359"/><stop offset="0.4765" stop-color="#dee159"/><stop offset="0.5530" stop-color="#a5cf50"/><stop offset="0.5878" stop-color="#75c249"/><stop offset="0.6365" stop-color="#4ab54a"/><stop offset="0.6574" stop-color="#48a75f"/><stop offset="0.6852" stop-color="#4a9a80"/><stop offset="0.7096" stop-color="#4a8fad"/><stop offset="0.7270" stop-color="#4a88c8"/><stop offset="0.7478" stop-color="#68a2d8"/><stop offset="0.7826" stop-color="#95cfef"/><stop offset="0.8000" stop-color="#afdff5"/><stop offset="0.8626" stop-color="#fefeff"/><stop offset="1.0000" stop-color="#ffffff"/></linearGradient>
<linearGradient id="g167" gradientUnits="userSpaceOnUse" x1="127.00" x2="702.00" y1="0" y2="0"><stop offset="0.0000" stop-color="#f26a2a"/><stop offset="0.1322" stop-color="#f6a644"/><stop offset="0.2365" stop-color="#f8d152"/><stop offset="0.3339" stop-color="#f9e45a"/><stop offset="0.4487" stop-color="#f3e45a"/><stop offset="0.4696" stop-color="#ebe359"/><stop offset="0.4765" stop-color="#dee159"/><stop offset="0.5530" stop-color="#a5cf50"/><stop offset="0.5878" stop-color="#75c249"/><stop offset="0.6365" stop-color="#4ab54a"/><stop offset="0.6574" stop-color="#48a75f"/><stop offset="0.6852" stop-color="#4a9a80"/><stop offset="0.7096" stop-color="#4a8fad"/><stop offset="0.7270" stop-color="#4a88c8"/><stop offset="0.7478" stop-color="#68a2d8"/><stop offset="0.7826" stop-color="#95cfef"/><stop offset="0.8000" stop-color="#afdff5"/><stop offset="0.8626" stop-color="#fefeff"/><stop offset="1.0000" stop-color="#ffffff"/></linearGradient>
<linearGradient id="g168" gradientUnits="userSpaceOnUse" x1="127.00" x2="702.00" y1="0" y2="0"><stop offset="0.0000" stop-color="#f26a2a"/><stop offset="0.1322" stop-color="#f6a644"/><stop offset="0.2365" stop-color="#f8d152"/><stop offset="0.3339" stop-color="#f9e45a"/><stop offset="0.4487" stop-color="#f3e45a"/><stop offset="0.4696" stop-color="#ebe359"/><stop offset="0.4765" stop-color="#dee159"/><stop offset="0.5530" stop-color="#a5cf50"/><stop offset="0.5878" stop-color="#75c249"/><stop offset="0.6365" stop-color="#4ab54b"/><stop offset="0.6574" stop-color="#48a75f"/><stop offset="0.6852" stop-color="#4a9a80"/><stop offset="0.7096" stop-color="#4a8fad"/><stop offset="0.7270" stop-color="#4a88c8"/><stop offset="0.7478" stop-color="#68a2d8"/><stop offset="0.7826" stop-color="#95cfef"/><stop offset="0.8000" stop-color="#afdff5"/><stop offset="0.8626" stop-color="#fefeff"/><stop offset="1.0000" stop-color="#ffffff"/></linearGradient>
<linearGradient id="g169" gradientUnits="userSpaceOnUse" x1="127.00" x2="702.00" y1="0" y2="0"><stop offset="0.0000" stop-color="#f26a2a"/><stop offset="0.1322" stop-color="#f6a644"/><stop offset="0.2365" stop-color="#f8d152"/><stop offset="0.3339" stop-color="#f9e45a"/><stop offset="0.4487" stop-color="#f3e45a"/><stop offset="0.4696" stop-color="#ebe359"/><stop offset="0.4765" stop-color="#dee159"/><stop offset="0.5530" stop-color="#a5cf50"/><stop offset="0.5878" stop-color="#75c249"/><stop offset="0.6365" stop-color="#4ab54b"/><stop offset="0.6574" stop-color="#48a75f"/><stop offset="0.6852" stop-color="#4a9a80"/><stop offset="0.7096" stop-color="#4a8fad"/><stop offset="0.7270" stop-color="#4a88c8"/><stop offset="0.7478" stop-color="#68a2d8"/><stop offset="0.7826" stop-color="#95cfef"/><stop offset="0.8000" stop-color="#afdff5"/><stop offset="0.8626" stop-color="#feffff"/><stop offset="1.0000" stop-color="#ffffff"/></linearGradient>
<linearGradient id="g170" gradientUnits="userSpaceOnUse" x1="127.00" x2="702.00" y1="0" y2="0"><stop offset="0.0000" stop-color="#f26a2a"/><stop offset="0.1322" stop-color="#f6a644"/><stop offset="0.2365" stop-color="#f8d152"/><stop offset="0.3339" stop-color="#f9e45a"/><stop offset="0.4487" stop-color="#f3e45a"/><stop offset="0.4696" stop-color="#ebe359"/><stop offset="0.4765" stop-color="#dee159"/><stop offset="0.5530" stop-color="#a5cf50"/><stop offset="0.5878" stop-color="#75c249"/><stop offset="0.6365" stop-color="#4ab54b"/><stop offset="0.6609" stop-color="#48a463"/><stop offset="0.6852" stop-color="#4a9a80"/><stop offset="0.7096" stop-color="#4a8fae"/><stop offset="0.7270" stop-color="#4b89c8"/><stop offset="0.7478" stop-color="#68a2d8"/><stop offset="0.7826" stop-color="#95cfef"/><stop offset="0.8000" stop-color="#afdff5"/><stop offset="0.8591" stop-color="#fafdfe"/><stop offset="0.8696" stop-color="#ffffff"/><stop offset="1.0000" stop-color="#ffffff"/></linearGradient>
<linearGradient id="g171" gradientUnits="userSpaceOnUse" x1="127.00" x2="702.00" y1="0" y2="0"><stop offset="0.0000" stop-color="#f26a2a"/><stop offset="0.1322" stop-color="#f6a644"/><stop offset="0.2365" stop-color="#f8d152"/><stop offset="0.3339" stop-color="#f9e45a"/><stop offset="0.4487" stop-color="#f3e45a"/><stop offset="0.4696" stop-color="#ebe359"/><stop offset="0.4765" stop-color="#dee159"/><stop offset="0.5530" stop-color="#a5cf50"/><stop offset="0.5878" stop-color="#74c249"/><stop offset="0.6365" stop-color="#4ab54b"/><stop offset="0.6609" stop-color="#48a463"/><stop offset="0.6852" stop-color="#4a9a80"/><stop offset="0.7061" stop-color="#4a90a9"/><stop offset="0.7270" stop-color="#4b89c8"/><stop offset="0.7478" stop-color="#68a2d8"/><stop offset="0.7826" stop-color="#95cfef"/><stop offset="0.8000" stop-color="#afdff5"/><stop offset="0.8591" stop-color="#fbfdfe"/><stop offset="0.8696" stop-color="#ffffff"/><stop offset="1.0000" stop-color="#ffffff"/></linearGradient>
<linearGradient id="g172" gradientUnits="userSpaceOnUse" x1="127.00" x2="702.00" y1="0" y2="0"><stop offset="0.0000" stop-color="#f26a2a"/><stop offset="0.1322" stop-color="#f6a644"/><stop offset="0.2365" stop-color="#f8d152"/><stop offset="0.3339" stop-color="#f9e45a"/><stop offset="0.4487" stop-color="#f3e45a"/><stop offset="0.4696" stop-color="#ebe359"/><stop offset="0.4765" stop-color="#dee159"/><stop offset="0.5530" stop-color="#a5cf50"/><stop offset="0.5878" stop-color="#74c249"/><stop offset="0.6365" stop-color="#4ab44b"/><stop offset="0.6609" stop-color="#48a464"/><stop offset="0.6852" stop-color="#4a9a80"/><stop offset="0.7061" stop-color="#4a90aa"/><stop offset="0.7270" stop-color="#4b89c8"/><stop offset="0.7478" stop-color="#68a2d8"/><stop offset="0.7826" stop-color="#95cfef"/><stop offset="0.8000" stop-color="#b0dff5"/><stop offset="0.8591" stop-color="#fbfdfe"/><stop offset="0.8696" stop-color="#ffffff"/><stop offset="1.0000" stop-color="#ffffff"/></linearGradient>
<linearGradient id="g173" gradientUnits="userSpaceOnUse" x1="127.00" x2="702.00" y1="0" y2="0"><stop offset="0.0000" stop-color="#f26b2a"/><stop offset="0.1322" stop-color="#f6a644"/><stop offset="0.2365" stop-color="#f8d152"/><stop offset="0.3339" stop-color="#f9e45a"/><stop offset="0.4487" stop-color="#f3e45a"/><stop offset="0.4696" stop-color="#ebe359"/><stop offset="0.4765" stop-color="#dee159"/><stop offset="0.5530" stop-color="#a5cf50"/><stop offset="0.5878" stop-color="#74c249"/><stop offset="0.6365" stop-color="#4ab44b"/><stop offset="0.6609" stop-color="#48a464"/><stop offset="0.6852" stop-color="#4a9a80"/><stop offset="0.7061" stop-color="#4a90aa"/><stop offset="0.7270" stop-color="#4b89c8"/><stop offset="0.7478" stop-color="#68a2d8"/><stop offset="0.7826" stop-color="#95cfef"/><stop offset="0.8000" stop-color="#b0dff5"/><stop offset="0.8591" stop-color="#fbfdff"/><stop offset="0.8696" stop-color="#ffffff"/><stop offset="1.0000" stop-color="#ffffff"/></linearGradient>
<linearGradient id="g174" gradientUnits="userSpaceOnUse" x1="127.00" x2="702.00" y1="0" y2="0"><stop offset="0.0000" stop-color="#f26b2a"/><stop offset="0.1357" stop-color="#f6a745"/><stop offset="0.2365" stop-color="#f8d152"/><stop offset="0.3339" stop-color="#f9e45a"/><stop offset="0.4487" stop-color="#f3e45a"/><stop offset="0.4696" stop-color="#ebe359"/><stop offset="0.4765" stop-color="#dee159"/><stop offset="0.5530" stop-color="#a5cf50"/><stop offset="0.5878" stop-color="#74c149"/><stop offset="0.6365" stop-color="#4ab44b"/><stop offset="0.6609" stop-color="#48a464"/><stop offset="0.6852" stop-color="#4a9a80"/><stop offset="0.7061" stop-color="#4a90aa"/><stop offset="0.7270" stop-color="#4b89c9"/><stop offset="0.7478" stop-color="#67a2d8"/><stop offset="0.7826" stop-color="#95cfef"/><stop offset="0.8000" stop-color="#b0dff5"/><stop offset="0.8591" stop-color="#fbfdff"/><stop offset="0.8696" stop-color="#ffffff"/><stop offset="1.0000" stop-color="#ffffff"/></linearGradient>
<linearGradient id="g175" gradientUnits="userSpaceOnUse" x1="127.00" x2="702.00" y1="0" y2="0"><stop offset="0.0000" stop-color="#f26b2a"/><stop offset="0.1357" stop-color="#f6a745"/><stop offset="0.2365" stop-color="#f8d152"/><stop offset="0.3339" stop-color="#f9e45a"/><stop offset="0.4487" stop-color="#f3e45a"/><stop offset="0.4696" stop-color="#ebe359"/><stop offset="0.4765" stop-color="#dee159"/><stop offset="0.5530" stop-color="#a5cf50"/><stop offset="0.5878" stop-color="#74c149"/><stop offset="0.6365" stop-color="#4ab44b"/><stop offset="0.6609" stop-color="#48a464"/><stop offset="0.6852" stop-color="#4a9a80"/><stop offset="0.7061" stop-color="#4a8faa"/><stop offset="0.7270" stop-color="#4b89c9"/><stop offset="0.7478" stop-color="#67a2d8"/><stop offset="0.7826" stop-color="#95cfef"/><stop offset="0.8000" stop-color="#b0dff5"/><stop offset="0.8591" stop-color="#fbfdff"/><stop offset="0.8696" stop-color="#ffffff"/><stop offset="1.0000" stop-color="#ffffff"/></linearGradient>
<linearGradient id="g176" gradientUnits="userSpaceOnUse" x1="127.00" x2="702.00" y1="0" y2="0"><stop offset="0.0000" stop-color="#f26b2a"/><stop offset="0.1357" stop-color="#f6a745"/><stop offset="0.2365" stop-color="#f8d152"/><stop offset="0.3339" stop-color="#f9e45a"/><stop offset="0.4487" stop-color="#f3e45a"/><stop offset="0.4696" stop-color="#ebe359"/><stop offset="0.4765" stop-color="#dee159"/><stop offset="0.5530" stop-color="#a5cf50"/><stop offset="0.5878" stop-color="#74c149"/><stop offset="0.6365" stop-color="#4ab44b"/><stop offset="0.6609" stop-color="#48a464"/><stop offset="0.6852" stop-color="#4a9a80"/><stop offset="0.7061" stop-color="#4a8faa"/><stop offset="0.7270" stop-color="#4b89c9"/><stop offset="0.7478" stop-color="#67a2d8"/><stop offset="0.7826" stop-color="#95cfef"/><stop offset="0.8000" stop-color="#b0dff5"/><stop offset="0.8591" stop-color="#fbfdff"/><stop offset="0.8696" stop-color="#ffffff"/><stop offset="1.0000" stop-color="#ffffff"/></linearGradient>
<linearGradient id="g177" gradientUnits="userSpaceOnUse" x1="127.00" x2="702.00" y1="0" y2="0"><stop offset="0.0000" stop-color="#f26b2a"/><stop offset="0.1357" stop-color="#f6a745"/><stop offset="0.2365" stop-color="#f8d152"/><stop offset="0.3339" stop-color="#f9e45a"/><stop offset="0.4487" stop-color="#f3e45a"/><stop offset="0.4696" stop-color="#ebe359"/><stop offset="0.4765" stop-color="#dee159"/><stop offset="0.5530" stop-color="#a5cf50"/><stop offset="0.5878" stop-color="#74c149"/><stop offset="0.6365" stop-color="#4ab44b"/><stop offset="0.6609" stop-color="#48a464"/><stop offset="0.6852" stop-color="#4a9a80"/><stop offset="0.7061" stop-color="#4a8faa"/><stop offset="0.7270" stop-color="#4b89c9"/><stop offset="0.7478" stop-color="#67a2d8"/><stop offset="0.7826" stop-color="#95cfef"/><stop offset="0.8000" stop-color="#b0dff5"/><stop offset="0.8591" stop-color="#fcfdff"/><stop offset="0.8730" stop-color="#ffffff"/><stop offset="1.0000" stop-color="#ffffff"/></linearGradient>
<linearGradient id="g178" gradientUnits="userSpaceOnUse" x1="127.00" x2="702.00" y1="0" y2="0"><stop offset="0.0000" stop-color="#f26b2a"/><stop offset="0.1357" stop-color="#f6a745"/><stop offset="0.2365" stop-color="#f8d152"/><stop offset="0.3339" stop-color="#f9e45a"/><stop offset="0.4522" stop-color="#f2e45a"/><stop offset="0.4696" stop-color="#ebe359"/><stop offset="0.4765" stop-color="#dee159"/><stop offset="0.5530" stop-color="#a5cf50"/><stop offset="0.5878" stop-color="#74c149"/><stop offset="0.6365" stop-color="#4ab44b"/><stop offset="0.6609" stop-color="#48a464"/><stop offset="0.6852" stop-color="#4a9a80"/><stop offset="0.7061" stop-color="#4a8faa"/><stop offset="0.7270" stop-color="#4b89c9"/><stop offset="0.7478" stop-color="#67a2d8"/><stop offset="0.7826" stop-color="#95cfef"/><stop offset="0.8000" stop-color="#b0dff5"/><stop offset="0.8591" stop-color="#fcfeff"/><stop offset="0.8765" stop-color="#ffffff"/><stop offset="1.0000" stop-color="#ffffff"/></linearGradient>
<linearGradient id="g179" gradientUnits="userSpaceOnUse" x1="127.00" x2="702.00" y1="0" y2="0"><stop offset="0.0000" stop-color="#f26b2a"/><stop offset="0.1357" stop-color="#f6a745"/><stop offset="0.2365" stop-color="#f8d152"/><stop offset="0.3304" stop-color="#f9e45a"/><stop offset="0.4487" stop-color="#f3e45a"/><stop offset="0.4696" stop-color="#ebe359"/><stop offset="0.4765" stop-color="#dee159"/><stop offset="0.5530" stop-color="#a5cf50"/><stop offset="0.5878" stop-color="#74c149"/><stop offset="0.6365" stop-color="#4ab44b"/><stop offset="0.6643" stop-color="#48a368"/><stop offset="0.6852" stop-color="#4a9a80"/><stop offset="0.7061" stop-color="#4a8fab"/><stop offset="0.7270" stop-color="#4b89c9"/><stop offset="0.7478" stop-color="#67a2d8"/><stop offset="0.7826" stop-color="#95cfef"/><stop offset="0.8000" stop-color="#b0dff5"/><stop offset="0.8591" stop-color="#fcfeff"/><stop offset="0.8800" stop-color="#ffffff"/><stop offset="1.0000" stop-color="#ffffff"/></linearGradient>
<linearGradient id="g180" gradientUnits="userSpaceOnUse" x1="127.00" x2="702.00" y1="0" y2="0"><stop offset="0.0000" stop-color="#f26b2a"/><stop offset="0.1357" stop-color="#f6a745"/><stop offset="0.2365" stop-color="#f8d152"/><stop offset="0.3304" stop-color="#f9e45a"/><stop offset="0.4487" stop-color="#f3e45a"/><stop offset="0.4696" stop-color="#ebe359"/><stop offset="0.4765" stop-color="#dee159"/><stop offset="0.5530" stop-color="#a5cf50"/><stop offset="0.5843" stop-color="#78c249"/><stop offset="0.6365" stop-color="#4ab44b"/><stop offset="0.6643" stop-color="#48a368"/><stop offset="0.6852" stop-color="#4a9a80"/><stop offset="0.7061" stop-color="#4a8fab"/><stop offset="0.7270" stop-color="#4c89c9"/><stop offset="0.7478" stop-color="#67a2d8"/><stop offset="0.7826" stop-color="#95cfef"/><stop offset="0.8000" stop-color="#b0dff5"/><stop offset="0.8591" stop-color="#fcfeff"/><stop offset="0.8974" stop-color="#ffffff"/><stop offset="1.0000" stop-color="#ffffff"/></linearGradient>
<linearGradient id="g181" gradientUnits="userSpaceOnUse" x1="127.00" x2="702.00" y1="0" y2="0"><stop offset="0.0000" stop-color="#f26b2a"/><stop offset="0.1357" stop-color="#f6a745"/><stop offset="0.2365" stop-color="#f8d152"/><stop offset="0.3304" stop-color="#f9e45a"/><stop offset="0.4487" stop-color="#f3e45a"/><stop offset="0.4696" stop-color="#ebe359"/><stop offset="0.4765" stop-color="#dee159"/><stop offset="0.5530" stop-color="#a5cf50"/><stop offset="0.5843" stop-color="#78c249"/><stop offset="0.6365" stop-color="#4ab44b"/><stop offset="0.6643" stop-color="#48a368"/><stop offset="0.6852" stop-color="#4a9a80"/><stop offset="0.7061" stop-color="#4a8fab"/><stop offset="0.7270" stop-color="#4c89c9"/><stop offset="0.7478" stop-color="#67a2d8"/><stop offset="0.7826" stop-color="#95cfef"/><stop offset="0.8000" stop-color="#b0dff5"/><stop offset="0.8591" stop-color="#fcfeff"/><stop offset="1.0000" stop-color="#ffffff"/></linearGradient>
<linearGradient id="g182" gradientUnits="userSpaceOnUse" x1="127.00" x2="702.00" y1="0" y2="0"><stop offset="0.0000" stop-color="#f26b2a"/><stop offset="0.1357" stop-color="#f6a745"/><stop offset="0.2365" stop-color="#f8d152"/><stop offset="0.3304" stop-color="#f9e45a"/><stop offset="0.4487" stop-color="#f3e45a"/><stop offset="0.4696" stop-color="#ebe359"/><stop offset="0.4765" stop-color="#dee159"/><stop offset="0.5530" stop-color="#a5cf50"/><stop offset="0.5843" stop-color="#78c249"/><stop offset="0.6365" stop-color="#4ab44b"/><stop offset="0.6643" stop-color="#48a368"/><stop offset="0.6852" stop-color="#4a9a80"/><stop offset="0.7061" stop-color="#4a8fab"/><stop offset="0.7270" stop-color="#4c8ac9"/><stop offset="0.7478" stop-color="#67a2d8"/><stop offset="0.7826" stop-color="#95cfef"/><stop offset="0.8000" stop-color="#b0dff5"/><stop offset="0.8591" stop-color="#fdfeff"/><stop offset="1.0000" stop-color="#ffffff"/></linearGradient>
<linearGradient id="g183" gradientUnits="userSpaceOnUse" x1="127.00" x2="702.00" y1="0" y2="0"><stop offset="0.0000" stop-color="#f26b2a"/><stop offset="0.1357" stop-color="#f6a745"/><stop offset="0.2365" stop-color="#f8d152"/><stop offset="0.3304" stop-color="#f9e45a"/><stop offset="0.4487" stop-color="#f3e45a"/><stop offset="0.4696" stop-color="#ebe359"/><stop offset="0.4765" stop-color="#dee159"/><stop offset="0.5530" stop-color="#a5cf50"/><stop offset="0.5843" stop-color="#78c249"/><stop offset="0.6365" stop-color="#4ab44c"/><stop offset="0.6643" stop-color="#48a368"/><stop offset="0.6852" stop-color="#4a9a80"/><stop offset="0.7061" stop-color="#4a8fab"/><stop offset="0.7270" stop-color="#4c8ac9"/><stop offset="0.7478" stop-color="#67a2d8"/><stop offset="0.7826" stop-color="#95cfef"/><stop offset="0.8000" stop-color="#b0dff5"/><stop offset="0.8591" stop-color="#fdfeff"/><stop offset="1.0000" stop-color="#ffffff"/></linearGradient>
<linearGradient id="g184" gradientUnits="userSpaceOnUse" x1="127.00" x2="702.00" y1="0" y2="0"><stop offset="0.0000" stop-color="#f26b2a"/><stop offset="0.1357" stop-color="#f6a745"/><stop offset="0.2365" stop-color="#f8d152"/><stop offset="0.3304" stop-color="#f9e45a"/><stop offset="0.4487" stop-color="#f3e45a"/><stop offset="0.4696" stop-color="#ebe359"/><stop offset="0.4765" stop-color="#dee159"/><stop offset="0.5530" stop-color="#a5cf50"/><stop offset="0.5843" stop-color="#78c249"/><stop offset="0.6365" stop-color="#4ab44c"/><stop offset="0.6643" stop-color="#48a368"/><stop offset="0.6852" stop-color="#4a9a81"/><stop offset="0.7061" stop-color="#4a8fab"/><stop offset="0.7270" stop-color="#4c8ac9"/><stop offset="0.7478" stop-color="#67a2d8"/><stop offset="0.7826" stop-color="#95cfef"/><stop offset="0.8000" stop-color="#b0dff5"/><stop offset="0.8591" stop-color="#fdfeff"/><stop offset="1.0000" stop-color="#ffffff"/></linearGradient>
<linearGradient id="g185" gradientUnits="userSpaceOnUse" x1="127.00" x2="702.00" y1="0" y2="0"><stop offset="0.0000" stop-color="#f26b2a"/><stop offset="0.1357" stop-color="#f6a745"/><stop offset="0.2365" stop-color="#f8d152"/><stop offset="0.3304" stop-color="#f9e45a"/><stop offset="0.4487" stop-color="#f3e45a"/><stop offset="0.4696" stop-color="#ebe359"/><stop offset="0.4765" stop-color="#dee159"/><stop offset="0.5530" stop-color="#a5cf50"/><stop offset="0.5843" stop-color="#78c249"/><stop offset="0.6365" stop-color="#4ab44c"/><stop offset="0.6678" stop-color="#49a16c"/><stop offset="0.6852" stop-color="#4a9a81"/><stop offset="0.7061" stop-color="#4a8fac"/><stop offset="0.7270" stop-color="#4c8ac9"/><stop offset="0.7478" stop-color="#67a2d8"/><stop offset="0.7826" stop-color="#95cfef"/><stop offset="0.8000" stop-color="#b0dff5"/><stop offset="0.8591" stop-color="#fdfeff"/><stop offset="1.0000" stop-color="#ffffff"/></linearGradient>
<linearGradient id="g186" gradientUnits="userSpaceOnUse" x1="127.00" x2="702.00" y1="0" y2="0"><stop offset="0.0000" stop-color="#f26b2a"/><stop offset="0.1357" stop-color="#f6a745"/><stop offset="0.2365" stop-color="#f8d152"/><stop offset="0.3304" stop-color="#f9e45a"/><stop offset="0.4487" stop-color="#f3e45a"/><stop offset="0.4696" stop-color="#ebe359"/><stop offset="0.4765" stop-color="#dee159"/><stop offset="0.5530" stop-color="#a5cf50"/><stop offset="0.5843" stop-color="#77c249"/><stop offset="0.6365" stop-color="#4ab44c"/><stop offset="0.6678" stop-color="#49a16c"/><stop offset="0.6852" stop-color="#4a9a81"/><stop offset="0.7061" stop-color="#4a8fac"/><stop offset="0.7270" stop-color="#4c8ac9"/><stop offset="0.7478" stop-color="#67a2d8"/><stop offset="0.7826" stop-color="#95cfef"/><stop offset="0.8000" stop-color="#b0dff5"/><stop offset="0.8591" stop-color="#fdfeff"/><stop offset="1.0000" stop-color="#ffffff"/></linearGradient>
<linearGradient id="g187" gradientUnits="userSpaceOnUse" x1="127.00" x2="702.00" y1="0" y2="0"><stop offset="0.0000" stop-color="#f26b2a"/><stop offset="0.1357" stop-color="#f6a745"/><stop offset="0.2365" stop-color="#f8d152"/><stop offset="0.3304" stop-color="#f9e45a"/><stop offset="0.4487" stop-color="#f3e45a"/><stop offset="0.4696" stop-color="#ebe359"/><stop offset="0.4765" stop-color="#dee159"/><stop offset="0.5530" stop-color="#a5cf50"/><stop offset="0.5843" stop-color="#77c249"/><stop offset="0.6365" stop-color="#4ab44c"/><stop offset="0.6678" stop-color="#49a16c"/><stop offset="0.6852" stop-color="#4a9a81"/><stop offset="0.7061" stop-color="#4a8fac"/><stop offset="0.7270" stop-color="#4c8ac9"/><stop offset="0.7513" stop-color="#6ba5da"/><stop offset="0.7861" stop-color="#9bd3f0"/><stop offset="0.8070" stop-color="#bae3f6"/><stop offset="0.8591" stop-color="#fefeff"/><stop offset="1.0000" stop-color="#ffffff"/></linearGradient>
<linearGradient id="g188" gradientUnits="userSpaceOnUse" x1="127.00" x2="702.00" y1="0" y2="0"><stop offset="0.0000" stop-color="#f26b2a"/><stop offset="0.1357" stop-color="#f6a745"/><stop offset="0.2365" stop-color="#f8d152"/><stop offset="0.3304" stop-color="#f9e55a"/><stop offset="0.4487" stop-color="#f3e45a"/><stop offset="0.4696" stop-color="#ebe359"/><stop offset="0.4765" stop-color="#dee159"/><stop offset="0.5530" stop-color="#a5cf50"/><stop offset="0.5843" stop-color="#77c249"/><stop offset="0.6365" stop-color="#4ab44c"/><stop offset="0.6678" stop-color="#49a16c"/><stop offset="0.6852" stop-color="#4a9a81"/><stop offset="0.7061" stop-color="#4a8fac"/><stop offset="0.7270" stop-color="#4c8ac9"/><stop offset="0.7513" stop-color="#6ba5da"/><stop offset="0.7861" stop-color="#9bd3f0"/><stop offset="0.8070" stop-color="#bae3f6"/><stop offset="0.8591" stop-color="#fefeff"/><stop offset="1.0000" stop-color="#ffffff"/></linearGradient>
<linearGradient id="g189" gradientUnits="userSpaceOnUse" x1="127.00" x2="702.00" y1="0" y2="0"><stop offset="0.0000" stop-color="#f26b2a"/><stop offset="0.1357" stop-color="#f6a745"/><stop offset="0.2365" stop-color="#f8d152"/><stop offset="0.3304" stop-color="#f9e55a"/><stop offset="0.4487" stop-color="#f3e45a"/><stop offset="0.4696" stop-color="#ebe359"/><stop offset="0.4765" stop-color="#dee159"/><stop offset="0.5530" stop-color="#a5cf50"/><stop offset="0.5843" stop-color="#77c249"/><stop offset="0.6365" stop-color="#4ab44c"/><stop offset="0.6713" stop-color="#49a070"/><stop offset="0.6852" stop-color="#4a9a81"/><stop offset="0.7061" stop-color="#4a8fac"/><stop offset="0.7270" stop-color="#4c8ac9"/><stop offset="0.7513" stop-color="#6ba5da"/><stop offset="0.7861" stop-color="#9bd3f0"/><stop offset="0.8070" stop-color="#bae3f6"/><stop offset="0.8591" stop-color="#feffff"/><stop offset="1.0000" stop-color="#ffffff"/></linearGradient>
<linearGradient id="g190" gradientUnits="userSpaceOnUse" x1="127.00" x2="702.00" y1="0" y2="0"><stop offset="0.0000" stop-color="#f26b2a"/><stop offset="0.1357" stop-color="#f6a745"/><stop offset="0.2365" stop-color="#f8d152"/><stop offset="0.3304" stop-color="#f9e55a"/><stop offset="0.4522" stop-color="#f2e45a"/><stop offset="0.4696" stop-color="#ebe359"/><stop offset="0.4765" stop-color="#dee159"/><stop offset="0.5530" stop-color="#a5cf50"/><stop offset="0.5843" stop-color="#77c249"/><stop offset="0.6365" stop-color="#4ab44c"/><stop offset="0.6713" stop-color="#49a070"/><stop offset="0.6852" stop-color="#4a9a81"/><stop offset="0.7061" stop-color="#4a8fac"/><stop offset="0.7270" stop-color="#4d8ac9"/><stop offset="0.7652" stop-color="#7cb7e4"/><stop offset="0.7965" stop-color="#abddf4"/><stop offset="0.8557" stop-color="#fafdfe"/><stop offset="0.8661" stop-color="#ffffff"/><stop offset="1.0000" stop-color="#ffffff"/></linearGradient>
<linearGradient id="g191" gradientUnits="userSpaceOnUse" x1="127.00" x2="702.00" y1="0" y2="0"><stop offset="0.0000" stop-color="#f26b2a"/><stop offset="0.1357" stop-color="#f6a745"/><stop offset="0.2365" stop-color="#f8d152"/><stop offset="0.3304" stop-color="#f9e55a"/><stop offset="0.4522" stop-color="#f2e45a"/><stop offset="0.4696" stop-color="#ebe359"/><stop offset="0.4765" stop-color="#dee159"/><stop offset="0.5530" stop-color="#a5cf50"/><stop offset="0.5843" stop-color="#77c249"/><stop offset="0.6365" stop-color="#4ab44c"/><stop offset="0.6748" stop-color="#499e74"/><stop offset="0.6852" stop-color="#4a9a81"/><stop offset="0.7061" stop-color="#4a8fad"/><stop offset="0.7270" stop-color="#4d8ac9"/><stop offset="0.7652" stop-color="#7cb7e4"/><stop offset="0.7965" stop-color="#abddf4"/><stop offset="0.8557" stop-color="#fbfdfe"/><stop offset="0.8661" stop-color="#ffffff"/><stop offset="1.0000" stop-color="#ffffff"/></linearGradient>
<linearGradient id="g192" gradientUnits="userSpaceOnUse" x1="127.00" x2="702.00" y1="0" y2="0"><stop offset="0.0000" stop-color="#f26b2a"/><stop offset="0.1357" stop-color="#f6a745"/><stop offset="0.2365" stop-color="#f8d152"/><stop offset="0.3304" stop-color="#f9e55a"/><stop offset="0.4522" stop-color="#f2e45a"/><stop offset="0.4696" stop-color="#ebe359"/><stop offset="0.4765" stop-color="#dee159"/><stop offset="0.5530" stop-color="#a5cf50"/><stop offset="0.5843" stop-color="#77c249"/><stop offset="0.6365" stop-color="#4ab44c"/><stop offset="0.6748" stop-color="#499e74"/><stop offset="0.6852" stop-color="#4a9a81"/><stop offset="0.7061" stop-color="#4a8fad"/><stop offset="0.7235" stop-color="#4a89c6"/><stop offset="0.7617" stop-color="#78b2e1"/><stop offset="0.7930" stop-color="#a6dbf3"/><stop offset="0.8557" stop-color="#fbfdff"/><stop offset="0.8661" stop-color="#ffffff"/><stop offset="1.0000" stop-color="#ffffff"/></linearGradient>
<linearGradient id="g193" gradientUnits="userSpaceOnUse" x1="127.00" x2="702.00" y1="0" y2="0"><stop offset="0.0000" stop-color="#f26b2a"/><stop offset="0.1357" stop-color="#f6a745"/><stop offset="0.2365" stop-color="#f8d152"/><stop offset="0.3304" stop-color="#f9e55a"/><stop offset="0.4522" stop-color="#f2e45a"/><stop offset="0.4696" stop-color="#ebe359"/><stop offset="0.4765" stop-color="#dee159"/><stop offset="0.5530" stop-color="#a5cf50"/><stop offset="0.5843" stop-color="#77c249"/><stop offset="0.6365" stop-color="#4ab44c"/><stop offset="0.6748" stop-color="#499e74"/><stop offset="0.6852" stop-color="#4a9a81"/><stop offset="0.7026" stop-color="#4a90a8"/><stop offset="0.7235" stop-color="#4a89c6"/><stop offset="0.7617" stop-color="#78b2e1"/><stop offset="0.7930" stop-color="#a6dbf3"/><stop offset="0.8557" stop-color="#fbfdff"/><stop offset="0.8661" stop-color="#ffffff"/><stop offset="1.0000" stop-color="#ffffff"/></linearGradient>
<linearGradient id="g194" gradientUnits="userSpaceOnUse" x1="127.00" x2="702.00" y1="0" y2="0"><stop offset="0.0000" stop-color="#f26b2a"/><stop offset="0.1357" stop-color="#f6a745"/><stop offset="0.2365" stop-color="#f8d152"/><stop offset="0.3304" stop-color="#f9e55a"/><stop offset="0.4522" stop-color="#f2e45a"/><stop offset="0.4696" stop-color="#ebe359"/><stop offset="0.4765" stop-color="#dee159"/><stop offset="0.5496" stop-color="#a9d050"/><stop offset="0.5878" stop-color="#73c149"/><stop offset="0.6365" stop-color="#4ab34c"/><stop offset="0.6748" stop-color="#499e74"/><stop offset="0.6852" stop-color="#4a9a81"/><stop offset="0.7026" stop-color="#4a90a8"/><stop offset="0.7235" stop-color="#4a89c6"/><stop offset="0.7617" stop-color="#78b2e1"/><stop offset="0.7930" stop-color="#a6dbf3"/><stop offset="0.8557" stop-color="#fbfdff"/><stop offset="0.8661" stop-color="#ffffff"/><stop offset="1.0000" stop-color="#ffffff"/></linearGradient>
<linearGradient id="g195" gradientUnits="userSpaceOnUse" x1="127.00" x2="702.00" y1="0" y2="0"><stop offset="0.0000" stop-color="#f26b2a"/><stop offset="0.1357" stop-color="#f6a745"/><stop offset="0.2365" stop-color="#f8d152"/><stop offset="0.3304" stop-color="#f9e55a"/><stop offset="0.4522" stop-color="#f2e45a"/><stop offset="0.4696" stop-color="#ebe359"/><stop offset="0.4765" stop-color="#dee159"/><stop offset="0.5496" stop-color="#a9d050"/><stop offset="0.5878" stop-color="#73c149"/><stop offset="0.6365" stop-color="#4ab34c"/><stop offset="0.6748" stop-color="#499e74"/><stop offset="0.6852" stop-color="#4a9a81"/><stop offset="0.7026" stop-color="#4a90a8"/><stop offset="0.7235" stop-color="#4a89c6"/><stop offset="0.7617" stop-color="#78b2e1"/><stop offset="0.7930" stop-color="#a6dbf3"/><stop offset="0.8557" stop-color="#fbfdff"/><stop offset="0.8661" stop-color="#ffffff"/><stop offset="1.0000" stop-color="#ffffff"/></linearGradient>
<linearGradient id="g196" gradientUnits="userSpaceOnUse" x1="127.00" x2="702.00" y1="0" y2="0"><stop offset="0.0000" stop-color="#f26b2a"/><stop offset="0.1357" stop-color="#f6a745"/><stop offset="0.2365" stop-color="#f8d152"/><stop offset="0.3304" stop-color="#f9e55a"/><stop offset="0.4522" stop-color="#f2e45a"/><stop offset="0.4696" stop-color="#ebe359"/><stop offset="0.4765" stop-color="#dee159"/><stop offset="0.5496" stop-color="#a9d050"/><stop offset="0.5878" stop-color="#73c149"/><stop offset="0.6365" stop-color="#4ab34c"/><stop offset="0.6748" stop-color="#499e74"/><stop offset="0.6852" stop-color="#4a9a81"/><stop offset="0.7026" stop-color="#4a90a8"/><stop offset="0.7235" stop-color="#4a88c6"/><stop offset="0.7617" stop-color="#78b2e1"/><stop offset="0.7930" stop-color="#a6dbf3"/><stop offset="0.8557" stop-color="#fcfdff"/><stop offset="0.8661" stop-color="#ffffff"/><stop offset="1.0000" stop-color="#ffffff"/></linearGradient>
<linearGradient id="g197" gradientUnits="userSpaceOnUse" x1="127.00" x2="702.00" y1="0" y2="0"><stop offset="0.0000" stop-color="#f26b2a"/><stop offset="0.1357" stop-color="#f6a745"/><stop offset="0.2365" stop-color="#f8d152"/><stop offset="0.3304" stop-color="#f9e55a"/><stop offset="0.4522" stop-color="#f2e45a"/><stop offset="0.4696" stop-color="#ebe359"/><stop offset="0.4765" stop-color="#dee159"/><stop offset="0.5496" stop-color="#a9d050"/><stop offset="0.5878" stop-color="#73c149"/><stop offset="0.6365" stop-color="#4ab34d"/><stop offset="0.6748" stop-color="#499e74"/><stop offset="0.6852" stop-color="#4a9a81"/><stop offset="0.7026" stop-color="#4a90a9"/><stop offset="0.7235" stop-color="#4a88c6"/><stop offset="0.7617" stop-color="#78b2e1"/><stop offset="0.7930" stop-color="#a6dbf4"/><stop offset="0.8557" stop-color="#fcfdff"/><stop offset="0.8696" stop-color="#ffffff"/><stop offset="1.0000" stop-color="#ffffff"/></linearGradient>
<linearGradient id="g198" gradientUnits="userSpaceOnUse" x1="127.00" x2="702.00" y1="0" y2="0"><stop offset="0.0000" stop-color="#f26b2a"/><stop offset="0.1357" stop-color="#f6a745"/><stop offset="0.2365" stop-color="#f8d152"/><stop offset="0.3304" stop-color="#f9e55a"/><stop offset="0.4522" stop-color="#f2e45a"/><stop offset="0.4696" stop-color="#ebe359"/><stop offset="0.4765" stop-color="#dee159"/><stop offset="0.5496" stop-color="#a9d050"/><stop offset="0.5878" stop-color="#73c149"/><stop offset="0.6365" stop-color="#4ab34d"/><stop offset="0.6748" stop-color="#499e74"/><stop offset="0.6852" stop-color="#4a9a81"/><stop offset="0.7026" stop-color="#4a90a9"/><stop offset="0.7235" stop-color="#4a88c6"/><stop offset="0.7617" stop-color="#78b2e1"/><stop offset="0.7930" stop-color="#a6dbf4"/><stop offset="0.8557" stop-color="#fcfeff"/><stop offset="0.8730" stop-color="#ffffff"/><stop offset="1.0000" stop-color="#ffffff"/></linearGradient>
<linearGradient id="g199" gradientUnits="userSpaceOnUse" x1="127.00" x2="702.00" y1="0" y2="0"><stop offset="0.0000" stop-color="#f26b2a"/><stop offset="0.1357" stop-color="#f6a745"/><stop offset="0.2365" stop-color="#f8d152"/><stop offset="0.3304" stop-color="#f9e55a"/><stop offset="0.4522" stop-color="#f2e45a"/><stop offset="0.4696" stop-color="#ebe359"/><stop offset="0.4765" stop-color="#dee159"/><stop offset="0.5496" stop-color="#a9d050"/><stop offset="0.5878" stop-color="#73c149"/><stop offset="0.6330" stop-color="#4ab54a"/><stop offset="0.6643" stop-color="#48a269"/><stop offset="0.6852" stop-color="#4a9a81"/><stop offset="0.7026" stop-color="#4a90a9"/><stop offset="0.7235" stop-color="#4a88c6"/><stop offset="0.7617" stop-color="#78b2e1"/><stop offset="0.7930" stop-color="#a6dbf4"/><stop offset="0.8557" stop-color="#fcfeff"/><stop offset="0.8870" stop-color="#ffffff"/><stop offset="1.0000" stop-color="#ffffff"/></linearGradient>
<linearGradient id="g200" gradientUnits="userSpaceOnUse" x1="127.00" x2="702.00" y1="0" y2="0"><stop offset="0.0000" stop-color="#f26b2a"/><stop offset="0.1357" stop-color="#f6a745"/><stop offset="0.2365" stop-color="#f8d152"/><stop offset="0.3304" stop-color="#f9e55a"/><stop offset="0.4522" stop-color="#f2e45a"/><stop offset="0.4696" stop-color="#ebe359"/><stop offset="0.4765" stop-color="#dee159"/><stop offset="0.5496" stop-color="#a9d050"/><stop offset="0.5878" stop-color="#73c149"/><stop offset="0.6330" stop-color="#4ab54a"/><stop offset="0.6678" stop-color="#49a16d"/><stop offset="0.6852" stop-color="#4a9a81"/><stop offset="0.7026" stop-color="#4a90a9"/><stop offset="0.7235" stop-color="#4a88c6"/><stop offset="0.7617" stop-color="#78b2e1"/><stop offset="0.7930" stop-color="#a6dbf4"/><stop offset="0.8557" stop-color="#fcfeff"/><stop offset="0.9426" stop-color="#ffffff"/><stop offset="1.0000" stop-color="#ffffff"/></linearGradient>
<linearGradient id="g201" gradientUnits="userSpaceOnUse" x1="127.00" x2="702.00" y1="0" y2="0"><stop offset="0.0000" stop-color="#f26b2a"/><stop offset="0.1357" stop-color="#f6a745"/><stop offset="0.2365" stop-color="#f8d152"/><stop offset="0.3304" stop-color="#f9e55a"/><stop offset="0.4522" stop-color="#f2e45a"/><stop offset="0.4696" stop-color="#ebe359"/><stop offset="0.4765" stop-color="#dee159"/><stop offset="0.5496" stop-color="#a9d050"/><stop offset="0.5843" stop-color="#77c249"/><stop offset="0.6330" stop-color="#4ab54a"/><stop offset="0.6713" stop-color="#49a070"/><stop offset="0.6852" stop-color="#4a9a81"/><stop offset="0.7026" stop-color="#4a90a9"/><stop offset="0.7235" stop-color="#4a88c7"/><stop offset="0.7617" stop-color="#78b2e1"/><stop offset="0.7930" stop-color="#a6dbf4"/><stop offset="0.8557" stop-color="#fdfeff"/><stop offset="1.0000" stop-color="#ffffff"/></linearGradient>
<clipPath id="clipCL"><rect x="125.8" y="500" width="576.2" height="500"/></clipPath></defs>
<rect width="1418" height="1082" fill="#fff"/>
<rect x="124.20" y="59.80" width="579.60" height="366.00" fill="#bfbfbf"/>
<path d="M124.20,59.80h5.80M703.80,59.80h-5.80M124.20,182.00h5.80M703.80,182.00h-5.80M124.20,304.30h5.80M703.80,304.30h-5.80M124.20,425.90h5.80M703.80,425.90h-5.80M305.20,425.80v-5.80M305.20,59.80v5.80M574.00,425.80v-5.80M574.00,59.80v5.80" stroke="#262626" stroke-width="1.60" fill="none"/>
<g clip-path="url(#clipAR)"><g clip-path="url(#clipA)"><rect x="127.00" y="59.80" width="575.30" height="4.60" fill="url(#g1)"/><rect x="127.00" y="63.80" width="575.30" height="4.60" fill="url(#g2)"/><rect x="127.00" y="67.80" width="575.30" height="4.60" fill="url(#g3)"/><rect x="127.00" y="71.80" width="575.30" height="4.60" fill="url(#g4)"/><rect x="127.00" y="75.80" width="575.30" height="4.60" fill="url(#g5)"/><rect x="127.00" y="79.80" width="575.30" height="4.60" fill="url(#g6)"/><rect x="127.00" y="83.80" width="575.30" height="4.60" fill="url(#g7)"/><rect x="127.00" y="87.80" width="575.30" height="4.60" fill="url(#g8)"/><rect x="127.00" y="91.80" width="575.30" height="4.60" fill="url(#g9)"/><rect x="127.00" y="95.80" width="575.30" height="4.60" fill="url(#g10)"/><rect x="127.00" y="99.80" width="575.30" height="4.60" fill="url(#g11)"/><rect x="127.00" y="103.80" width="575.30" height="4.60" fill="url(#g12)"/><rect x="127.00" y="107.80" width="575.30" height="4.60" fill="url(#g13)"/><rect x="127.00" y="111.80" width="575.30" height="4.60" fill="url(#g14)"/><rect x="127.00" y="115.80" width="575.30" height="4.60" fill="url(#g15)"/><rect x="127.00" y="119.80" width="575.30" height="4.60" fill="url(#g16)"/><rect x="127.00" y="123.80" width="575.30" height="4.60" fill="url(#g17)"/><rect x="127.00" y="127.80" width="575.30" height="4.60" fill="url(#g18)"/><rect x="127.00" y="131.80" width="575.30" height="4.60" fill="url(#g19)"/><rect x="127.00" y="135.80" width="575.30" height="4.60" fill="url(#g20)"/><rect x="127.00" y="139.80" width="575.30" height="4.60" fill="url(#g21)"/><rect x="127.00" y="143.80" width="575.30" height="4.60" fill="url(#g22)"/><rect x="127.00" y="147.80" width="575.30" height="4.60" fill="url(#g23)"/><rect x="127.00" y="151.80" width="575.30" height="4.60" fill="url(#g24)"/><rect x="127.00" y="155.80" width="575.30" height="4.60" fill="url(#g25)"/><rect x="127.00" y="159.80" width="575.30" height="4.60" fill="url(#g26)"/><rect x="127.00" y="163.80" width="575.30" height="4.60" fill="url(#g27)"/><rect x="127.00" y="167.80" width="575.30" height="4.60" fill="url(#g28)"/><rect x="127.00" y="171.80" width="575.30" height="4.60" fill="url(#g29)"/><rect x="127.00" y="175.80" width="575.30" height="4.60" fill="url(#g30)"/><rect x="127.00" y="179.80" width="575.30" height="4.60" fill="url(#g31)"/><rect x="127.00" y="183.80" width="575.30" height="4.60" fill="url(#g32)"/><rect x="127.00" y="187.80" width="575.30" height="4.60" fill="url(#g33)"/><rect x="127.00" y="191.80" width="575.30" height="4.60" fill="url(#g34)"/><rect x="127.00" y="195.80" width="575.30" height="4.60" fill="url(#g35)"/><rect x="127.00" y="199.80" width="575.30" height="4.60" fill="url(#g36)"/><rect x="127.00" y="203.80" width="575.30" height="4.60" fill="url(#g37)"/><rect x="127.00" y="207.80" width="575.30" height="4.60" fill="url(#g38)"/><rect x="127.00" y="211.80" width="575.30" height="4.60" fill="url(#g39)"/><rect x="127.00" y="215.80" width="575.30" height="4.60" fill="url(#g40)"/><rect x="127.00" y="219.80" width="575.30" height="4.60" fill="url(#g41)"/><rect x="127.00" y="223.80" width="575.30" height="4.60" fill="url(#g42)"/><rect x="127.00" y="227.80" width="575.30" height="4.60" fill="url(#g43)"/><rect x="127.00" y="231.80" width="575.30" height="4.60" fill="url(#g44)"/><rect x="127.00" y="235.80" width="575.30" height="4.60" fill="url(#g45)"/><rect x="127.00" y="239.80" width="575.30" height="4.60" fill="url(#g46)"/><rect x="127.00" y="243.80" width="575.30" height="4.60" fill="url(#g47)"/><rect x="127.00" y="247.80" width="575.30" height="4.60" fill="url(#g48)"/><rect x="127.00" y="251.80" width="575.30" height="4.60" fill="url(#g49)"/><rect x="127.00" y="255.80" width="575.30" height="4.60" fill="url(#g50)"/><rect x="127.00" y="259.80" width="575.30" height="4.60" fill="url(#g51)"/><rect x="127.00" y="263.80" width="575.30" height="4.60" fill="url(#g52)"/><rect x="127.00" y="267.80" width="575.30" height="4.60" fill="url(#g53)"/><rect x="127.00" y="271.80" width="575.30" height="4.60" fill="url(#g54)"/><rect x="127.00" y="275.80" width="575.30" height="4.60" fill="url(#g55)"/><rect x="127.00" y="279.80" width="575.30" height="4.60" fill="url(#g56)"/><rect x="127.00" y="283.80" width="575.30" height="4.60" fill="url(#g57)"/><rect x="127.00" y="287.80" width="575.30" height="4.60" fill="url(#g58)"/><rect x="127.00" y="291.80" width="575.30" height="4.60" fill="url(#g59)"/><rect x="127.00" y="295.80" width="575.30" height="4.60" fill="url(#g60)"/><rect x="127.00" y="299.80" width="575.30" height="4.60" fill="url(#g61)"/><rect x="127.00" y="303.80" width="575.30" height="4.60" fill="url(#g62)"/><rect x="127.00" y="307.80" width="575.30" height="4.60" fill="url(#g63)"/><rect x="127.00" y="311.80" width="575.30" height="4.60" fill="url(#g64)"/><rect x="127.00" y="315.80" width="575.30" height="4.60" fill="url(#g65)"/><rect x="127.00" y="319.80" width="575.30" height="4.60" fill="url(#g66)"/><rect x="127.00" y="323.80" width="575.30" height="4.60" fill="url(#g67)"/><rect x="127.00" y="327.80" width="575.30" height="4.60" fill="url(#g68)"/><rect x="127.00" y="331.80" width="575.30" height="4.60" fill="url(#g69)"/><rect x="127.00" y="335.80" width="575.30" height="4.60" fill="url(#g70)"/><rect x="127.00" y="339.80" width="575.30" height="4.60" fill="url(#g71)"/><rect x="127.00" y="343.80" width="575.30" height="4.60" fill="url(#g72)"/><rect x="127.00" y="347.80" width="575.30" height="4.60" fill="url(#g73)"/><rect x="127.00" y="351.80" width="575.30" height="4.60" fill="url(#g74)"/><rect x="127.00" y="355.80" width="575.30" height="4.60" fill="url(#g75)"/><rect x="127.00" y="359.80" width="575.30" height="4.60" fill="url(#g76)"/><rect x="127.00" y="363.80" width="575.30" height="4.60" fill="url(#g77)"/><rect x="127.00" y="367.80" width="575.30" height="4.60" fill="url(#g78)"/><rect x="127.00" y="371.80" width="575.30" height="4.60" fill="url(#g79)"/><rect x="127.00" y="375.80" width="575.30" height="4.60" fill="url(#g80)"/><rect x="127.00" y="379.80" width="575.30" height="4.60" fill="url(#g81)"/><rect x="127.00" y="383.80" width="575.30" height="4.60" fill="url(#g82)"/><rect x="127.00" y="387.80" width="575.30" height="4.60" fill="url(#g83)"/><rect x="127.00" y="391.80" width="575.30" height="4.60" fill="url(#g84)"/><rect x="127.00" y="395.80" width="575.30" height="4.60" fill="url(#g85)"/><rect x="127.00" y="399.80" width="575.30" height="4.60" fill="url(#g86)"/><rect x="127.00" y="403.80" width="575.30" height="4.60" fill="url(#g87)"/><rect x="127.00" y="407.80" width="575.30" height="2.80" fill="url(#g88)"/></g></g>
<path d="M124.20,227.22 C128.50,228.10 141.53,230.72 150.00,232.49 C158.47,234.26 166.67,236.02 175.00,237.84 C183.33,239.66 191.67,241.53 200.00,243.43 C208.33,245.34 216.67,247.28 225.00,249.27 C233.33,251.25 241.67,253.28 250.00,255.35 C258.33,257.41 266.67,259.52 275.00,261.67 C283.33,263.81 291.67,266.00 300.00,268.23 C308.33,270.46 316.67,272.73 325.00,275.03 C333.33,277.34 341.67,279.69 350.00,282.08 C358.33,284.47 366.67,286.90 375.00,289.37 C383.33,291.84 391.67,294.35 400.00,296.90 C408.33,299.45 416.67,302.05 425.00,304.68 C433.33,307.31 441.67,309.98 450.00,312.69 C458.33,315.41 466.67,318.16 475.00,320.95 C483.33,323.75 491.67,326.58 500.00,329.46 C508.33,332.33 516.67,335.24 525.00,338.20 C533.33,341.15 541.67,344.15 550.00,347.19 C558.33,350.22 566.67,353.30 575.00,356.41 C583.33,359.53 591.67,362.69 600.00,365.89 C608.33,369.08 616.67,372.32 625.00,375.60 C633.33,378.88 641.67,382.20 650.00,385.56 C658.33,388.91 666.67,392.31 675.00,395.75 C683.33,399.19 695.20,404.19 700.00,406.19 C704.80,408.20 703.17,407.53 703.80,407.80" stroke="#000" stroke-width="2" fill="none" clip-path="url(#clipAL)"/>
<path d="M399,60.5V296.60" stroke="#0072bd" stroke-width="3.8"/>
<path d="M550.2,60.5V347.26" stroke="#ff9966" stroke-width="3.8"/>
<rect x="124.20" y="59.80" width="579.60" height="366.00" fill="none" stroke="#262626" stroke-width="1.80"/>
<text transform="translate(108.20,75.80) scale(0.900,1)" font-family="Liberation Serif" font-size="47.30" font-weight="normal" fill="#262626" text-anchor="end">0</text>
<text transform="translate(108.20,198.00) scale(0.900,1)" font-family="Liberation Serif" font-size="47.30" font-weight="normal" fill="#262626" text-anchor="end">-5</text>
<text transform="translate(108.20,320.30) scale(0.900,1)" font-family="Liberation Serif" font-size="47.30" font-weight="normal" fill="#262626" text-anchor="end">-10</text>
<text transform="translate(108.20,441.90) scale(0.900,1)" font-family="Liberation Serif" font-size="47.30" font-weight="normal" fill="#262626" text-anchor="end">-15</text>
<text transform="translate(305.20,486.00) scale(0.900,1)" font-family="Liberation Serif" font-size="47.30" font-weight="normal" fill="#262626" text-anchor="middle">120.55</text>
<text transform="translate(574.00,486.00) scale(0.900,1)" font-family="Liberation Serif" font-size="47.30" font-weight="normal" fill="#262626" text-anchor="middle">120.6</text>
<text transform="translate(31.90,244.40) rotate(-90) scale(1,0.900)" font-family="Liberation Serif" font-size="51.70" font-weight="bold" fill="#262626" text-anchor="middle">Depth(m)</text>
<text transform="translate(416.80,33.60) scale(0.920,1)" font-family="Liberation Serif" font-size="51.70" font-weight="bold" fill="#000" text-anchor="middle">Temperature</text>
<rect x="733.00" y="59.80" width="19.00" height="366.00" fill="url(#cbg)"/>
<rect x="733.00" y="59.80" width="19.00" height="366.00" fill="none" stroke="#262626" stroke-width="1.90"/>
<path d="M752,92.7h-3.6M752,259.2h-3.6" stroke="#262626" stroke-width="1.6"/>
<text transform="translate(766.20,107.70) scale(0.900,1)" font-family="Liberation Serif" font-size="44.50" font-weight="normal" fill="#262626" text-anchor="start">28</text>
<text transform="translate(766.20,274.20) scale(0.900,1)" font-family="Liberation Serif" font-size="44.50" font-weight="normal" fill="#262626" text-anchor="start">27</text>
<text transform="translate(766.20,440.80) scale(0.900,1)" font-family="Liberation Serif" font-size="44.50" font-weight="normal" fill="#262626" text-anchor="start">26</text>
<text transform="translate(745.60,39.50) scale(0.900,1)" font-family="Liberation Serif" font-size="44.70" font-weight="normal" fill="#000" text-anchor="middle">&#176;C</text>
<path d="M957.80,59.80h4.50M1403.90,59.80h-4.50M957.80,182.00h4.50M1403.90,182.00h-4.50M957.80,304.30h4.50M1403.90,304.30h-4.50M957.80,425.90h4.50M1403.90,425.90h-4.50M1060.60,425.80v-4.50M1060.60,59.80v4.50M1403.90,425.80v-4.50M1403.90,59.80v4.50" stroke="#262626" stroke-width="1.60" fill="none"/>
<path d="M997.10,63.80 L1021.70,66.50 L1042.90,68.20 L1071.10,73.50 L1087.80,80.60 L1104.60,92.00 L1120.50,105.20 L1139.90,123.80 L1159.30,143.20 L1176.90,162.50 L1194.50,183.70 L1212.10,204.00 L1228.00,222.50 L1250.00,246.50 L1269.90,266.50 L1289.90,283.10 L1309.80,296.40 L1326.50,308.90 L1341.40,322.20 L1348.90,334.70 L1352.20,346.30" stroke="#ff9966" stroke-width="3.6" fill="none" stroke-linejoin="round"/>
<path d="M1041.10,62.90 L1060.50,63.80 L1087.00,66.50 L1106.40,70.90 L1119.60,77.90 L1131.00,86.70 L1143.40,99.10 L1159.30,114.90 L1175.10,131.70 L1192.70,151.10 L1210.40,169.60 L1226.20,185.50 L1240.00,199.60 L1254.90,214.10 L1278.20,231.60 L1299.80,244.90 L1321.50,256.50 L1339.80,266.50 L1354.70,276.50 L1362.20,285.60 L1364.40,296.40" stroke="#0072bd" stroke-width="3.6" fill="none" stroke-linejoin="round"/>
<rect x="957.80" y="59.80" width="446.10" height="366.00" fill="none" stroke="#262626" stroke-width="1.80"/>
<text transform="translate(941.60,75.80) scale(0.900,1)" font-family="Liberation Serif" font-size="47.30" font-weight="normal" fill="#262626" text-anchor="end">0</text>
<text transform="translate(941.60,198.00) scale(0.900,1)" font-family="Liberation Serif" font-size="47.30" font-weight="normal" fill="#262626" text-anchor="end">-5</text>
<text transform="translate(941.60,320.30) scale(0.900,1)" font-family="Liberation Serif" font-size="47.30" font-weight="normal" fill="#262626" text-anchor="end">-10</text>
<text transform="translate(941.60,441.90) scale(0.900,1)" font-family="Liberation Serif" font-size="47.30" font-weight="normal" fill="#262626" text-anchor="end">-15</text>
<text transform="translate(1060.60,486.00) scale(0.900,1)" font-family="Liberation Serif" font-size="47.30" font-weight="normal" fill="#262626" text-anchor="middle">-4</text>
<text transform="translate(1403.90,486.00) scale(0.900,1)" font-family="Liberation Serif" font-size="47.30" font-weight="normal" fill="#262626" text-anchor="middle">-3</text>
<text transform="translate(865.80,244.20) rotate(-90) scale(1,0.900)" font-family="Liberation Serif" font-size="51.70" font-weight="bold" fill="#262626" text-anchor="middle">Depth(m)</text>
<rect x="124.20" y="553.60" width="579.50" height="366.10" fill="#bfbfbf"/>
<path d="M124.20,553.60h5.80M703.70,553.60h-5.80M124.20,620.32h5.80M703.70,620.32h-5.80M124.20,687.04h5.80M703.70,687.04h-5.80M124.20,753.76h5.80M703.70,753.76h-5.80M124.20,820.48h5.80M703.70,820.48h-5.80M124.20,887.20h5.80M703.70,887.20h-5.80M248.10,919.70v-5.80M248.10,553.60v5.80M517.10,919.70v-5.80M517.10,553.60v5.80" stroke="#262626" stroke-width="1.60" fill="none"/>
<g clip-path="url(#clipCR)"><g clip-path="url(#clipC)"><rect x="127.00" y="553.60" width="575.00" height="2.60" fill="url(#g89)"/><rect x="127.00" y="555.60" width="575.00" height="2.60" fill="url(#g90)"/><rect x="127.00" y="557.60" width="575.00" height="2.60" fill="url(#g91)"/><rect x="127.00" y="559.60" width="575.00" height="2.60" fill="url(#g92)"/><rect x="127.00" y="561.60" width="575.00" height="2.60" fill="url(#g93)"/><rect x="127.00" y="563.60" width="575.00" height="2.60" fill="url(#g94)"/><rect x="127.00" y="565.60" width="575.00" height="2.60" fill="url(#g95)"/><rect x="127.00" y="567.60" width="575.00" height="2.60" fill="url(#g96)"/><rect x="127.00" y="569.60" width="575.00" height="2.60" fill="url(#g97)"/><rect x="127.00" y="571.60" width="575.00" height="2.60" fill="url(#g98)"/><rect x="127.00" y="573.60" width="575.00" height="2.60" fill="url(#g99)"/><rect x="127.00" y="575.60" width="575.00" height="2.60" fill="url(#g100)"/><rect x="127.00" y="577.60" width="575.00" height="2.60" fill="url(#g101)"/><rect x="127.00" y="579.60" width="575.00" height="2.60" fill="url(#g102)"/><rect x="127.00" y="581.60" width="575.00" height="2.60" fill="url(#g103)"/><rect x="127.00" y="583.60" width="575.00" height="2.60" fill="url(#g104)"/><rect x="127.00" y="585.60" width="575.00" height="2.60" fill="url(#g105)"/><rect x="127.00" y="587.60" width="575.00" height="2.60" fill="url(#g106)"/><rect x="127.00" y="589.60" width="575.00" height="2.60" fill="url(#g107)"/><rect x="127.00" y="591.60" width="575.00" height="2.60" fill="url(#g108)"/><rect x="127.00" y="593.60" width="575.00" height="2.60" fill="url(#g109)"/><rect x="127.00" y="595.60" width="575.00" height="2.60" fill="url(#g110)"/><rect x="127.00" y="597.60" width="575.00" height="2.60" fill="url(#g111)"/><rect x="127.00" y="599.60" width="575.00" height="2.60" fill="url(#g112)"/><rect x="127.00" y="601.60" width="575.00" height="2.60" fill="url(#g113)"/><rect x="127.00" y="603.60" width="575.00" height="2.60" fill="url(#g114)"/><rect x="127.00" y="605.60" width="575.00" height="2.60" fill="url(#g115)"/><rect x="127.00" y="607.60" width="575.00" height="2.60" fill="url(#g116)"/><rect x="127.00" y="609.60" width="575.00" height="2.60" fill="url(#g117)"/><rect x="127.00" y="611.60" width="575.00" height="2.60" fill="url(#g118)"/><rect x="127.00" y="613.60" width="575.00" height="2.60" fill="url(#g119)"/><rect x="127.00" y="615.60" width="575.00" height="2.60" fill="url(#g120)"/><rect x="127.00" y="617.60" width="575.00" height="2.60" fill="url(#g121)"/><rect x="127.00" y="619.60" width="575.00" height="2.60" fill="url(#g122)"/><rect x="127.00" y="621.60" width="575.00" height="2.60" fill="url(#g123)"/><rect x="127.00" y="623.60" width="575.00" height="2.60" fill="url(#g124)"/><rect x="127.00" y="625.60" width="575.00" height="2.60" fill="url(#g125)"/><rect x="127.00" y="627.60" width="575.00" height="2.60" fill="url(#g126)"/><rect x="127.00" y="629.60" width="575.00" height="2.60" fill="url(#g127)"/><rect x="127.00" y="631.60" width="575.00" height="2.60" fill="url(#g128)"/><rect x="127.00" y="633.60" width="575.00" height="2.60" fill="url(#g129)"/><rect x="127.00" y="635.60" width="575.00" height="2.60" fill="url(#g130)"/><rect x="127.00" y="637.60" width="575.00" height="2.60" fill="url(#g131)"/><rect x="127.00" y="639.60" width="575.00" height="2.60" fill="url(#g132)"/><rect x="127.00" y="641.60" width="575.00" height="2.60" fill="url(#g133)"/><rect x="127.00" y="643.60" width="575.00" height="2.60" fill="url(#g134)"/><rect x="127.00" y="645.60" width="575.00" height="2.60" fill="url(#g135)"/><rect x="127.00" y="647.60" width="575.00" height="2.60" fill="url(#g136)"/><rect x="127.00" y="649.60" width="575.00" height="2.60" fill="url(#g137)"/><rect x="127.00" y="651.60" width="575.00" height="2.60" fill="url(#g138)"/><rect x="127.00" y="653.60" width="575.00" height="2.60" fill="url(#g139)"/><rect x="127.00" y="655.60" width="575.00" height="2.60" fill="url(#g140)"/><rect x="127.00" y="657.60" width="575.00" height="2.60" fill="url(#g141)"/><rect x="127.00" y="659.60" width="575.00" height="2.60" fill="url(#g142)"/><rect x="127.00" y="661.60" width="575.00" height="4.60" fill="url(#g143)"/><rect x="127.00" y="665.60" width="575.00" height="4.60" fill="url(#g144)"/><rect x="127.00" y="669.60" width="575.00" height="4.60" fill="url(#g145)"/><rect x="127.00" y="673.60" width="575.00" height="4.60" fill="url(#g146)"/><rect x="127.00" y="677.60" width="575.00" height="4.60" fill="url(#g147)"/><rect x="127.00" y="681.60" width="575.00" height="4.60" fill="url(#g148)"/><rect x="127.00" y="685.60" width="575.00" height="4.60" fill="url(#g149)"/><rect x="127.00" y="689.60" width="575.00" height="4.60" fill="url(#g150)"/><rect x="127.00" y="693.60" width="575.00" height="4.60" fill="url(#g151)"/><rect x="127.00" y="697.60" width="575.00" height="4.60" fill="url(#g152)"/><rect x="127.00" y="701.60" width="575.00" height="4.60" fill="url(#g153)"/><rect x="127.00" y="705.60" width="575.00" height="4.60" fill="url(#g154)"/><rect x="127.00" y="709.60" width="575.00" height="4.60" fill="url(#g155)"/><rect x="127.00" y="713.60" width="575.00" height="4.60" fill="url(#g156)"/><rect x="127.00" y="717.60" width="575.00" height="4.60" fill="url(#g157)"/><rect x="127.00" y="721.60" width="575.00" height="4.60" fill="url(#g158)"/><rect x="127.00" y="725.60" width="575.00" height="4.60" fill="url(#g159)"/><rect x="127.00" y="729.60" width="575.00" height="4.60" fill="url(#g160)"/><rect x="127.00" y="733.60" width="575.00" height="4.60" fill="url(#g161)"/><rect x="127.00" y="737.60" width="575.00" height="4.60" fill="url(#g162)"/><rect x="127.00" y="741.60" width="575.00" height="4.60" fill="url(#g163)"/><rect x="127.00" y="745.60" width="575.00" height="4.60" fill="url(#g164)"/><rect x="127.00" y="749.60" width="575.00" height="4.60" fill="url(#g165)"/><rect x="127.00" y="753.60" width="575.00" height="4.60" fill="url(#g166)"/><rect x="127.00" y="757.60" width="575.00" height="4.60" fill="url(#g167)"/><rect x="127.00" y="761.60" width="575.00" height="4.60" fill="url(#g168)"/><rect x="127.00" y="765.60" width="575.00" height="4.60" fill="url(#g169)"/><rect x="127.00" y="769.60" width="575.00" height="4.60" fill="url(#g170)"/><rect x="127.00" y="773.60" width="575.00" height="4.60" fill="url(#g171)"/><rect x="127.00" y="777.60" width="575.00" height="4.60" fill="url(#g172)"/><rect x="127.00" y="781.60" width="575.00" height="4.60" fill="url(#g173)"/><rect x="127.00" y="785.60" width="575.00" height="4.60" fill="url(#g174)"/><rect x="127.00" y="789.60" width="575.00" height="4.60" fill="url(#g175)"/><rect x="127.00" y="793.60" width="575.00" height="4.60" fill="url(#g176)"/><rect x="127.00" y="797.60" width="575.00" height="4.60" fill="url(#g177)"/><rect x="127.00" y="801.60" width="575.00" height="4.60" fill="url(#g178)"/><rect x="127.00" y="805.60" width="575.00" height="4.60" fill="url(#g179)"/><rect x="127.00" y="809.60" width="575.00" height="4.60" fill="url(#g180)"/><rect x="127.00" y="813.60" width="575.00" height="4.60" fill="url(#g181)"/><rect x="127.00" y="817.60" width="575.00" height="4.60" fill="url(#g182)"/><rect x="127.00" y="821.60" width="575.00" height="4.60" fill="url(#g183)"/><rect x="127.00" y="825.60" width="575.00" height="4.60" fill="url(#g184)"/><rect x="127.00" y="829.60" width="575.00" height="4.60" fill="url(#g185)"/><rect x="127.00" y="833.60" width="575.00" height="4.60" fill="url(#g186)"/><rect x="127.00" y="837.60" width="575.00" height="4.60" fill="url(#g187)"/><rect x="127.00" y="841.60" width="575.00" height="4.60" fill="url(#g188)"/><rect x="127.00" y="845.60" width="575.00" height="4.60" fill="url(#g189)"/><rect x="127.00" y="849.60" width="575.00" height="4.60" fill="url(#g190)"/><rect x="127.00" y="853.60" width="575.00" height="4.60" fill="url(#g191)"/><rect x="127.00" y="857.60" width="575.00" height="4.60" fill="url(#g192)"/><rect x="127.00" y="861.60" width="575.00" height="4.60" fill="url(#g193)"/><rect x="127.00" y="865.60" width="575.00" height="4.60" fill="url(#g194)"/><rect x="127.00" y="869.60" width="575.00" height="4.60" fill="url(#g195)"/><rect x="127.00" y="873.60" width="575.00" height="4.60" fill="url(#g196)"/><rect x="127.00" y="877.60" width="575.00" height="4.60" fill="url(#g197)"/><rect x="127.00" y="881.60" width="575.00" height="4.60" fill="url(#g198)"/><rect x="127.00" y="885.60" width="575.00" height="4.60" fill="url(#g199)"/><rect x="127.00" y="889.60" width="575.00" height="4.60" fill="url(#g200)"/><rect x="127.00" y="893.60" width="575.00" height="4.00" fill="url(#g201)"/></g></g>
<path d="M124.20,880.00 C133.57,880.80 163.98,883.45 180.40,884.80 C196.82,886.15 208.60,887.08 222.70,888.10 C236.80,889.12 248.78,890.00 265.00,890.90 C281.22,891.80 303.78,892.83 320.00,893.50 C336.22,894.17 349.13,894.55 362.30,894.90 C375.47,895.25 387.25,895.53 399.00,895.60 C410.75,895.67 420.12,895.47 432.80,895.30 C445.48,895.13 461.40,894.88 475.10,894.60 C488.80,894.32 502.53,893.95 515.00,893.60 C527.47,893.25 536.98,893.02 549.90,892.50 C562.82,891.98 577.38,891.08 592.50,890.50 C607.62,889.92 626.85,889.25 640.60,889.00 C654.35,888.75 664.48,888.82 675.00,889.00 C685.52,889.18 698.92,889.92 703.70,890.10" stroke="#000" stroke-width="2" fill="none" clip-path="url(#clipCL)"/>
<path d="M399,554.3V895.60" stroke="#0072bd" stroke-width="3.8"/>
<path d="M550.5,554.3V892.47" stroke="#ff9966" stroke-width="3.8"/>
<rect x="124.20" y="553.60" width="579.50" height="366.10" fill="none" stroke="#262626" stroke-width="1.80"/>
<text transform="translate(108.20,569.60) scale(0.900,1)" font-family="Liberation Serif" font-size="47.30" font-weight="normal" fill="#262626" text-anchor="end">0</text>
<text transform="translate(108.20,636.32) scale(0.900,1)" font-family="Liberation Serif" font-size="47.30" font-weight="normal" fill="#262626" text-anchor="end">-5</text>
<text transform="translate(108.20,703.04) scale(0.900,1)" font-family="Liberation Serif" font-size="47.30" font-weight="normal" fill="#262626" text-anchor="end">-10</text>
<text transform="translate(108.20,769.76) scale(0.900,1)" font-family="Liberation Serif" font-size="47.30" font-weight="normal" fill="#262626" text-anchor="end">-15</text>
<text transform="translate(108.20,836.48) scale(0.900,1)" font-family="Liberation Serif" font-size="47.30" font-weight="normal" fill="#262626" text-anchor="end">-20</text>
<text transform="translate(108.20,903.20) scale(0.900,1)" font-family="Liberation Serif" font-size="47.30" font-weight="normal" fill="#262626" text-anchor="end">-25</text>
<text transform="translate(248.10,980.00) scale(0.900,1)" font-family="Liberation Serif" font-size="47.30" font-weight="normal" fill="#262626" text-anchor="middle">120.5</text>
<text transform="translate(517.10,980.00) scale(0.900,1)" font-family="Liberation Serif" font-size="47.30" font-weight="normal" fill="#262626" text-anchor="middle">120.55</text>
<text transform="translate(31.90,737.70) rotate(-90) scale(1,0.900)" font-family="Liberation Serif" font-size="51.70" font-weight="bold" fill="#262626" text-anchor="middle">Depth(m)</text>
<text transform="translate(414.00,1040.80) scale(0.900,1)" font-family="Liberation Serif" font-size="51.70" font-weight="bold" fill="#262626" text-anchor="middle">Longitude(&#176;E)</text>
<rect x="733.00" y="553.60" width="19.00" height="366.10" fill="url(#cbg)"/>
<rect x="733.00" y="553.60" width="19.00" height="366.10" fill="none" stroke="#262626" stroke-width="1.90"/>
<path d="M752,736.65h-3.6" stroke="#262626" stroke-width="1.6"/>
<text transform="translate(766.20,568.60) scale(0.900,1)" font-family="Liberation Serif" font-size="44.50" font-weight="normal" fill="#262626" text-anchor="start">24</text>
<text transform="translate(766.20,751.65) scale(0.900,1)" font-family="Liberation Serif" font-size="44.50" font-weight="normal" fill="#262626" text-anchor="start">22</text>
<text transform="translate(766.20,934.70) scale(0.900,1)" font-family="Liberation Serif" font-size="44.50" font-weight="normal" fill="#262626" text-anchor="start">20</text>
<text transform="translate(745.70,533.30) scale(0.900,1)" font-family="Liberation Serif" font-size="44.70" font-weight="normal" fill="#000" text-anchor="middle">&#176;C</text>
<path d="M958.00,553.60h4.50M1403.30,553.60h-4.50M958.00,622.84h4.50M1403.30,622.84h-4.50M958.00,692.08h4.50M1403.30,692.08h-4.50M958.00,761.32h4.50M1403.30,761.32h-4.50M958.00,830.56h4.50M1403.30,830.56h-4.50M958.00,899.80h4.50M1403.30,899.80h-4.50M1020.40,919.70v-4.50M1020.40,553.60v4.50M1146.20,919.70v-4.50M1146.20,553.60v4.50M1271.60,919.70v-4.50M1271.60,553.60v4.50M1398.00,919.70v-4.50M1398.00,553.60v4.50" stroke="#262626" stroke-width="1.60" fill="none"/>
<path d="M1181.80,558.00 L1225.80,563.10 L1239.50,570.50 L1248.00,580.70 L1268.10,615.60 L1282.90,638.90 L1297.70,662.10 L1306.00,680.00 L1314.70,695.20 L1329.90,725.60 L1345.10,762.50 L1358.10,795.00 L1371.20,827.60 L1382.00,858.00 L1388.50,881.80 L1391.80,907.90" stroke="#0072bd" stroke-width="3.6" fill="none" stroke-linejoin="round"/>
<path d="M1022.70,558.00 L1049.10,563.10 L1052.30,570.10 L1064.60,580.00 L1098.90,587.00 L1131.60,593.40 L1162.30,602.50 L1193.00,610.90 L1230.00,632.50 L1269.20,660.00 L1297.40,689.80 L1318.00,722.30 L1334.30,753.80 L1347.30,779.80 L1360.30,805.90 L1373.30,838.40 L1384.20,864.50 L1389.60,886.20 L1392.90,904.60" stroke="#ff9966" stroke-width="3.6" fill="none" stroke-linejoin="round"/>
<rect x="958.00" y="553.60" width="445.30" height="366.10" fill="none" stroke="#262626" stroke-width="1.80"/>
<text transform="translate(941.60,569.60) scale(0.900,1)" font-family="Liberation Serif" font-size="47.30" font-weight="normal" fill="#262626" text-anchor="end">0</text>
<text transform="translate(941.60,638.84) scale(0.900,1)" font-family="Liberation Serif" font-size="47.30" font-weight="normal" fill="#262626" text-anchor="end">-5</text>
<text transform="translate(941.60,708.08) scale(0.900,1)" font-family="Liberation Serif" font-size="47.30" font-weight="normal" fill="#262626" text-anchor="end">-10</text>
<text transform="translate(941.60,777.32) scale(0.900,1)" font-family="Liberation Serif" font-size="47.30" font-weight="normal" fill="#262626" text-anchor="end">-15</text>
<text transform="translate(941.60,846.56) scale(0.900,1)" font-family="Liberation Serif" font-size="47.30" font-weight="normal" fill="#262626" text-anchor="end">-20</text>
<text transform="translate(941.60,915.80) scale(0.900,1)" font-family="Liberation Serif" font-size="47.30" font-weight="normal" fill="#262626" text-anchor="end">-25</text>
<text transform="translate(1020.40,980.00) scale(0.900,1)" font-family="Liberation Serif" font-size="47.30" font-weight="normal" fill="#262626" text-anchor="middle">-6</text>
<text transform="translate(1146.20,980.00) scale(0.900,1)" font-family="Liberation Serif" font-size="47.30" font-weight="normal" fill="#262626" text-anchor="middle">-5</text>
<text transform="translate(1271.60,980.00) scale(0.900,1)" font-family="Liberation Serif" font-size="47.30" font-weight="normal" fill="#262626" text-anchor="middle">-4</text>
<text transform="translate(1398.00,980.00) scale(0.900,1)" font-family="Liberation Serif" font-size="47.30" font-weight="normal" fill="#262626" text-anchor="middle">-3</text>
<text transform="translate(865.80,737.70) rotate(-90) scale(1,0.900)" font-family="Liberation Serif" font-size="51.70" font-weight="bold" fill="#262626" text-anchor="middle">Depth(m)</text>
<text transform="translate(1029.29,1057.30) scale(0.900,1)" font-family="Liberation Serif" font-size="51.70" font-weight="bold" fill="#262626" text-anchor="start">log</text>
<text transform="translate(1088.78,1083.30) scale(0.900,1)" font-family="Liberation Serif" font-size="42.00" font-weight="bold" fill="#262626" text-anchor="start">10</text>
<text transform="translate(1126.25,1057.30) scale(0.900,1)" font-family="Liberation Serif" font-size="51.70" font-weight="bold" fill="#262626" text-anchor="start">(&#964;) (m</text>
<text transform="translate(1245.21,1031.80) scale(0.900,1)" font-family="Liberation Serif" font-size="42.00" font-weight="bold" fill="#262626" text-anchor="start">2</text>
<text transform="translate(1265.70,1057.30) scale(0.900,1)" font-family="Liberation Serif" font-size="51.70" font-weight="bold" fill="#262626" text-anchor="start">s</text>
<text transform="translate(1283.80,1031.80) scale(0.900,1)" font-family="Liberation Serif" font-size="42.00" font-weight="bold" fill="#262626" text-anchor="start">-2</text>
<text transform="translate(1314.11,1057.30) scale(0.900,1)" font-family="Liberation Serif" font-size="51.70" font-weight="bold" fill="#262626" text-anchor="start">)</text>
<text transform="translate(-0.76,28.20) scale(1.000,1)" font-family="Liberation Sans" font-size="30.20" font-weight="bold" fill="#000" text-anchor="start">A</text>
<text transform="translate(834.10,28.00) scale(1.000,1)" font-family="Liberation Sans" font-size="30.20" font-weight="bold" fill="#000" text-anchor="start">B</text>
<text transform="translate(0.10,541.20) scale(1.000,1)" font-family="Liberation Sans" font-size="30.20" font-weight="bold" fill="#000" text-anchor="start">C</text>
<text transform="translate(833.90,541.00) scale(1.000,1)" font-family="Liberation Sans" font-size="30.20" font-weight="bold" fill="#000" text-anchor="start">D</text>
</svg>
</body></html>
